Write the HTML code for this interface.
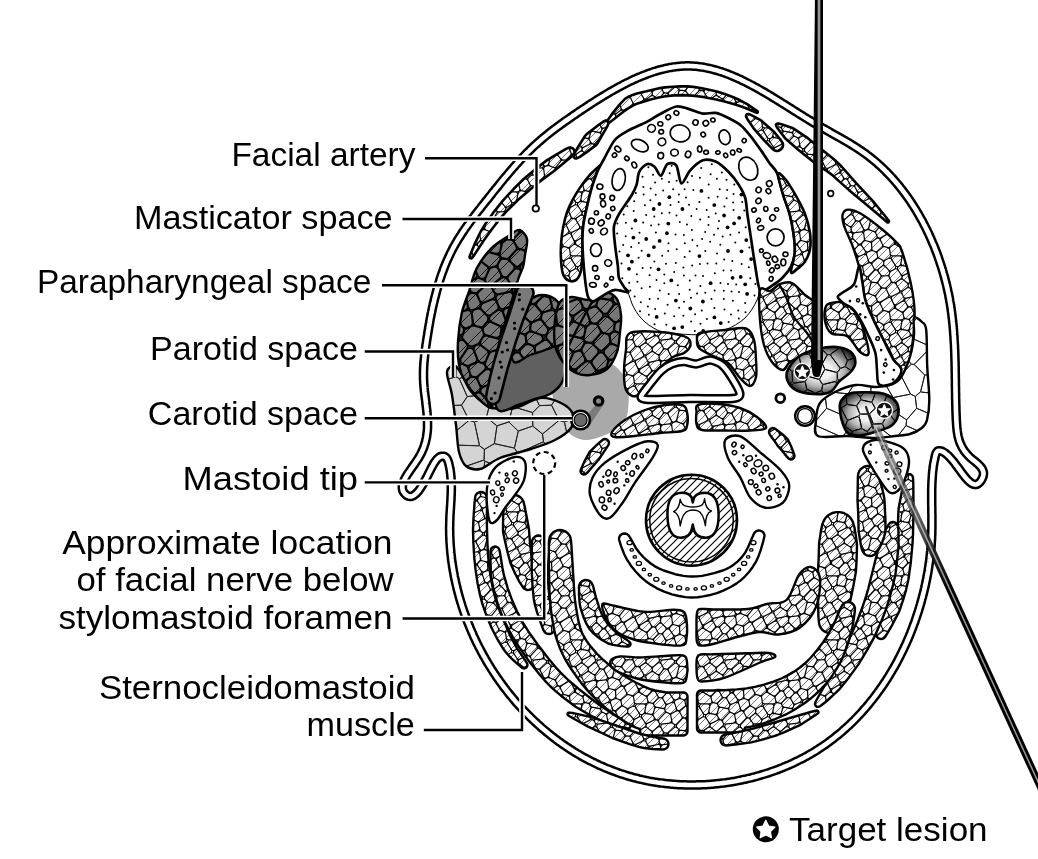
<!DOCTYPE html>
<html><head><meta charset="utf-8"><style>
html,body{margin:0;padding:0;background:#fff;}
svg{display:block;}
text{font-family:"Liberation Sans",sans-serif;font-size:34px;fill:#000;}
</style></head><body>
<svg width="1038" height="859" viewBox="0 0 1038 859">
<defs><pattern id="pc" width="64" height="64" patternUnits="userSpaceOnUse"><rect width="64" height="64" fill="#fff"/><path d="M26.1 51.6L26.3 51.8L26.5 51.9L26.7 52L26.9 52.1L27.1 52.2L27.3 52.3L27.5 52.3L27.8 52.3L28 52.3L28.2 52.3L28.4 52.2L28.7 52.2L28.9 52.1L29.1 52L29.3 51.8L29.4 51.7L29.6 51.5L31.8 49.1L31.9 48.9L32 48.7L32.1 48.5L32.2 48.3L32.3 48.1L32.3 47.9L32.4 47.7L32.4 47.4L32.4 47.2L31.8 42.1L31.7 41.9L31.7 41.6L31.6 41.4L31.5 41.2L31.3 41L31.2 40.8L31 40.7L30.9 40.5L30.7 40.4L30.5 40.3L30.3 40.2L30 40.1L29.8 40L29.6 40L29.3 40L29.1 40L22.9 40.7L22.6 40.7L22.4 40.8L22.2 40.9L21.9 41L21.7 41.1L21.5 41.3L21.4 41.4L21.2 41.6L21.1 41.8L21 42.1L20.9 42.3L20.8 42.5L20.7 42.7L20.7 43L20.7 45L20.7 45.2L20.7 45.5L20.7 45.7L20.8 46L20.9 46.2L21 46.4L21.2 46.6L21.3 46.8ZM-6.9 18.7L-6.9 19L-7 19.2L-7 19.4L-7 19.6L-7 19.9L-7 20.1L-6.9 20.3L-6.8 20.5L-4.8 25L-4.7 25.2L-4.6 25.4L-4.5 25.6L-4.3 25.7L-4.1 25.9L-3.9 26L-3.7 26.1L-3.5 26.2L-3.3 26.3L-3.1 26.4L-1.7 26.6L-1.5 26.6L-1.2 26.7L-1 26.6L-0.8 26.6L-0.5 26.5L-0.3 26.5L-0.1 26.3L0.1 26.2L4.8 22.9L5 22.7L5.2 22.6L5.3 22.4L5.5 22.2L5.6 22L5.7 21.7L5.7 21.5L5.8 21.1L5.9 20.8L5.9 20.6L5.9 20.3L5.9 20.1L5.8 19.9L5.7 19.6L5.6 19.4L5.5 19.2L1.8 13.8L1.7 13.6L1.5 13.5L1.4 13.3L1.2 13.2L1 13L0.7 12.9L0.5 12.9L0.3 12.8L0 12.8L-0.2 12.8L-0.5 12.8L-0.7 12.8L-0.9 12.9L-1.1 13L-1.4 13.1L-5.1 15.3L-5.3 15.4L-5.5 15.6L-5.6 15.8L-5.8 15.9L-5.9 16.1L-6 16.4L-6.1 16.6ZM57.1 18.7L57.1 19L57 19.2L57 19.4L57 19.6L57 19.9L57 20.1L57.1 20.3L57.2 20.5L59.2 25L59.3 25.2L59.4 25.4L59.5 25.6L59.7 25.7L59.9 25.9L60.1 26L60.3 26.1L60.5 26.2L60.7 26.3L60.9 26.4L62.3 26.6L62.5 26.6L62.8 26.7L63 26.6L63.2 26.6L63.5 26.5L63.7 26.5L63.9 26.3L64.1 26.2L68.8 22.9L69 22.7L69.2 22.6L69.3 22.4L69.5 22.2L69.6 22L69.7 21.7L69.7 21.5L69.8 21.1L69.9 20.8L69.9 20.6L69.9 20.3L69.9 20.1L69.8 19.9L69.7 19.6L69.6 19.4L69.5 19.2L65.8 13.8L65.7 13.6L65.5 13.5L65.4 13.3L65.2 13.2L65 13L64.7 12.9L64.5 12.9L64.3 12.8L64 12.8L63.8 12.8L63.5 12.8L63.3 12.8L63.1 12.9L62.9 13L62.6 13.1L58.9 15.3L58.7 15.4L58.5 15.6L58.4 15.8L58.2 15.9L58.1 16.1L58 16.4L57.9 16.6ZM5 6.8L5 7L4.9 7.3L5 7.5L5 7.7L5.1 8L5.1 8.2L5.2 8.4L5.4 8.6L5.5 8.8L5.6 9L5.8 9.1L6 9.2L6.2 9.4L6.4 9.5L6.6 9.6L6.9 9.6L10.6 10.4L10.9 10.4L11.1 10.4L11.4 10.4L11.6 10.4L11.8 10.3L12.1 10.2L12.3 10.1L12.5 10L12.7 9.9L12.9 9.7L13 9.5L13.2 9.3L13.3 9.1L13.4 8.9L13.4 8.6L14.7 3.9L14.8 3.7L14.8 3.4L14.8 3.2L14.8 2.9L14.7 2.7L14.7 2.5L14.6 2.2L14.4 2L13.5 0.4L13.3 0.2L13.2 0L13 -0.1L12.8 -0.3L12.7 -0.4L12.5 -0.5L12.2 -0.6L12 -0.7L9.4 -1.4L9.2 -1.4L9 -1.5L8.8 -1.5L8.5 -1.4L8.3 -1.4L8.1 -1.4L7.9 -1.3L7.7 -1.2L7.5 -1.1L7.3 -0.9L7.1 -0.7L6.9 -0.6L6.7 -0.4L6.6 -0.2L6.5 -0L6.4 0.2L6.3 0.4L6.2 0.7ZM5 70.8L5 71L4.9 71.3L5 71.5L5 71.7L5.1 72L5.1 72.2L5.2 72.4L5.4 72.6L5.5 72.8L5.6 73L5.8 73.1L6 73.2L6.2 73.4L6.4 73.5L6.6 73.6L6.9 73.6L10.6 74.4L10.9 74.4L11.1 74.4L11.4 74.4L11.6 74.4L11.8 74.3L12.1 74.2L12.3 74.1L12.5 74L12.7 73.9L12.9 73.7L13 73.5L13.2 73.3L13.3 73.1L13.4 72.9L13.4 72.6L14.7 67.9L14.8 67.7L14.8 67.4L14.8 67.2L14.8 66.9L14.7 66.7L14.7 66.5L14.6 66.2L14.4 66L13.5 64.4L13.3 64.2L13.2 64L13 63.9L12.8 63.7L12.7 63.6L12.5 63.5L12.2 63.4L12 63.3L9.4 62.6L9.2 62.6L9 62.5L8.8 62.5L8.5 62.6L8.3 62.6L8.1 62.6L7.9 62.7L7.7 62.8L7.5 62.9L7.3 63.1L7.1 63.3L6.9 63.4L6.7 63.6L6.6 63.8L6.5 64L6.4 64.2L6.3 64.4L6.2 64.7ZM7.3 19.5L7.1 19.6L7 19.7L6.8 19.9L6.6 20.1L6.5 20.2L6.4 20.4L6.2 20.7L6.2 20.9L6.1 21.1L6.1 21.3L6.1 21.6L6.1 21.8L6.1 22.1L6.2 22.3L6.2 22.5L6.3 22.7L6.5 22.9L6.6 23.1L6.8 23.3L6.9 23.4L10.7 26.5L10.9 26.6L11.1 26.8L11.3 26.9L11.6 26.9L11.8 27L12 27L12.3 27L12.5 27L12.7 27L13 26.9L13.2 26.8L13.4 26.7L13.6 26.6L13.8 26.4L18.7 22.1L18.9 21.9L19 21.7L19.2 21.5L19.3 21.3L19.4 21.1L19.4 20.9L19.5 20.6L19.5 20.4L19.5 20.2L19.5 19.9L19.4 19.7L19.4 19.5L19.3 19.2L18.3 17.3L18.2 17.1L18.1 17L17.9 16.8L17.8 16.6L17.6 16.5L17.4 16.3L17.2 16.2L16.3 15.8L16.1 15.7L15.9 15.7L15.6 15.6L15.4 15.6L15.1 15.6L14.9 15.6L14.7 15.7L14.4 15.8L14.2 15.9ZM19.6 38.8L19.7 39L19.8 39.2L19.9 39.4L20 39.6L20.1 39.8L20.3 40L20.5 40.2L20.7 40.3L20.9 40.4L21.1 40.5L21.3 40.6L21.5 40.6L21.8 40.7L22 40.7L22.2 40.7L29.3 39.9L29.5 39.8L29.7 39.8L30 39.7L30.2 39.6L30.4 39.5L30.6 39.3L30.7 39.2L30.9 39L31 38.8L31.1 38.6L31.2 38.4L31.3 38.2L31.4 38L31.4 37.7L31.4 37.5L31.4 37.3L31.4 37L31.3 36.8L31.3 36.6L31.2 36.4L28.1 30.5L28 30.3L27.8 30.1L27.7 29.9L27.5 29.7L27.3 29.6L27.1 29.4L26.8 29.3L26.6 29.3L26.4 29.2L25.3 29L25.1 29L24.9 29L24.6 29L24.4 29.1L24.2 29.1L23.9 29.2L23.7 29.3L23.5 29.5L23.3 29.6L23.2 29.8L23 30L19.6 34.6L19.4 34.7L19.3 34.9L19.2 35.2L19.2 35.4L19.1 35.6L19.1 35.8L19.1 36L19.1 36.3L19.1 36.5ZM7.9 60.9L8 61.1L8.1 61.3L8.2 61.5L8.3 61.7L8.5 61.9L8.6 62L8.8 62.2L9 62.3L9.2 62.4L9.4 62.5L9.6 62.6L11.6 63.1L11.8 63.2L12.1 63.2L12.3 63.2L12.5 63.2L12.8 63.1L13 63.1L13.2 63L13.4 62.9L13.6 62.8L13.8 62.6L14 62.5L17.4 59L17.5 58.8L17.7 58.6L17.8 58.4L17.9 58.2L18 58L18 57.7L18.1 57.5L18.1 57.3L18.1 57L18 56.8L18 56.6L17.9 56.3L17.8 56.1L15.7 52.2L15.6 52L15.4 51.8L15.3 51.7L15.1 51.5L14.9 51.4L14.7 51.3L14.5 51.2L14.3 51.1L14.1 51L13.9 51L13.3 50.9L13.1 50.9L12.9 50.9L12.7 50.9L12.4 51L12.2 51L12 51.1L11.8 51.2L11.6 51.4L11.4 51.5L11.3 51.7L7.7 55.7L7.5 55.9L7.4 56.1L7.3 56.3L7.2 56.5L7.1 56.8L7.1 57L7 57.2L7.1 57.5L7.1 57.7L7.1 58ZM6 38L5.8 37.8L5.7 37.6L5.5 37.4L5.4 37.2L5.2 37.1L5 37L4.8 36.9L4.6 36.8L4.3 36.7L4.1 36.7L3.9 36.7L3.6 36.7L3.4 36.7L3.2 36.8L3 36.8L2.8 36.9L-3.4 40L-3.6 40.1L-3.7 40.3L-3.9 40.4L-4.1 40.6L-4.2 40.8L-4.4 41L-4.5 41.2L-4.5 41.4L-4.6 41.6L-4.7 41.8L-4.7 42.1L-4.7 42.3L-4.6 42.5L-4.6 42.8L-4.5 43L-4.5 43.2L-2.4 47.5L-2.3 47.7L-2.2 47.9L-2 48.1L-1.9 48.3L-1.7 48.4L-1.5 48.6L-1.3 48.7L-1 48.8L-0.8 48.8L-0.6 48.9L-0.3 48.9L-0.1 48.9L0.2 48.9L0.4 48.8L0.6 48.7L0.8 48.6L1 48.5L7 44.7L7.2 44.6L7.4 44.4L7.6 44.2L7.7 44L7.8 43.8L7.9 43.6L8 43.4L8.1 43.2L8.1 42.9L8.1 42.7L8.1 42.5L8.1 42.2L8 42L8 41.8L7.9 41.5ZM70 38L69.8 37.8L69.7 37.6L69.5 37.4L69.4 37.2L69.2 37.1L69 37L68.8 36.9L68.6 36.8L68.3 36.7L68.1 36.7L67.9 36.7L67.6 36.7L67.4 36.7L67.2 36.8L67 36.8L66.8 36.9L60.6 40L60.4 40.1L60.3 40.3L60.1 40.4L59.9 40.6L59.8 40.8L59.6 41L59.5 41.2L59.5 41.4L59.4 41.6L59.3 41.8L59.3 42.1L59.3 42.3L59.4 42.5L59.4 42.8L59.5 43L59.5 43.2L61.6 47.5L61.7 47.7L61.8 47.9L62 48.1L62.1 48.3L62.3 48.4L62.5 48.6L62.7 48.7L63 48.8L63.2 48.8L63.4 48.9L63.7 48.9L63.9 48.9L64.2 48.9L64.4 48.8L64.6 48.7L64.8 48.6L65 48.5L71 44.7L71.2 44.6L71.4 44.4L71.6 44.2L71.7 44L71.8 43.8L71.9 43.6L72 43.4L72.1 43.2L72.1 42.9L72.1 42.7L72.1 42.5L72.1 42.2L72 42L72 41.8L71.9 41.5ZM57.4 1.6L57.6 1.5L57.8 1.3L57.9 1.1L58.1 0.9L58.2 0.7L58.3 0.5L58.4 0.3L58.5 0.1L58.5 -0.2L58.5 -0.4L58.5 -0.6L58.5 -0.9L57.5 -6.5L57.5 -6.7L57.4 -6.9L57.3 -7.1L57.1 -7.3L57 -7.5L56.8 -7.7L56.7 -7.9L56.5 -8L56.3 -8.2L56 -8.3L55.8 -8.3L52.7 -9.2L52.5 -9.3L52.2 -9.3L52 -9.3L51.8 -9.3L51.5 -9.2L51.3 -9.2L51.1 -9.1L50.9 -9L50.7 -8.9L50.5 -8.7L45.9 -4.8L45.7 -4.6L45.5 -4.4L45.4 -4.2L45.3 -4L45.2 -3.8L45.1 -3.6L45 -3.3L45 -3.1L45 -2.9L45 -2.6L45.1 -2.4L45.7 0.5L45.8 0.7L45.9 1L46 1.2L46.2 1.4L46.3 1.6L46.5 1.8L46.7 1.9L46.9 2L50.7 4.2L50.9 4.3L51.1 4.4L51.3 4.5L51.6 4.5L51.8 4.5L52 4.5L52.3 4.5L52.5 4.5L52.7 4.4L52.9 4.3L53.1 4.2ZM57.4 65.6L57.6 65.5L57.8 65.3L57.9 65.1L58.1 64.9L58.2 64.7L58.3 64.5L58.4 64.3L58.5 64.1L58.5 63.8L58.5 63.6L58.5 63.4L58.5 63.1L57.5 57.5L57.5 57.3L57.4 57.1L57.3 56.9L57.1 56.7L57 56.5L56.8 56.3L56.7 56.1L56.5 56L56.3 55.8L56 55.7L55.8 55.7L52.7 54.8L52.5 54.7L52.2 54.7L52 54.7L51.8 54.7L51.5 54.8L51.3 54.8L51.1 54.9L50.9 55L50.7 55.1L50.5 55.3L45.9 59.2L45.7 59.4L45.5 59.6L45.4 59.8L45.3 60L45.2 60.2L45.1 60.4L45 60.7L45 60.9L45 61.1L45 61.4L45.1 61.6L45.7 64.5L45.8 64.7L45.9 65L46 65.2L46.2 65.4L46.3 65.6L46.5 65.8L46.7 65.9L46.9 66L50.7 68.2L50.9 68.3L51.1 68.4L51.3 68.5L51.6 68.5L51.8 68.5L52 68.5L52.3 68.5L52.5 68.5L52.7 68.4L52.9 68.3L53.1 68.2ZM-7 39L-6.9 39.2L-6.8 39.4L-6.6 39.6L-6.4 39.8L-6.2 39.9L-6 40L-5.8 40.1L-5.6 40.2L-5.4 40.3L-5.1 40.3L-4.9 40.4L-4.7 40.4L-4.4 40.3L-4.2 40.3L-4 40.2L-3.7 40.1L2.3 37.1L2.5 37L2.7 36.8L2.8 36.7L3 36.5L3.1 36.3L3.3 36.1L3.4 35.9L3.5 35.7L3.5 35.5L3.6 35.3L3.6 35L3.6 34.8L3.6 34.6L3.5 34.4L3.5 34.1L3.4 33.9L3.3 33.7L-0.2 27.8L-0.3 27.7L-0.5 27.5L-0.6 27.3L-0.8 27.2L-1 27L-1.2 26.9L-1.4 26.8L-1.6 26.8L-1.8 26.7L-3.1 26.5L-3.3 26.4L-3.5 26.4L-3.8 26.4L-4 26.5L-4.2 26.5L-4.5 26.6L-4.7 26.7L-4.9 26.9L-5.1 27L-5.2 27.2L-9 31.1L-9.1 31.2L-9.3 31.4L-9.4 31.6L-9.5 31.9L-9.6 32.1L-9.6 32.3L-9.6 32.6L-9.7 32.8L-9.6 33L-9.6 33.3L-9.5 33.5L-9.4 33.7ZM57 39L57.1 39.2L57.2 39.4L57.4 39.6L57.6 39.8L57.8 39.9L58 40L58.2 40.1L58.4 40.2L58.6 40.3L58.9 40.3L59.1 40.4L59.3 40.4L59.6 40.3L59.8 40.3L60 40.2L60.3 40.1L66.3 37.1L66.5 37L66.7 36.8L66.8 36.7L67 36.5L67.1 36.3L67.3 36.1L67.4 35.9L67.5 35.7L67.5 35.5L67.6 35.3L67.6 35L67.6 34.8L67.6 34.6L67.5 34.4L67.5 34.1L67.4 33.9L67.3 33.7L63.8 27.8L63.7 27.7L63.5 27.5L63.4 27.3L63.2 27.2L63 27L62.8 26.9L62.6 26.8L62.4 26.8L62.2 26.7L60.9 26.5L60.7 26.4L60.5 26.4L60.2 26.4L60 26.5L59.8 26.5L59.5 26.6L59.3 26.7L59.1 26.9L58.9 27L58.8 27.2L55 31.1L54.9 31.2L54.7 31.4L54.6 31.6L54.5 31.9L54.4 32.1L54.4 32.3L54.4 32.6L54.3 32.8L54.4 33L54.4 33.3L54.5 33.5L54.6 33.7ZM37 20.3L36.9 20.5L36.7 20.7L36.6 20.9L36.5 21.1L36.5 21.3L36.4 21.6L36.4 21.8L36.4 22L36.4 22.3L36.5 22.5L36.6 22.7L36.6 23L36.8 23.2L36.9 23.4L37 23.5L38.7 25.3L38.8 25.5L39 25.6L39.2 25.7L39.4 25.9L39.6 25.9L39.9 26L40.1 26.1L43.7 26.6L43.9 26.6L44.1 26.6L44.4 26.6L44.6 26.5L44.8 26.5L45 26.4L45.2 26.3L45.4 26.1L45.6 26L45.8 25.8L45.9 25.7L46.1 25.5L48.6 21.4L48.8 21.1L48.8 20.9L48.9 20.7L49 20.5L49 20.2L49 20L49 19.7L48.9 19.5L48.9 19.3L48.8 19L48.6 18.8L48.5 18.6L45.7 15L45.6 14.8L45.4 14.6L45.2 14.5L45 14.3L44.8 14.2L44.6 14.1L44.3 14.1L44.1 14L44 14L43.8 14L43.6 14L43.4 14.1L43.1 14.1L42.9 14.2L42.7 14.3L42.5 14.4L42.3 14.5L42.2 14.6L42 14.8ZM39.9 56.7L39.9 57L39.9 57.2L40 57.4L40.1 57.6L40.2 57.8L40.3 58L40.5 58.2L40.6 58.4L40.8 58.5L41 58.6L41.2 58.8L41.4 58.9L43.3 59.6L43.6 59.7L43.8 59.7L44 59.8L44.3 59.8L44.5 59.7L44.7 59.7L45 59.6L45.2 59.6L45.4 59.5L45.6 59.3L45.8 59.2L50 55.6L50.2 55.4L50.3 55.2L50.5 55L50.6 54.8L50.7 54.6L50.7 54.4L50.8 54.1L50.8 53.9L50.8 53.6L50.8 53.4L50.7 53.2L50.7 52.9L50.6 52.7L48 47.5L47.9 47.2L47.7 47.1L47.6 46.9L47.4 46.7L47.2 46.6L47 46.4L46.8 46.3L46.6 46.3L46.4 46.2L46.2 46.1L46 46.1L45.7 46.1L45.5 46.1L45.3 46.2L45 46.2L44.8 46.3L44.6 46.4L44.4 46.6L40.6 49.3L40.4 49.5L40.2 49.7L40.1 49.8L39.9 50L39.8 50.3L39.7 50.5L39.7 50.7L39.6 50.9L39.6 51.2L39.6 51.4ZM3.5 33.9L3.6 34.1L3.8 34.3L3.9 34.5L4.1 34.6L4.3 34.8L4.5 34.9L4.7 35L4.9 35L5.2 35.1L5.4 35.1L5.6 35.1L5.9 35.1L6.1 35.1L6.3 35L6.5 34.9L6.7 34.8L6.9 34.7L11.2 31.8L11.3 31.6L11.5 31.5L11.7 31.3L11.8 31.1L11.9 30.9L12 30.7L12.1 30.5L12.1 30.3L12.2 30.1L12.2 29.8L12.2 29L12.2 28.8L12.2 28.6L12.1 28.3L12 28.1L11.9 27.9L11.8 27.7L11.7 27.5L11.5 27.3L11.3 27.1L7 23.6L6.8 23.5L6.6 23.3L6.4 23.2L6.1 23.2L5.9 23.1L5.7 23.1L5.4 23.1L5.2 23.1L5 23.1L4.7 23.2L4.5 23.3L4.3 23.4L4.1 23.5L1.2 25.6L1 25.7L0.8 25.9L0.6 26.1L0.5 26.3L0.4 26.5L0.3 26.7L0.2 26.9L0.2 27.2L0.1 27.4L0.1 27.6L0.2 27.9L0.2 28.1L0.3 28.3L0.4 28.6L0.5 28.8ZM14.9 14.5L15.1 14.7L15.2 14.9L15.4 15.1L15.6 15.3L15.8 15.4L16 15.6L16.4 15.7L16.6 15.8L16.8 15.9L17 15.9L17.3 16L17.5 16L17.7 15.9L18 15.9L18.2 15.8L18.4 15.7L18.6 15.6L18.8 15.5L19 15.3L19.2 15.1L24.7 9L24.8 8.8L25 8.6L25.1 8.4L25.2 8.1L25.2 7.9L25.3 7.7L25.3 7.5L25.3 7.2L25.3 7L25.2 6.7L25.1 6.5L25 6.2L24.9 5.9L24.8 5.7L24.6 5.5L24.5 5.4L24.3 5.2L24.1 5L23.9 4.9L23.7 4.8L23.5 4.7L23.2 4.7L17.3 3.4L17.1 3.4L16.8 3.4L16.6 3.4L16.3 3.4L16.1 3.5L15.9 3.6L15.6 3.7L15.4 3.8L15.3 3.9L15.1 4.1L14.9 4.3L14.8 4.5L14.7 4.7L14.6 4.9L14.5 5.1L13.2 10L13.1 10.2L13.1 10.4L13.1 10.6L13.1 10.9L13.2 11.1L13.2 11.3L13.3 11.5L13.4 11.7ZM35.2 7.5L35.4 7.4L35.5 7.3L35.7 7.1L35.9 7L36 6.8L36.1 6.6L36.2 6.4L36.3 6.2L36.4 6L36.4 5.7L36.5 5.5L36.5 5.3L36.4 5.1L36.4 4.8L36.3 4.6L34.8 -0.1L34.7 -0.3L34.6 -0.5L34.4 -0.7L34.3 -0.9L34.1 -1L34 -1.2L33.8 -1.3L33.6 -1.4L33.3 -1.5L33.1 -1.6L32.9 -1.7L32.7 -1.7L32.4 -1.7L32.2 -1.7L32 -1.6L31.7 -1.6L31.5 -1.5L27.1 0.4L26.8 0.5L26.6 0.7L26.5 0.8L26.3 1L26.1 1.2L26 1.4L25.9 1.6L25.8 1.8L24.9 4L24.9 4.3L24.8 4.5L24.8 4.8L24.8 5L24.8 5.3L24.9 5.5L24.9 5.7L25.4 6.9L25.5 7.1L25.6 7.3L25.7 7.5L25.9 7.7L26.1 7.9L26.2 8L26.4 8.2L26.6 8.3L29.3 9.5L29.5 9.6L29.8 9.6L30 9.7L30.3 9.7L30.5 9.7L30.7 9.7L31 9.6L31.2 9.5L31.4 9.4ZM35.2 71.5L35.4 71.4L35.5 71.3L35.7 71.1L35.9 71L36 70.8L36.1 70.6L36.2 70.4L36.3 70.2L36.4 70L36.4 69.7L36.5 69.5L36.5 69.3L36.4 69.1L36.4 68.8L36.3 68.6L34.8 63.9L34.7 63.7L34.6 63.5L34.4 63.3L34.3 63.1L34.1 63L34 62.8L33.8 62.7L33.6 62.6L33.3 62.5L33.1 62.4L32.9 62.3L32.7 62.3L32.4 62.3L32.2 62.3L32 62.4L31.7 62.4L31.5 62.5L27.1 64.4L26.8 64.5L26.6 64.7L26.5 64.8L26.3 65L26.1 65.2L26 65.4L25.9 65.6L25.8 65.8L24.9 68L24.9 68.3L24.8 68.5L24.8 68.8L24.8 69L24.8 69.3L24.9 69.5L24.9 69.7L25.4 70.9L25.5 71.1L25.6 71.3L25.7 71.5L25.9 71.7L26.1 71.9L26.2 72L26.4 72.2L26.6 72.3L29.3 73.5L29.5 73.6L29.8 73.6L30 73.7L30.3 73.7L30.5 73.7L30.7 73.7L31 73.6L31.2 73.5L31.4 73.4ZM33.3 38.4L33.1 38.5L32.9 38.6L32.7 38.7L32.5 38.8L32.4 39L32.2 39.2L32.1 39.4L32 39.6L31.9 39.8L31.8 40L31.7 40.2L31.7 40.5L31.7 40.7L31.7 40.9L32.4 46.6L32.4 46.9L32.5 47.1L32.6 47.3L32.7 47.5L32.8 47.7L33 47.9L33.1 48.1L33.3 48.3L33.5 48.4L33.7 48.5L34 48.6L34.2 48.7L38.4 49.8L38.6 49.8L38.8 49.8L39.1 49.8L39.3 49.8L39.5 49.8L39.7 49.7L40 49.6L40.2 49.5L40.4 49.4L44 46.7L44.2 46.6L44.4 46.4L44.5 46.2L44.7 46L44.8 45.8L44.9 45.6L44.9 45.4L45 45.2L45 44.9L45 44.7L45 44.5L45 44.3L44.9 44L44.8 43.8L43.6 41.1L43.5 40.9L43.4 40.7L43.2 40.5L43.1 40.3L42.9 40.2L42.7 40L42.5 39.9L42.3 39.8L37.1 37.7L36.9 37.6L36.7 37.6L36.4 37.6L36.2 37.6L36 37.6L35.7 37.6L35.5 37.7ZM41.4 26.3L41.2 26.3L40.9 26.3L40.7 26.3L40.5 26.4L40.2 26.5L40 26.6L39.8 26.7L39.6 26.8L39.4 26.9L39.3 27.1L39.1 27.3L39 27.5L38.9 27.7L38.8 27.9L38.7 28.1L36.9 35.3L36.9 35.5L36.8 35.7L36.8 36L36.8 36.2L36.9 36.4L36.9 36.6L37 36.9L37.1 37.1L37.3 37.3L37.4 37.4L37.6 37.6L37.7 37.8L37.9 37.9L38.1 38L38.3 38.1L41.6 39.4L41.8 39.5L42 39.5L42.3 39.6L42.5 39.6L42.7 39.6L43 39.5L43.2 39.5L43.4 39.4L43.6 39.3L43.8 39.1L44 39L44.2 38.8L44.4 38.7L48.4 33.5L48.6 33.3L48.7 33.1L48.8 32.8L48.9 32.6L48.9 32.4L48.9 32.1L48.9 31.9L48.9 31.7L48.9 31.4L48.8 31.2L48.7 31L48.6 30.8L48.5 30.6L48.3 30.4L45.8 27.5L45.6 27.4L45.5 27.2L45.3 27.1L45 27L44.8 26.9L44.6 26.8L44.3 26.8ZM62.6 13L62.8 12.9L63 12.8L63.1 12.6L63.3 12.4L63.4 12.2L63.5 12L63.6 11.8L63.7 11.6L63.7 11.3L63.7 11.1L63.7 10.8L63.7 10.6L63.7 10.4L63.6 10.1L63.5 9.9L63.4 9.7L59.4 3.3L59.3 3.1L59.1 2.9L59 2.7L58.8 2.6L58.6 2.5L58.4 2.3L58.2 2.3L57.9 2.2L57.7 2.1L57.5 2.1L57.2 2.1L57 2.2L56.8 2.2L56.6 2.3L56.3 2.4L56.1 2.5L53 4.4L52.8 4.5L52.7 4.6L52.5 4.8L52.3 5L52.2 5.2L52.1 5.4L52 5.6L51.9 5.8L51.9 6L51.9 6.2L51.8 7.7L51.8 7.9L51.8 8.2L51.8 8.4L51.9 8.7L52 8.9L52.1 9.1L52.3 9.3L52.4 9.5L56.8 14.2L57 14.4L57.2 14.5L57.4 14.7L57.6 14.8L57.8 14.9L58 14.9L58.2 15L58.5 15L58.7 15L58.9 15L59.1 14.9L59.4 14.9L59.6 14.8L59.8 14.7ZM19.1 18.7L19.2 18.9L19.4 19.1L19.5 19.3L19.7 19.5L19.8 19.6L20 19.7L20.2 19.8L20.4 19.9L20.7 20L20.9 20L21.1 20.1L21.3 20.1L21.6 20.1L29.6 19.1L29.8 19L30 19L30.3 18.9L30.5 18.8L30.7 18.7L30.8 18.5L31 18.4L31.2 18.2L31.3 18L31.4 17.8L31.5 17.6L31.6 17.4L31.6 17.1L31.7 16.9L31.7 16.7L31.7 16.4L31.6 16.2L30.6 11.2L30.5 11L30.5 10.8L30.4 10.6L30.2 10.4L30.1 10.2L30 10.1L29.8 9.9L29.6 9.8L29.4 9.6L29.2 9.5L27.3 8.7L27.1 8.6L26.9 8.5L26.6 8.5L26.4 8.5L26.2 8.5L25.9 8.5L25.7 8.5L25.5 8.6L25.3 8.7L25.1 8.8L24.9 9L24.7 9.1L24.5 9.3L19.1 15.4L19 15.5L18.8 15.7L18.7 15.9L18.7 16.2L18.6 16.4L18.5 16.6L18.5 16.9L18.5 17.1L18.6 17.3L18.6 17.6L18.7 17.8L18.8 18ZM-5.6 61.9L-5.5 62.2L-5.5 62.4L-5.4 62.6L-5.2 62.8L-5.1 63L-4.9 63.2L-4.8 63.4L-4.6 63.5L-4.4 63.6L-4.1 63.7L-3.9 63.8L-3.7 63.9L-3.4 63.9L-3.2 63.9L5.5 63.7L5.7 63.7L6 63.7L6.2 63.6L6.4 63.6L6.6 63.5L6.8 63.4L7 63.2L7 63.2L7.1 63.1L7.3 62.9L7.4 62.7L7.6 62.5L7.7 62.3L7.7 62.1L7.8 61.9L7.8 61.6L7.9 61.4L7.9 61.2L7.8 60.9L7.8 60.7L6.9 57.7L6.9 57.4L6.8 57.2L6.7 57L6.5 56.8L6.4 56.7L6.2 56.5L6.1 56.3L5.9 56.2L-0.1 52.7L-0.3 52.6L-0.5 52.5L-0.7 52.4L-0.9 52.4L-1.2 52.3L-1.4 52.3L-1.6 52.3L-1.8 52.4L-2.1 52.4L-2.3 52.5L-2.5 52.6L-2.7 52.7L-2.9 52.9L-5.6 55.2L-5.8 55.3L-5.9 55.5L-6 55.7L-6.2 55.9L-6.3 56.1L-6.3 56.3L-6.4 56.5L-6.4 56.7L-6.5 57L-6.4 57.2L-6.4 57.4ZM58.4 61.9L58.5 62.2L58.5 62.4L58.6 62.6L58.8 62.8L58.9 63L59.1 63.2L59.2 63.4L59.4 63.5L59.6 63.6L59.9 63.7L60.1 63.8L60.3 63.9L60.6 63.9L60.8 63.9L69.5 63.7L69.7 63.7L70 63.7L70.2 63.6L70.4 63.6L70.6 63.5L70.8 63.4L71 63.2L71 63.2L71.1 63.1L71.3 62.9L71.4 62.7L71.6 62.5L71.7 62.3L71.7 62.1L71.8 61.9L71.8 61.6L71.9 61.4L71.9 61.2L71.8 60.9L71.8 60.7L70.9 57.7L70.9 57.4L70.8 57.2L70.7 57L70.5 56.8L70.4 56.7L70.2 56.5L70.1 56.3L69.9 56.2L63.9 52.7L63.7 52.6L63.5 52.5L63.3 52.4L63.1 52.4L62.8 52.3L62.6 52.3L62.4 52.3L62.2 52.4L61.9 52.4L61.7 52.5L61.5 52.6L61.3 52.7L61.1 52.9L58.4 55.2L58.2 55.3L58.1 55.5L58 55.7L57.8 55.9L57.7 56.1L57.7 56.3L57.6 56.5L57.6 56.7L57.5 57L57.6 57.2L57.6 57.4ZM40.7 5.9L40.5 6L40.4 6.2L40.2 6.4L40.1 6.6L40 6.8L39.9 7.1L39.9 7.3L39.8 7.5L39.8 7.8L39.8 8L39.9 8.2L39.9 8.5L40 8.7L40.1 8.9L42.2 12.7L42.4 12.9L42.5 13.1L42.7 13.3L42.8 13.4L43 13.6L43.2 13.7L43.4 13.8L43.6 13.8L43.9 13.9L44.1 13.9L44.1 13.9L44.4 14L44.6 13.9L44.8 13.9L45.1 13.9L45.3 13.8L45.5 13.7L45.7 13.6L45.9 13.4L50.8 9.4L51 9.2L51.1 9L51.3 8.8L51.4 8.6L51.5 8.4L51.6 8.2L51.6 7.9L51.7 7.7L51.8 6.5L51.8 6.3L51.7 6L51.7 5.8L51.6 5.5L51.5 5.3L51.4 5.1L51.3 4.9L51.1 4.7L51 4.5L50.8 4.4L50.6 4.3L47.4 2.4L47.2 2.3L46.9 2.2L46.7 2.2L46.5 2.1L46.2 2.1L46 2.1L45.7 2.2L45.5 2.2L45.3 2.3L45.1 2.4L44.9 2.5L44.7 2.7ZM34 48.7L33.7 48.7L33.5 48.7L33.3 48.7L33 48.7L32.8 48.7L32.6 48.8L32.3 48.9L32.1 49L31.9 49.1L31.8 49.3L31.6 49.5L30.2 51.1L30 51.2L29.9 51.4L29.8 51.6L29.7 51.8L29.6 52.1L29.6 52.3L29.5 52.5L29.5 52.7L29.6 53L29.6 53.2L29.7 53.4L29.7 53.6L29.8 53.8L30 54L33.3 58.9L33.5 59L33.6 59.2L33.8 59.4L34 59.5L34.2 59.6L34.4 59.7L34.6 59.8L34.8 59.9L35 59.9L35.3 59.9L35.5 59.9L35.7 59.9L36 59.8L36.2 59.7L38.2 58.9L38.5 58.8L38.7 58.7L38.8 58.6L39 58.4L39.2 58.3L39.3 58.1L39.5 57.9L39.6 57.7L39.6 57.5L39.7 57.2L39.8 57L39.8 56.8L39.8 56.6L39.5 51.9L39.5 51.6L39.4 51.4L39.4 51.2L39.3 51L39.2 50.8L39 50.6L38.9 50.4L38.7 50.2L38.5 50.1L38.4 50L38.1 49.8L37.9 49.8L37.7 49.7ZM48.8 18.9L49 19.1L49.2 19.2L49.3 19.4L49.5 19.5L49.7 19.6L49.9 19.7L50.2 19.8L50.4 19.8L50.6 19.8L50.9 19.8L55.1 19.7L55.3 19.6L55.6 19.6L55.8 19.5L56 19.4L56.2 19.3L56.4 19.2L56.6 19L56.8 18.9L56.9 18.7L57 18.5L57.2 18.3L57.2 18.1L57.6 17.1L57.7 16.9L57.7 16.6L57.7 16.4L57.7 16.2L57.7 15.9L57.6 15.7L57.6 15.5L57.5 15.3L57.4 15L57.2 14.8L57.1 14.7L53.2 10.5L53 10.3L52.8 10.2L52.6 10L52.4 9.9L52.2 9.8L51.9 9.8L51.7 9.7L51.5 9.7L51.2 9.7L51 9.8L50.8 9.8L50.5 9.9L50.3 10L50.1 10.1L49.9 10.3L47 12.6L46.8 12.8L46.7 13L46.5 13.1L46.4 13.3L46.3 13.5L46.2 13.8L46.2 14L46.1 14.2L46.1 14.4L46.1 14.7L46.2 14.9L46.2 15.1L46.3 15.3L46.4 15.6L46.5 15.8L46.6 15.9ZM46.3 25.3L46.2 25.5L46.1 25.7L46 26L45.9 26.2L45.9 26.4L45.9 26.7L45.9 26.9L46 27.1L46 27.4L46.1 27.6L46.2 27.8L46.4 28L46.5 28.2L49.1 31.1L49.3 31.3L49.4 31.4L49.6 31.6L49.8 31.7L50 31.8L50.3 31.8L50.5 31.9L50.7 31.9L52.7 32.1L52.9 32.1L53.1 32.1L53.4 32L53.6 32L53.8 31.9L54 31.8L54.2 31.7L54.4 31.5L54.6 31.4L58.5 27.3L58.6 27.2L58.8 27L58.9 26.8L59 26.5L59.1 26.3L59.1 26.1L59.1 25.9L59.1 25.6L59.1 25.4L59.1 25.1L59 24.9L58.9 24.7L57.4 21.2L57.3 21L57.1 20.8L57 20.6L56.8 20.4L56.6 20.3L56.5 20.1L56.2 20L56 19.9L55.8 19.8L55.6 19.8L55.3 19.8L55.1 19.8L50.9 19.9L50.6 20L50.4 20L50.2 20.1L50 20.2L49.8 20.3L49.6 20.4L49.4 20.5L49.2 20.7L49.1 20.9L48.9 21.1ZM51 53.4L51.1 53.6L51.3 53.8L51.4 53.9L51.6 54.1L51.7 54.2L51.9 54.4L52.1 54.5L52.3 54.6L52.5 54.6L56.1 55.6L56.3 55.7L56.5 55.7L56.7 55.7L57 55.7L57.2 55.7L57.4 55.6L57.7 55.5L57.9 55.4L58.1 55.3L58.2 55.2L61.7 52.3L61.9 52.1L62.1 51.9L62.2 51.7L62.3 51.5L62.4 51.3L62.5 51.1L62.5 50.8L62.5 50.8L62.6 50.6L62.6 50.3L62.6 50.1L62.5 49.9L62.4 49.6L62.3 49.4L59.3 42.9L59.2 42.7L59.1 42.5L58.9 42.3L58.8 42.1L58.6 42L58.4 41.9L58.2 41.8L58 41.7L57.7 41.6L57.5 41.5L57.3 41.5L57.1 41.5L56.8 41.5L56.6 41.6L56.4 41.6L56.2 41.7L56 41.8L49.6 45.4L49.4 45.5L49.2 45.6L49 45.8L48.9 46L48.7 46.2L48.6 46.4L48.5 46.6L48.4 46.9L48.4 47.1L48.4 47.3L48.4 47.6L48.4 47.8L48.5 48.1L48.5 48.3L48.6 48.5ZM10.7 42.1L10.5 42.2L10.2 42.3L10 42.4L9.8 42.5L9.7 42.6L9.5 42.8L9.3 43L9.2 43.2L9.1 43.4L9 43.6L8.9 43.8L8.9 44.1L8.8 44.3L8.8 44.5L8.9 44.8L8.9 45L9 45.2L9.1 45.5L9.2 45.7L11.5 49.6L11.6 49.8L11.8 50L12 50.2L12.2 50.4L12.4 50.5L12.6 50.6L12.8 50.7L13 50.8L13.3 50.8L14 50.9L14.2 50.9L14.5 50.9L14.7 50.9L14.9 50.8L15.1 50.8L15.4 50.7L15.6 50.6L15.8 50.4L15.9 50.3L19.8 46.7L19.9 46.5L20.1 46.4L20.2 46.2L20.3 46L20.4 45.7L20.5 45.5L20.5 45.3L20.5 45L20.6 42.9L20.6 42.7L20.6 42.5L20.6 42.2L20.5 42L20.4 41.8L20.3 41.6L20.2 41.4L20 41.2L19.8 41.1L19.7 40.9L19.5 40.8L19.3 40.7L19.1 40.6L18.8 40.5L18.6 40.5L18.4 40.4L18.2 40.4L17.9 40.5L17.7 40.5ZM38 6.9L37.7 6.8L37.5 6.8L37.2 6.8L37 6.8L36.7 6.9L36.5 7L36.3 7.1L32.1 9.2L31.9 9.3L31.7 9.5L31.5 9.6L31.3 9.8L31.2 10L31.1 10.2L30.9 10.4L30.9 10.6L30.8 10.9L30.8 11.1L30.8 11.4L30.8 11.6L30.8 11.8L32.1 18L32.2 18.2L32.2 18.4L32.3 18.6L32.5 18.8L32.6 19L32.7 19.2L32.9 19.3L33.9 20.2L34.1 20.3L34.3 20.4L34.5 20.5L34.7 20.6L34.9 20.7L35.1 20.7L35.4 20.7L35.6 20.7L35.8 20.7L36.1 20.6L36.3 20.6L36.5 20.5L36.7 20.4L36.9 20.2L37.1 20.1L37.2 19.9L41.6 15.1L41.7 14.9L41.9 14.8L42 14.6L42.1 14.3L42.1 14.1L42.2 13.9L42.2 13.7L42.2 13.4L42.2 13.2L42.2 13L42.1 12.8L42 12.6L41.9 12.3L39.6 8.1L39.4 7.9L39.3 7.7L39.1 7.5L38.9 7.3L38.7 7.2L38.5 7.1L38.3 7L38.1 6.9ZM17.5 40.5L17.7 40.4L17.9 40.3L18.1 40.2L18.3 40.1L18.5 39.9L18.7 39.8L18.8 39.6L18.9 39.4L19.1 39.2L19.2 39L19.2 38.8L19.3 38.5L19.3 38.3L19.3 38.1L19.3 37.8L19.3 37.6L19 36.4L19 36.2L18.9 36L18.8 35.8L18.7 35.6L18.5 35.4L18.4 35.2L18.2 35L18 34.9L13.6 32L13.4 31.9L13.2 31.8L12.9 31.7L12.7 31.7L12.5 31.7L12.2 31.6L12 31.7L11.8 31.7L11.5 31.8L11.3 31.8L11.1 31.9L10.9 32.1L6.8 34.9L6.7 35L6.5 35.2L6.3 35.3L6.2 35.5L6.1 35.7L6 35.9L5.9 36.2L5.8 36.4L5.8 36.6L5.8 36.9L5.8 37.1L5.8 37.3L5.9 37.5L6 37.8L6.1 38L7.6 40.9L7.8 41.1L7.9 41.3L8.1 41.5L8.2 41.6L8.4 41.8L8.6 41.9L8.9 42L9.1 42.1L9.3 42.1L9.6 42.2L9.8 42.2L10 42.1L10.3 42.1ZM22.8 -5L22.7 -5.2L22.6 -5.3L22.4 -5.5L22.3 -5.7L22.1 -5.8L21.9 -5.9L21.7 -6L21.5 -6.1L21.2 -6.2L21 -6.2L20.8 -6.2L19.7 -6.2L19.5 -6.2L19.3 -6.2L19 -6.1L18.8 -6.1L18.6 -5.9L18.4 -5.8L18.2 -5.7L18 -5.5L14.4 -1.8L14.2 -1.6L14.1 -1.4L13.9 -1.2L13.8 -1L13.8 -0.8L13.7 -0.5L13.7 -0.3L13.7 -0L13.7 0.2L13.7 0.5L13.8 0.7L13.9 0.9L14 1.1L14.5 2L14.7 2.2L14.8 2.3L15 2.5L15.2 2.7L15.4 2.8L15.6 2.9L15.8 3L16.1 3.1L22.5 4.4L22.8 4.4L23 4.5L23.2 4.4L23.5 4.4L23.7 4.3L23.9 4.3L24.2 4.2L24.4 4L24.6 3.9L24.7 3.7L24.9 3.5L25 3.3L25.2 3.1L25.3 2.9L25.6 1.8L25.7 1.6L25.8 1.4L25.8 1.2L25.8 0.9L25.8 0.7L25.7 0.5L25.7 0.3L25.6 0.1L25.5 -0.2ZM22.8 59L22.7 58.8L22.6 58.7L22.4 58.5L22.3 58.3L22.1 58.2L21.9 58.1L21.7 58L21.5 57.9L21.2 57.8L21 57.8L20.8 57.8L19.7 57.8L19.5 57.8L19.3 57.8L19 57.9L18.8 57.9L18.6 58.1L18.4 58.2L18.2 58.3L18 58.5L14.4 62.2L14.2 62.4L14.1 62.6L13.9 62.8L13.8 63L13.8 63.2L13.7 63.5L13.7 63.7L13.7 64L13.7 64.2L13.7 64.5L13.8 64.7L13.9 64.9L14 65.1L14.5 66L14.7 66.2L14.8 66.3L15 66.5L15.2 66.7L15.4 66.8L15.6 66.9L15.8 67L16.1 67.1L22.5 68.4L22.8 68.4L23 68.5L23.2 68.4L23.5 68.4L23.7 68.3L23.9 68.3L24.2 68.2L24.4 68L24.6 67.9L24.7 67.7L24.9 67.5L25 67.3L25.2 67.1L25.3 66.9L25.6 65.8L25.7 65.6L25.8 65.4L25.8 65.2L25.8 64.9L25.8 64.7L25.7 64.5L25.7 64.3L25.6 64.1L25.5 63.8ZM45.3 44.6L45.4 44.9L45.5 45.1L45.7 45.2L45.8 45.4L46 45.6L46.2 45.7L46.4 45.8L46.6 45.9L46.9 46L47.1 46L47.3 46.1L47.6 46.1L47.8 46.1L48 46L48.2 46L48.5 45.9L48.7 45.8L55.8 41.8L56 41.7L56.2 41.5L56.3 41.4L56.5 41.2L56.6 41L56.7 40.8L56.8 40.6L56.9 40.3L57 40.1L57 39.9L57 39.6L57 39.4L56.9 39.2L56.9 38.9L56.8 38.7L54.4 33.5L54.3 33.3L54.1 33.1L54 33L53.8 32.8L53.7 32.7L53.5 32.5L53.3 32.4L53.1 32.3L52.8 32.2L52.6 32.2L52.4 32.2L51 32L50.8 32L50.6 32.1L50.3 32.1L50.1 32.2L49.9 32.2L49.7 32.3L49.5 32.5L49.3 32.6L49.1 32.8L48.9 33L44.2 39L44.1 39.2L44 39.4L43.9 39.6L43.8 39.9L43.7 40.1L43.7 40.3L43.7 40.6L43.7 40.8L43.8 41L43.8 41.2L43.9 41.5ZM37.4 24L37.2 23.9L37 23.7L36.8 23.6L36.6 23.5L36.4 23.4L36.2 23.3L36 23.3L35.7 23.3L35.5 23.3L35.3 23.3L35 23.3L34.8 23.4L34.6 23.5L34.4 23.6L34.2 23.7L34 23.8L29.1 28.1L28.9 28.3L28.7 28.5L28.6 28.6L28.5 28.8L28.4 29.1L28.3 29.3L28.3 29.5L28.2 29.7L28.2 29.9L28.2 30.2L28.3 30.4L28.3 30.6L28.4 30.8L28.5 31L31.5 36.8L31.6 37L31.7 37.2L31.9 37.4L32.1 37.5L32.3 37.7L32.5 37.8L32.7 37.9L32.9 38L33.2 38L33.4 38.1L33.6 38.1L33.9 38L34.1 38L34.3 37.9L35 37.7L35.3 37.6L35.5 37.5L35.7 37.4L35.9 37.2L36 37.1L36.2 36.9L36.3 36.7L36.4 36.5L36.5 36.3L36.6 36L38.8 27.3L38.9 27L38.9 26.8L38.9 26.6L38.9 26.3L38.8 26.1L38.8 25.9L38.7 25.6L38.6 25.4L38.4 25.2L38.3 25ZM-2.2 -0L-2.5 0L-2.7 0L-2.9 0.1L-3.2 0.2L-3.4 0.3L-3.6 0.4L-3.8 0.6L-3.9 0.8L-4.1 0.9L-4.2 1.1L-4.3 1.3L-4.4 1.6L-4.5 1.8L-4.6 2L-4.6 2.3L-4.6 2.5L-4.6 2.7L-4.5 3L-4.4 3.2L-4.3 3.4L-4.2 3.6L-0.6 9.5L-0.5 9.7L-0.3 9.9L-0.1 10.1L0 10.2L0.2 10.3L0.5 10.4L0.7 10.5L0.9 10.6L1.2 10.6L1.4 10.7L1.6 10.6L1.9 10.6L2.1 10.6L2.3 10.5L2.6 10.4L2.8 10.3L3.6 9.7L3.8 9.6L4 9.4L4.1 9.2L4.3 9L4.4 8.8L4.5 8.6L4.6 8.4L4.6 8.2L5.7 2.8L5.7 2.5L5.7 2.3L5.7 2L5.7 1.8L5.6 1.6L5.6 1.4L5.5 1.1L5.3 0.9L5.2 0.7L5 0.6L4.8 0.4L4.7 0.3L4.4 0.2L4.2 0.1L4 -0L3.8 -0.1L3.5 -0.1L3.3 -0.1ZM-2.2 64L-2.5 64L-2.7 64L-2.9 64.1L-3.2 64.2L-3.4 64.3L-3.6 64.4L-3.8 64.6L-3.9 64.8L-4.1 64.9L-4.2 65.1L-4.3 65.3L-4.4 65.6L-4.5 65.8L-4.6 66L-4.6 66.3L-4.6 66.5L-4.6 66.7L-4.5 67L-4.4 67.2L-4.3 67.4L-4.2 67.6L-0.6 73.5L-0.5 73.7L-0.3 73.9L-0.1 74.1L0 74.2L0.2 74.3L0.5 74.4L0.7 74.5L0.9 74.6L1.2 74.6L1.4 74.7L1.6 74.6L1.9 74.6L2.1 74.6L2.3 74.5L2.6 74.4L2.8 74.3L3.6 73.7L3.8 73.6L4 73.4L4.1 73.2L4.3 73L4.4 72.8L4.5 72.6L4.6 72.4L4.6 72.2L5.7 66.8L5.7 66.5L5.7 66.3L5.7 66L5.7 65.8L5.6 65.6L5.6 65.4L5.5 65.1L5.3 64.9L5.2 64.7L5 64.6L4.8 64.4L4.7 64.3L4.4 64.2L4.2 64.1L4 64L3.8 63.9L3.5 63.9L3.3 63.9ZM61.8 -0L61.5 0L61.3 0L61.1 0.1L60.8 0.2L60.6 0.3L60.4 0.4L60.2 0.6L60.1 0.8L59.9 0.9L59.8 1.1L59.7 1.3L59.6 1.6L59.5 1.8L59.4 2L59.4 2.3L59.4 2.5L59.4 2.7L59.5 3L59.6 3.2L59.7 3.4L59.8 3.6L63.4 9.5L63.5 9.7L63.7 9.9L63.9 10.1L64 10.2L64.2 10.3L64.5 10.4L64.7 10.5L64.9 10.6L65.2 10.6L65.4 10.7L65.6 10.6L65.9 10.6L66.1 10.6L66.3 10.5L66.6 10.4L66.8 10.3L67.6 9.7L67.8 9.6L68 9.4L68.1 9.2L68.3 9L68.4 8.8L68.5 8.6L68.6 8.4L68.6 8.2L69.7 2.8L69.7 2.5L69.7 2.3L69.7 2L69.7 1.8L69.6 1.6L69.6 1.4L69.5 1.1L69.3 0.9L69.2 0.7L69 0.6L68.8 0.4L68.7 0.3L68.4 0.2L68.2 0.1L68 -0L67.8 -0.1L67.5 -0.1L67.3 -0.1ZM61.8 64L61.5 64L61.3 64L61.1 64.1L60.8 64.2L60.6 64.3L60.4 64.4L60.2 64.6L60.1 64.8L59.9 64.9L59.8 65.1L59.7 65.3L59.6 65.6L59.5 65.8L59.4 66L59.4 66.3L59.4 66.5L59.4 66.7L59.5 67L59.6 67.2L59.7 67.4L59.8 67.6L63.4 73.5L63.5 73.7L63.7 73.9L63.9 74.1L64 74.2L64.2 74.3L64.5 74.4L64.7 74.5L64.9 74.6L65.2 74.6L65.4 74.7L65.6 74.6L65.9 74.6L66.1 74.6L66.3 74.5L66.6 74.4L66.8 74.3L67.6 73.7L67.8 73.6L68 73.4L68.1 73.2L68.3 73L68.4 72.8L68.5 72.6L68.6 72.4L68.6 72.2L69.7 66.8L69.7 66.5L69.7 66.3L69.7 66L69.7 65.8L69.6 65.6L69.6 65.4L69.5 65.1L69.3 64.9L69.2 64.7L69 64.6L68.8 64.4L68.7 64.3L68.4 64.2L68.2 64.1L68 64L67.8 63.9L67.5 63.9L67.3 63.9ZM35.9 -4.1L35.7 -4L35.5 -3.9L35.3 -3.7L35.2 -3.6L35 -3.4L34.9 -3.2L34.7 -3L34.6 -2.8L34.5 -2.6L34.5 -2.4L34.4 -2.2L34.4 -2L34.4 -1.7L34.4 -1.5L34.5 -1.3L34.5 -1.1L36.6 5L36.6 5.2L36.8 5.4L36.9 5.6L37 5.8L37.2 5.9L37.4 6.1L37.5 6.2L37.7 6.3L38 6.4L38.2 6.5L38.4 6.5L38.6 6.6L38.9 6.6L39.1 6.6L39.3 6.5L39.5 6.5L39.8 6.4L40 6.3L40.2 6.2L40.4 6L44.7 2.5L44.9 2.3L45.1 2.1L45.2 1.9L45.3 1.7L45.4 1.5L45.5 1.3L45.6 1L45.6 0.8L45.6 0.6L45.6 0.3L45.5 0.1L44.9 -2.6L44.9 -2.8L44.8 -3L44.7 -3.2L44.6 -3.4L44.4 -3.6L44.2 -3.8L44.1 -3.9L43.9 -4L43.7 -4.2L43.5 -4.2L40.8 -5.3L40.6 -5.4L40.4 -5.4L40.1 -5.4L39.9 -5.4L39.7 -5.4L39.5 -5.4L39.3 -5.4L39 -5.3ZM35.9 59.9L35.7 60L35.5 60.1L35.3 60.3L35.2 60.4L35 60.6L34.9 60.8L34.7 61L34.6 61.2L34.5 61.4L34.5 61.6L34.4 61.8L34.4 62L34.4 62.3L34.4 62.5L34.5 62.7L34.5 62.9L36.6 69L36.6 69.2L36.8 69.4L36.9 69.6L37 69.8L37.2 69.9L37.4 70.1L37.5 70.2L37.7 70.3L38 70.4L38.2 70.5L38.4 70.5L38.6 70.6L38.9 70.6L39.1 70.6L39.3 70.5L39.5 70.5L39.8 70.4L40 70.3L40.2 70.2L40.4 70L44.7 66.5L44.9 66.3L45.1 66.1L45.2 65.9L45.3 65.7L45.4 65.5L45.5 65.3L45.6 65L45.6 64.8L45.6 64.6L45.6 64.3L45.5 64.1L44.9 61.4L44.9 61.2L44.8 61L44.7 60.8L44.6 60.6L44.4 60.4L44.2 60.2L44.1 60.1L43.9 60L43.7 59.8L43.5 59.8L40.8 58.7L40.6 58.6L40.4 58.6L40.1 58.6L39.9 58.6L39.7 58.6L39.5 58.6L39.3 58.6L39 58.7ZM29.8 -10L29.7 -10.2L29.5 -10.4L29.3 -10.5L29.1 -10.7L28.9 -10.8L28.7 -10.9L28.5 -11L28.3 -11L28 -11.1L27.8 -11.1L27.5 -11L27.3 -11L27.1 -10.9L26.9 -10.9L26.6 -10.7L26.4 -10.6L26.3 -10.5L26.1 -10.3L23.5 -7.5L23.3 -7.3L23.2 -7.1L23.1 -6.9L23 -6.7L22.9 -6.5L22.8 -6.3L22.8 -6L22.8 -5.8L22.8 -5.6L22.9 -5.3L22.9 -5.1L23 -4.9L23.1 -4.7L25.1 -1.2L25.2 -1L25.3 -0.8L25.5 -0.6L25.7 -0.4L25.8 -0.3L26.1 -0.2L26.3 -0.1L26.5 -0L26.7 0L27 0.1L27.2 0.1L27.4 0.1L27.7 0L27.9 -0L28.1 -0.1L32 -1.8L32.2 -1.9L32.4 -2L32.6 -2.2L32.8 -2.3L32.9 -2.5L33.1 -2.7L33.2 -2.9L33.3 -3.1L33.4 -3.4L33.4 -3.6L33.4 -3.8L33.5 -4.1L33.4 -4.3L33.4 -4.5L33.3 -4.8L33.3 -5L33.2 -5.2L33 -5.4ZM29.8 54L29.7 53.8L29.5 53.6L29.3 53.5L29.1 53.3L28.9 53.2L28.7 53.1L28.5 53L28.3 53L28 52.9L27.8 52.9L27.5 53L27.3 53L27.1 53.1L26.9 53.1L26.6 53.3L26.4 53.4L26.3 53.5L26.1 53.7L23.5 56.5L23.3 56.7L23.2 56.9L23.1 57.1L23 57.3L22.9 57.5L22.8 57.7L22.8 58L22.8 58.2L22.8 58.4L22.9 58.7L22.9 58.9L23 59.1L23.1 59.3L25.1 62.8L25.2 63L25.3 63.2L25.5 63.4L25.7 63.6L25.8 63.7L26.1 63.8L26.3 63.9L26.5 64L26.7 64L27 64.1L27.2 64.1L27.4 64.1L27.7 64L27.9 64L28.1 63.9L32 62.2L32.2 62.1L32.4 62L32.6 61.8L32.8 61.7L32.9 61.5L33.1 61.3L33.2 61.1L33.3 60.9L33.4 60.6L33.4 60.4L33.4 60.2L33.5 59.9L33.4 59.7L33.4 59.5L33.3 59.2L33.3 59L33.2 58.8L33 58.6ZM2.6 10.5L2.4 10.6L2.2 10.8L2.1 11L1.9 11.1L1.8 11.3L1.7 11.6L1.6 11.8L1.6 12L1.5 12.2L1.5 12.5L1.6 12.7L1.6 13L1.6 13.2L1.7 13.4L1.8 13.6L2 13.8L4.9 18.2L5.1 18.4L5.2 18.6L5.4 18.7L5.6 18.9L5.8 19L6 19.1L6.2 19.2L6.5 19.2L6.7 19.2L6.9 19.3L7.1 19.2L7.4 19.2L7.6 19.2L7.8 19.1L8 19L13 16.4L13.2 16.2L13.4 16.1L13.6 16L13.8 15.8L13.9 15.6L14 15.4L14.1 15.2L14.2 14.9L14.3 14.7L14.3 14.5L14.3 14.2L14.3 14L14.3 13.8L14.2 13.5L14.1 13.3L14 13.1L13.4 11.9L13.3 11.7L13.1 11.5L13 11.4L12.8 11.2L12.6 11.1L12.4 10.9L12.2 10.8L12 10.8L11.8 10.7L5.5 9.4L5.2 9.4L5 9.4L4.8 9.4L4.5 9.4L4.3 9.5L4.1 9.6L3.9 9.7L3.6 9.8ZM22.9 20L22.6 20L22.4 20.1L22.2 20.2L22 20.3L21.8 20.4L21.6 20.6L21.4 20.7L21.3 20.9L21.2 21.1L21 21.3L20.9 21.5L20.9 21.7L20.8 21.9L20.8 22.2L20.8 22.4L20.8 22.6L20.8 22.9L20.9 23.1L21 23.3L21.1 23.5L23.3 27.7L23.5 27.9L23.6 28.1L23.8 28.2L24 28.4L24.2 28.5L24.4 28.7L24.6 28.8L24.8 28.8L25.1 28.9L26.4 29.1L26.7 29.1L26.9 29.2L27.1 29.1L27.4 29.1L27.6 29L27.8 28.9L28 28.8L28.2 28.7L28.4 28.6L33.8 23.9L34 23.7L34.2 23.5L34.3 23.3L34.4 23.1L34.5 22.9L34.6 22.7L34.6 22.5L34.7 22.3L34.7 22L34.7 21.8L34.6 21.6L34.6 21.4L34.5 21.1L34.4 20.9L34.3 20.7L34.1 20.5L34 20.4L33.8 20.2L33 19.5L32.8 19.4L32.6 19.3L32.4 19.1L32.2 19.1L31.9 19L31.7 19L31.4 19L31.2 19ZM25.4 54.3L25.5 54.1L25.7 53.9L25.8 53.7L25.9 53.5L25.9 53.3L26 53.1L26 52.9L26 52.6L26 52.4L26 52.2L25.9 52L25.8 51.7L25.7 51.5L25.6 51.3L25.5 51.1L25.3 51L22.2 47.8L22 47.6L21.8 47.5L21.6 47.4L21.4 47.3L21.2 47.2L21 47.1L20.8 47.1L20.5 47.1L20.3 47.1L20.1 47.1L19.9 47.2L19.6 47.2L19.4 47.3L19.2 47.4L19 47.6L18.9 47.7L16.6 49.8L16.4 50L16.2 50.2L16.1 50.4L16 50.6L15.9 50.9L15.8 51.1L15.8 51.3L15.8 51.6L15.8 51.8L15.8 52.1L15.9 52.3L16 52.5L16.1 52.7L18.1 56.4L18.2 56.6L18.3 56.8L18.5 57L18.6 57.1L18.8 57.3L19 57.4L19.2 57.5L19.4 57.6L19.7 57.6L19.9 57.7L20.1 57.7L21.1 57.7L21.4 57.7L21.6 57.7L21.9 57.6L22.1 57.5L22.3 57.4L22.5 57.3L22.7 57.1L22.9 56.9ZM17 34.1L17.2 34.2L17.4 34.3L17.6 34.4L17.9 34.5L18.1 34.5L18.3 34.5L18.6 34.5L18.8 34.5L19 34.4L19.3 34.3L19.5 34.2L19.7 34.1L19.9 33.9L20 33.7L20.2 33.6L22.9 30L23 29.8L23.1 29.6L23.2 29.4L23.3 29.2L23.3 28.9L23.4 28.7L23.4 28.5L23.3 28.2L23.3 28L23.2 27.8L23.2 27.6L23.1 27.4L21.2 23.9L21 23.7L20.9 23.5L20.7 23.4L20.6 23.2L20.4 23.1L20.2 23L19.9 22.9L19.7 22.8L19.5 22.7L19.2 22.7L19 22.7L18.8 22.7L18.5 22.8L18.3 22.8L18.1 22.9L17.9 23L17.7 23.2L17.5 23.3L13.1 27.2L12.9 27.3L12.8 27.5L12.7 27.7L12.5 28L12.4 28.2L12.4 28.4L12.3 28.7L12.3 28.9L12.3 29.7L12.3 30L12.3 30.2L12.4 30.5L12.5 30.7L12.6 30.9L12.7 31.1L12.8 31.3L13 31.5L13.2 31.7L13.4 31.8ZM0.6 48.9L0.4 49.1L0.2 49.2L0.1 49.4L-0.1 49.6L-0.2 49.8L-0.3 50L-0.4 50.2L-0.4 50.4L-0.5 50.6L-0.5 50.9L-0.5 51.1L-0.5 51.3L-0.4 51.6L-0.3 51.8L-0.3 52L-0.1 52.2L-0 52.4L0.1 52.6L0.3 52.7L0.5 52.9L0.7 53L5 55.6L5.2 55.7L5.4 55.8L5.7 55.9L5.9 55.9L6.1 55.9L6.4 55.9L6.6 55.9L6.8 55.9L7.1 55.8L7.3 55.7L7.5 55.6L7.7 55.5L7.9 55.3L8 55.1L10.8 52L11 51.8L11.1 51.6L11.2 51.4L11.3 51.2L11.4 51L11.4 50.8L11.5 50.5L11.5 50.3L11.4 50.1L11.4 49.8L11.3 49.6L11.2 49.4L11.1 49.2L9.4 46.3L9.3 46.1L9.1 45.9L8.9 45.7L8.8 45.5L8.6 45.4L8.3 45.3L8.1 45.2L7.9 45.1L7.6 45.1L7.4 45.1L7.2 45.1L6.9 45.1L6.7 45.2L6.5 45.2L6.2 45.3L6 45.5ZM64.6 48.9L64.4 49.1L64.2 49.2L64.1 49.4L63.9 49.6L63.8 49.8L63.7 50L63.6 50.2L63.6 50.4L63.5 50.6L63.5 50.9L63.5 51.1L63.5 51.3L63.6 51.6L63.7 51.8L63.7 52L63.9 52.2L64 52.4L64.1 52.6L64.3 52.7L64.5 52.9L64.7 53L69 55.6L69.2 55.7L69.4 55.8L69.7 55.9L69.9 55.9L70.1 55.9L70.4 55.9L70.6 55.9L70.8 55.9L71.1 55.8L71.3 55.7L71.5 55.6L71.7 55.5L71.9 55.3L72 55.1L74.8 52L75 51.8L75.1 51.6L75.2 51.4L75.3 51.2L75.4 51L75.4 50.8L75.5 50.5L75.5 50.3L75.4 50.1L75.4 49.8L75.3 49.6L75.2 49.4L75.1 49.2L73.4 46.3L73.3 46.1L73.1 45.9L72.9 45.7L72.8 45.5L72.6 45.4L72.3 45.3L72.1 45.2L71.9 45.1L71.6 45.1L71.4 45.1L71.2 45.1L70.9 45.1L70.7 45.2L70.5 45.2L70.2 45.3L70 45.5Z" fill="#fff" stroke="#000" stroke-width="1.1" stroke-linejoin="round"/><path d="M-208 128L-16 -64M-200 128L-8 -64M-192 128L0 -64M-184 128L8 -64M-176 128L16 -64M-168 128L24 -64M-160 128L32 -64M-152 128L40 -64M-144 128L48 -64M-136 128L56 -64M-128 128L64 -64M-120 128L72 -64M-112 128L80 -64M-104 128L88 -64M-96 128L96 -64M-88 128L104 -64M-80 128L112 -64M-72 128L120 -64M-64 128L128 -64M-56 128L136 -64M-48 128L144 -64M-40 128L152 -64M-32 128L160 -64M-24 128L168 -64M-16 128L176 -64M-8 128L184 -64M0 128L192 -64M8 128L200 -64M16 128L208 -64M24 128L216 -64M32 128L224 -64M40 128L232 -64M48 128L240 -64M56 128L248 -64M64 128L256 -64M72 128L264 -64M80 128L272 -64" stroke="#000" stroke-width="0.65" opacity="0.8" fill="none"/></pattern><pattern id="pcn" width="60" height="60" patternUnits="userSpaceOnUse"><rect width="60" height="60" fill="#fff"/><path d="M21.8 -5.9L21.5 -5.9L21.3 -5.8L21 -5.8L20.8 -5.7L20.6 -5.6L20.4 -5.5L20.2 -5.3L20 -5.1L19.8 -5L19.7 -4.8L19.5 -4.5L19.4 -4.3L19.4 -4.1L19.3 -3.8L19.3 -3.6L19.3 -3.3L19.3 -3.1L19.3 -2.9L21.6 7.5L21.6 7.7L21.7 7.9L21.8 8.1L21.9 8.3L22.1 8.5L22.2 8.7L22.4 8.9L22.6 9L22.8 9.1L25.4 10.6L25.6 10.7L25.9 10.8L26.1 10.9L26.3 10.9L26.6 10.9L26.8 10.9L27.1 10.9L27.3 10.8L27.6 10.7L27.8 10.6L28 10.5L28.2 10.4L28.4 10.2L28.6 10L32.4 5.2L32.6 5L32.7 4.8L32.8 4.6L32.9 4.3L32.9 4.1L33 3.9L33 3.6L33 3.4L32.9 3.1L32.9 2.9L32.8 2.7L30 -4.3L29.9 -4.5L29.8 -4.7L29.6 -4.9L29.5 -5.1L29.3 -5.3L29.1 -5.4L28.9 -5.6L28.6 -5.7L28.4 -5.8L28.2 -5.8L27.9 -5.9L27.7 -5.9ZM21.8 54.1L21.5 54.1L21.3 54.2L21 54.2L20.8 54.3L20.6 54.4L20.4 54.5L20.2 54.7L20 54.9L19.8 55L19.7 55.2L19.5 55.5L19.4 55.7L19.4 55.9L19.3 56.2L19.3 56.4L19.3 56.7L19.3 56.9L19.3 57.1L21.6 67.5L21.6 67.7L21.7 67.9L21.8 68.1L21.9 68.3L22.1 68.5L22.2 68.7L22.4 68.9L22.6 69L22.8 69.1L25.4 70.6L25.6 70.7L25.9 70.8L26.1 70.9L26.3 70.9L26.6 70.9L26.8 70.9L27.1 70.9L27.3 70.8L27.6 70.7L27.8 70.6L28 70.5L28.2 70.4L28.4 70.2L28.6 70L32.4 65.2L32.6 65L32.7 64.8L32.8 64.6L32.9 64.3L32.9 64.1L33 63.9L33 63.6L33 63.4L32.9 63.1L32.9 62.9L32.8 62.7L30 55.7L29.9 55.5L29.8 55.3L29.6 55.1L29.5 54.9L29.3 54.7L29.1 54.6L28.9 54.4L28.6 54.3L28.4 54.2L28.2 54.2L27.9 54.1L27.7 54.1ZM26.6 28L26.7 28.2L26.7 28.4L26.8 28.6L27 28.8L27.1 29L27.2 29.2L27.4 29.3L27.6 29.5L27.8 29.6L28 29.7L34.4 32.6L34.6 32.7L34.8 32.8L35.1 32.8L35.3 32.8L35.6 32.8L35.9 32.8L36.1 32.7L36.3 32.6L40.3 31L40.5 30.9L40.8 30.7L41 30.6L41.1 30.4L41.3 30.2L41.4 30L41.6 29.8L41.7 29.6L41.8 29.4L41.8 29.1L42.5 25.6L42.5 25.4L42.5 25.2L42.5 24.9L42.5 24.7L42.4 24.4L42.3 24.2L42.2 24L42.1 23.8L39.8 20.3L39.7 20.1L39.5 20L39.3 19.8L39.1 19.6L38.9 19.5L38.7 19.4L38.4 19.3L30.3 17L30.1 17L29.9 16.9L29.6 16.9L29.4 16.9L29.1 17L28.9 17L28.7 17.1L28.5 17.2L28.3 17.4L28.1 17.5L27.9 17.7L27.7 17.8L27.6 18L25.8 20.6L25.7 20.9L25.6 21.1L25.5 21.3L25.4 21.6L25.4 21.8L25.4 22.1L25.4 22.3L25.5 22.6ZM7.2 32.9L7 33.1L6.9 33.2L6.7 33.5L6.6 33.7L6.5 33.9L6.4 34.1L6.4 34.4L6.4 34.6L6.4 34.9L6.7 42.3L6.8 42.6L6.8 42.8L6.9 43.1L7 43.3L7.1 43.5L7.3 43.7L7.4 43.9L7.6 44.1L7.8 44.2L8 44.4L8.2 44.5L8.4 44.6L8.7 44.6L8.9 44.7L15.1 45.5L15.3 45.5L15.6 45.5L15.8 45.5L16.1 45.4L16.3 45.3L16.5 45.2L16.8 45.1L17 44.9L17.1 44.8L17.3 44.6L17.5 44.4L20.1 40.5L20.2 40.3L20.3 40.1L20.4 39.9L20.5 39.6L20.5 39.4L20.5 39.1L20.5 38.9L20.5 38L20.4 37.8L20.4 37.6L20.3 37.4L20.2 37.1L20.1 36.9L20 36.7L19.8 36.6L19.7 36.4L13.3 30.5L13.1 30.4L12.9 30.2L12.7 30.1L12.5 30L12.3 30L12 29.9L11.8 29.9L11.5 29.9L11.3 29.9L11.1 29.9L10.8 30L10.6 30.1L10.4 30.2L10.2 30.3L10 30.5ZM27.5 12.7L27.4 12.5L27.3 12.3L27.2 12.1L27 11.9L26.9 11.7L26.7 11.5L26.5 11.4L26.3 11.2L22.6 9.2L22.4 9.1L22.2 9L22 8.9L21.7 8.9L21.5 8.8L21.3 8.8L21 8.9L20.8 8.9L14.1 10.7L13.9 10.7L13.7 10.8L13.4 11L13.2 11.1L13.1 11.2L12.9 11.4L12.7 11.6L12.6 11.8L12.5 12L12.4 12.2L12.3 12.5L12.3 12.7L12.2 12.9L12.2 13.2L12.5 20.6L12.5 20.8L12.6 21L12.7 21.3L12.8 21.5L12.9 21.7L13 21.9L13.2 22.1L13.3 22.3L13.5 22.5L13.7 22.6L13.9 22.7L14.2 22.8L14.4 22.9L14.7 22.9L14.9 23L15.1 23L15.4 22.9L24.1 21.6L24.3 21.6L24.6 21.5L24.8 21.4L25 21.3L25.2 21.1L25.4 21L25.6 20.8L25.8 20.6L27.9 17.4L28 17.2L28.1 17L28.2 16.8L28.3 16.5L28.3 16.3L28.3 16.1L28.3 15.8L28.3 15.6L28.2 15.3ZM45.8 35.7L46 35.9L46.1 36L46.3 36.2L46.6 36.3L46.8 36.4L47 36.5L47.3 36.6L47.5 36.6L51.7 37L51.9 37L52.1 37L52.4 36.9L52.6 36.9L52.8 36.8L53 36.7L53.2 36.6L53.4 36.4L53.6 36.3L53.8 36.1L57.2 32.2L57.3 32L57.4 31.8L57.6 31.6L57.6 31.3L57.7 31.1L57.7 30.8L57.8 30.6L57.8 30.3L57.7 30.1L56.5 23.9L56.4 23.7L56.4 23.5L56.3 23.2L56.1 23L56 22.8L55.8 22.7L55.7 22.5L55.5 22.4L55.3 22.2L55.1 22.1L54.8 22L54.6 22L54.4 21.9L54.1 21.9L53.9 21.9L53.7 21.9L53.4 22L44.3 24.3L44.1 24.3L43.9 24.4L43.7 24.5L43.5 24.7L43.3 24.8L43.1 25L43 25.2L42.8 25.3L42.7 25.6L42.6 25.8L42.5 26L42.5 26.2L41.9 29.3L41.8 29.6L41.8 29.8L41.8 30.1L41.9 30.3L41.9 30.5L42 30.8L42.1 31L42.2 31.2L42.4 31.4ZM50.8 -4.3L50.7 -4.5L50.5 -4.7L50.3 -4.8L50.1 -5L49.9 -5.1L49.7 -5.2L49.4 -5.3L49.2 -5.3L48.9 -5.3L48.7 -5.3L48.4 -5.3L48.2 -5.2L47.9 -5.1L47.7 -5L47.5 -4.9L47.3 -4.8L47.1 -4.6L46.9 -4.4L46.8 -4.2L46.6 -4L43 2.6L42.9 2.9L42.8 3.1L42.8 3.4L42.7 3.6L42.7 3.9L42.7 4.1L42.8 4.4L42.8 4.6L42.9 4.8L44.4 8.1L44.5 8.4L44.6 8.6L44.8 8.8L44.9 9L45.1 9.1L45.3 9.3L45.5 9.4L45.8 9.5L46 9.6L55.6 12.1L55.9 12.1L56.1 12.1L56.4 12.1L56.6 12.1L56.9 12.1L57.1 12L57.3 11.9L57.5 11.8L57.8 11.6L57.9 11.5L58.1 11.3L58.3 11.1L59.2 9.9L59.3 9.7L59.4 9.5L59.5 9.3L59.6 9L59.6 8.8L59.7 8.5L59.7 8.3L59.6 8.1L59.6 7.8L59.5 7.6L59.4 7.4L59.3 7.1L59.2 6.9ZM50.8 55.7L50.7 55.5L50.5 55.3L50.3 55.2L50.1 55L49.9 54.9L49.7 54.8L49.4 54.7L49.2 54.7L48.9 54.7L48.7 54.7L48.4 54.7L48.2 54.8L47.9 54.9L47.7 55L47.5 55.1L47.3 55.2L47.1 55.4L46.9 55.6L46.8 55.8L46.6 56L43 62.6L42.9 62.9L42.8 63.1L42.8 63.4L42.7 63.6L42.7 63.9L42.7 64.1L42.8 64.4L42.8 64.6L42.9 64.8L44.4 68.1L44.5 68.4L44.6 68.6L44.8 68.8L44.9 69L45.1 69.1L45.3 69.3L45.5 69.4L45.8 69.5L46 69.6L55.6 72.1L55.9 72.1L56.1 72.1L56.4 72.1L56.6 72.1L56.9 72.1L57.1 72L57.3 71.9L57.5 71.8L57.8 71.6L57.9 71.5L58.1 71.3L58.3 71.1L59.2 69.9L59.3 69.7L59.4 69.5L59.5 69.3L59.6 69L59.6 68.8L59.7 68.5L59.7 68.3L59.6 68.1L59.6 67.8L59.5 67.6L59.4 67.4L59.3 67.1L59.2 66.9ZM33.8 49.5L34 49.3L34.2 49.1L34.3 48.9L34.4 48.7L34.5 48.5L34.5 48.2L34.6 48L34.6 47.7L34.6 47.5L34.5 47.2L34.5 47L34.4 46.8L34.3 46.6L32.4 43.3L32.3 43.1L32.2 42.9L32 42.7L31.8 42.6L31.6 42.4L31.4 42.3L31.2 42.2L31 42.1L30.8 42.1L22.3 40.2L22.1 40.2L21.8 40.1L21.6 40.2L21.3 40.2L21.1 40.2L20.9 40.3L20.6 40.4L20.4 40.6L20.2 40.7L20 40.9L19.9 41L19.7 41.2L17.4 44.6L17.3 44.8L17.2 45.1L17.1 45.3L17.1 45.5L17 45.8L17 46L17 46.3L17 46.5L17.1 46.7L17.2 47L19.3 52.4L19.4 52.7L19.6 52.9L19.7 53.1L19.9 53.3L20 53.4L20.2 53.6L20.5 53.7L20.7 53.8L20.9 53.9L21.2 54L21.4 54L21.6 54L28.3 54L28.6 54L28.8 54L29.1 53.9L29.3 53.8L29.5 53.7L29.7 53.6L29.9 53.5L30.1 53.3ZM19.4 9.2L19.6 9.1L19.8 9L20 8.9L20.2 8.8L20.4 8.6L20.6 8.5L20.8 8.3L20.9 8.1L21 7.9L21.1 7.6L21.2 7.4L21.2 7.2L21.2 6.9L21.3 6.7L21.2 6.5L21.2 6.2L19.6 -1.2L19.5 -1.4L19.4 -1.7L19.3 -1.9L19.2 -2.1L19 -2.3L18.9 -2.5L18.7 -2.6L18.5 -2.8L18.3 -2.9L18.1 -3L17.8 -3.1L17.6 -3.1L17.4 -3.2L17.1 -3.2L16.9 -3.2L16.6 -3.1L16.4 -3.1L16.2 -3L8.5 0.2L8.3 0.3L8 0.4L7.8 0.6L7.6 0.8L7.5 1L7.3 1.2L7.2 1.4L7.1 1.6L5.9 4.7L5.9 4.9L5.8 5.1L5.8 5.4L5.8 5.6L5.8 5.9L5.8 6.1L5.9 6.3L6 6.5L6.1 6.8L6.2 7L6.4 7.2L6.5 7.3L6.7 7.5L6.9 7.6L11.2 10.5L11.4 10.6L11.6 10.7L11.8 10.8L12 10.8L12.3 10.9L12.5 10.9L12.7 10.9L13 10.9L13.2 10.8ZM19.4 69.2L19.6 69.1L19.8 69L20 68.9L20.2 68.8L20.4 68.6L20.6 68.5L20.8 68.3L20.9 68.1L21 67.9L21.1 67.6L21.2 67.4L21.2 67.2L21.2 66.9L21.3 66.7L21.2 66.5L21.2 66.2L19.6 58.8L19.5 58.6L19.4 58.3L19.3 58.1L19.2 57.9L19 57.7L18.9 57.5L18.7 57.4L18.5 57.2L18.3 57.1L18.1 57L17.8 56.9L17.6 56.9L17.4 56.8L17.1 56.8L16.9 56.8L16.6 56.9L16.4 56.9L16.2 57L8.5 60.2L8.3 60.3L8 60.4L7.8 60.6L7.6 60.8L7.5 61L7.3 61.2L7.2 61.4L7.1 61.6L5.9 64.7L5.9 64.9L5.8 65.1L5.8 65.4L5.8 65.6L5.8 65.9L5.8 66.1L5.9 66.3L6 66.5L6.1 66.8L6.2 67L6.4 67.2L6.5 67.3L6.7 67.5L6.9 67.6L11.2 70.5L11.4 70.6L11.6 70.7L11.8 70.8L12 70.8L12.3 70.9L12.5 70.9L12.7 70.9L13 70.9L13.2 70.8ZM2 -10.2L1.8 -10.4L1.7 -10.7L1.5 -10.8L1.3 -11L1.1 -11.2L0.9 -11.3L0.7 -11.4L0.5 -11.5L0.2 -11.6L-0 -11.6L-0.3 -11.6L-0.5 -11.6L-0.8 -11.6L-1 -11.5L-1.3 -11.4L-1.5 -11.3L-1.7 -11.2L-7.8 -7L-8 -6.8L-8.2 -6.6L-8.3 -6.4L-8.5 -6.2L-8.6 -6L-8.7 -5.8L-8.8 -5.5L-8.8 -5.3L-8.9 -5.1L-8.9 -4.8L-8.8 -4.6L-8.8 -4.3L-8.7 -4.1L-8.6 -3.8L-8.5 -3.6L-8.4 -3.4L-0.8 6.8L-0.6 7L-0.4 7.2L-0.3 7.4L-0 7.5L0.2 7.6L0.4 7.7L0.6 7.8L0.9 7.8L1.1 7.8L1.4 7.8L1.6 7.8L1.9 7.8L2.1 7.7L4.1 6.9L4.3 6.8L4.5 6.7L4.7 6.6L4.9 6.4L5 6.3L5.2 6.1L5.3 5.9L5.4 5.7L5.5 5.5L7 1.6L7.1 1.4L7.1 1.1L7.2 0.8L7.2 0.6L7.1 0.3L7.1 0.1L7 -0.2L6.9 -0.4ZM2 49.8L1.8 49.6L1.7 49.3L1.5 49.2L1.3 49L1.1 48.8L0.9 48.7L0.7 48.6L0.5 48.5L0.2 48.4L-0 48.4L-0.3 48.4L-0.5 48.4L-0.8 48.4L-1 48.5L-1.3 48.6L-1.5 48.7L-1.7 48.8L-7.8 53L-8 53.2L-8.2 53.4L-8.3 53.6L-8.5 53.8L-8.6 54L-8.7 54.2L-8.8 54.5L-8.8 54.7L-8.9 54.9L-8.9 55.2L-8.8 55.4L-8.8 55.7L-8.7 55.9L-8.6 56.2L-8.5 56.4L-8.4 56.6L-0.8 66.8L-0.6 67L-0.4 67.2L-0.3 67.4L-0 67.5L0.2 67.6L0.4 67.7L0.6 67.8L0.9 67.8L1.1 67.8L1.4 67.8L1.6 67.8L1.9 67.8L2.1 67.7L4.1 66.9L4.3 66.8L4.5 66.7L4.7 66.6L4.9 66.4L5 66.3L5.2 66.1L5.3 65.9L5.4 65.7L5.5 65.5L7 61.6L7.1 61.4L7.1 61.1L7.2 60.8L7.2 60.6L7.1 60.3L7.1 60.1L7 59.8L6.9 59.6ZM62 -10.2L61.8 -10.4L61.7 -10.7L61.5 -10.8L61.3 -11L61.1 -11.2L60.9 -11.3L60.7 -11.4L60.5 -11.5L60.2 -11.6L60 -11.6L59.7 -11.6L59.5 -11.6L59.2 -11.6L59 -11.5L58.7 -11.4L58.5 -11.3L58.3 -11.2L52.2 -7L52 -6.8L51.8 -6.6L51.7 -6.4L51.5 -6.2L51.4 -6L51.3 -5.8L51.2 -5.5L51.2 -5.3L51.1 -5.1L51.1 -4.8L51.2 -4.6L51.2 -4.3L51.3 -4.1L51.4 -3.8L51.5 -3.6L51.6 -3.4L59.2 6.8L59.4 7L59.6 7.2L59.7 7.4L60 7.5L60.2 7.6L60.4 7.7L60.6 7.8L60.9 7.8L61.1 7.8L61.4 7.8L61.6 7.8L61.9 7.8L62.1 7.7L64.1 6.9L64.3 6.8L64.5 6.7L64.7 6.6L64.9 6.4L65 6.3L65.2 6.1L65.3 5.9L65.4 5.7L65.5 5.5L67 1.6L67.1 1.4L67.1 1.1L67.2 0.8L67.2 0.6L67.1 0.3L67.1 0.1L67 -0.2L66.9 -0.4ZM62 49.8L61.8 49.6L61.7 49.3L61.5 49.2L61.3 49L61.1 48.8L60.9 48.7L60.7 48.6L60.5 48.5L60.2 48.4L60 48.4L59.7 48.4L59.5 48.4L59.2 48.4L59 48.5L58.7 48.6L58.5 48.7L58.3 48.8L52.2 53L52 53.2L51.8 53.4L51.7 53.6L51.5 53.8L51.4 54L51.3 54.2L51.2 54.5L51.2 54.7L51.1 54.9L51.1 55.2L51.2 55.4L51.2 55.7L51.3 55.9L51.4 56.2L51.5 56.4L51.6 56.6L59.2 66.8L59.4 67L59.6 67.2L59.7 67.4L60 67.5L60.2 67.6L60.4 67.7L60.6 67.8L60.9 67.8L61.1 67.8L61.4 67.8L61.6 67.8L61.9 67.8L62.1 67.7L64.1 66.9L64.3 66.8L64.5 66.7L64.7 66.6L64.9 66.4L65 66.3L65.2 66.1L65.3 65.9L65.4 65.7L65.5 65.5L67 61.6L67.1 61.4L67.1 61.1L67.2 60.8L67.2 60.6L67.1 60.3L67.1 60.1L67 59.8L66.9 59.6ZM42.2 47.3L42.1 47.5L42.1 47.7L42 48L42 48.2L42 48.5L42.1 48.7L42.1 48.9L42.2 49.2L42.3 49.4L42.4 49.6L42.6 49.8L42.8 50L46.6 53.8L46.8 54L47 54.1L47.2 54.2L47.4 54.4L47.7 54.4L47.9 54.5L48.2 54.5L48.4 54.5L49.3 54.5L49.5 54.5L49.8 54.4L50 54.4L50.2 54.3L50.4 54.2L50.6 54L57.5 49.3L57.7 49.1L57.9 49L58 48.8L58.2 48.6L58.3 48.3L58.4 48.1L58.5 47.9L58.5 47.6L58.6 47.4L58.6 47.1L58.5 46.9L58.5 46.6L58.4 46.4L58.3 46.2L58.2 45.9L53.6 38.3L53.4 38.1L53.3 37.9L53.1 37.7L53 37.6L52.8 37.4L52.6 37.3L52.3 37.2L52.1 37.2L51.9 37.1L51.7 37.1L48.3 36.8L48.1 36.8L47.8 36.8L47.6 36.8L47.3 36.9L47.1 37L46.9 37.1L46.7 37.2L46.5 37.3L46.3 37.5L46.1 37.7L46 37.9L45.9 38.1L45.8 38.3ZM46.7 9.9L46.5 9.8L46.3 9.8L46 9.8L45.8 9.8L45.6 9.8L45.3 9.9L45.1 10L44.9 10.1L44.7 10.2L44.5 10.4L44.3 10.5L44.2 10.7L44 10.9L43.9 11.1L40.1 18.2L40 18.4L39.9 18.7L39.9 18.9L39.8 19.2L39.8 19.4L39.8 19.6L39.9 19.9L39.9 20.1L40 20.4L40.1 20.6L40.2 20.8L41.8 23.1L41.9 23.3L42.1 23.5L42.3 23.7L42.5 23.8L42.7 23.9L43 24L43.2 24.1L43.5 24.2L43.7 24.2L44 24.2L44.2 24.2L44.5 24.1L55.1 21.5L55.3 21.4L55.6 21.3L55.8 21.2L56 21L56.2 20.9L56.4 20.7L56.5 20.5L56.7 20.2L56.8 20L56.9 19.8L57 19.6L57.1 19.3L57.1 19.1L57.2 18.8L57.2 14.5L57.2 14.3L57.2 14.1L57.1 13.8L57.1 13.6L57 13.4L56.8 13.2L56.7 13L56.6 12.8L56.4 12.6L56.2 12.5L56 12.4L55.8 12.2L55.6 12.2L55.3 12.1ZM34.6 47L34.8 47.2L34.9 47.4L35.1 47.6L35.2 47.7L35.4 47.9L35.6 48L35.9 48.1L36.1 48.2L36.3 48.3L36.6 48.3L39.6 48.6L39.9 48.6L40.1 48.6L40.4 48.5L40.6 48.5L40.8 48.4L41.1 48.3L41.3 48.2L41.5 48L41.7 47.8L41.8 47.7L42 47.5L42.1 47.3L42.2 47L45.8 37.9L45.9 37.7L46 37.5L46 37.2L46 37L46 36.7L46 36.5L45.9 36.3L45.8 36L45.7 35.8L45.6 35.6L45.5 35.4L42.8 32L42.6 31.8L42.4 31.7L42.2 31.5L42 31.4L41.8 31.3L41.6 31.2L41.3 31.1L41.1 31.1L40.8 31.1L40.6 31.1L40.3 31.1L40.1 31.2L39.8 31.3L36.4 32.7L36.2 32.8L35.9 33L35.7 33.1L35.5 33.3L35.4 33.5L35.2 33.7L35.1 33.9L35 34.2L32.4 41.2L32.3 41.4L32.3 41.6L32.2 41.9L32.2 42.1L32.2 42.3L32.3 42.6L32.3 42.8L32.4 43L32.5 43.3ZM7.7 44.6L7.5 44.6L7.2 44.6L7 44.6L6.7 44.7L6.5 44.8L6.3 44.9L6.1 45L3.1 46.9L2.9 47L2.7 47.2L2.6 47.3L2.4 47.5L2.3 47.7L2.2 48L2.1 48.2L2 48.4L2 48.7L2 48.9L2 49.1L2 49.4L2.1 49.6L2.1 49.9L2.2 50.1L6.4 58.4L6.5 58.6L6.7 58.8L6.9 59L7 59.2L7.2 59.4L7.4 59.5L7.7 59.6L7.9 59.7L8.1 59.8L8.4 59.8L8.6 59.8L8.9 59.8L9.1 59.8L9.4 59.7L9.6 59.6L18 56.1L18.3 56L18.5 55.9L18.7 55.8L18.8 55.6L19 55.4L19.2 55.2L19.3 55L19.4 54.8L19.5 54.6L19.5 54.3L19.6 54.1L19.6 53.9L19.6 53.6L19.5 53.4L19.5 53.1L19.4 52.9L17.1 47.1L17 46.9L16.9 46.7L16.8 46.5L16.6 46.3L16.4 46.2L16.3 46L16 45.9L15.8 45.8L15.6 45.7L15.4 45.6L15.1 45.6ZM28.1 10.7L28 10.9L27.9 11.1L27.8 11.3L27.7 11.6L27.6 11.8L27.6 12L27.6 12.3L27.6 12.5L27.6 12.7L27.7 13L28.2 15.1L28.3 15.3L28.4 15.6L28.6 15.8L28.7 16L28.9 16.2L29.1 16.3L29.3 16.5L29.5 16.6L29.7 16.7L30 16.8L37.4 18.9L37.6 19L37.9 19L38.1 19L38.3 19L38.6 19L38.8 18.9L39 18.8L39.3 18.7L39.5 18.6L39.7 18.5L39.8 18.3L40 18.1L40.1 17.9L40.3 17.7L44.2 10.4L44.3 10.1L44.4 9.9L44.4 9.7L44.5 9.4L44.5 9.2L44.5 8.9L44.4 8.7L44.4 8.4L44.3 8.2L43 5.3L42.9 5.1L42.8 4.9L42.6 4.7L42.5 4.5L42.3 4.4L42.1 4.2L41.8 4.1L41.6 4L41.4 3.9L41.1 3.9L40.9 3.8L40.6 3.8L34.6 4.1L34.3 4.1L34.1 4.1L33.9 4.2L33.7 4.3L33.4 4.4L33.2 4.5L33.1 4.6L32.9 4.8L32.7 5ZM9.2 22.9L9.5 23L9.7 23L10 23L10.2 23L10.5 22.9L10.7 22.9L10.9 22.8L11.2 22.7L11.4 22.5L11.6 22.4L11.7 22.2L11.9 22L12 21.8L12.2 21.6L12.3 21.4L12.3 21.1L12.4 20.9L12.4 20.7L12.4 20.4L12.1 12.5L12.1 12.2L12.1 12L12 11.8L11.9 11.5L11.8 11.3L11.7 11.1L11.5 10.9L11.4 10.8L11.2 10.6L11 10.5L6.2 7.3L6 7.2L5.8 7.1L5.6 7L5.4 7L5.1 6.9L4.9 6.9L4.6 6.9L4.4 6.9L4.2 7L4 7.1L1 8.2L0.8 8.3L0.6 8.4L0.4 8.5L0.2 8.7L0.1 8.9L-0.1 9L-2.2 11.9L-2.3 12.1L-2.4 12.4L-2.5 12.6L-2.6 12.8L-2.6 13.1L-2.7 13.4L-2.7 17.6L-2.7 17.9L-2.7 18.1L-2.6 18.4L-2.5 18.6L-2.4 18.9L-2.3 19.1L-2.2 19.3L-2 19.5L-1.8 19.6L-1.6 19.8L-1.4 19.9L-1.1 20L-0.9 20.1ZM69.2 22.9L69.5 23L69.7 23L70 23L70.2 23L70.5 22.9L70.7 22.9L70.9 22.8L71.2 22.7L71.4 22.5L71.6 22.4L71.7 22.2L71.9 22L72 21.8L72.2 21.6L72.3 21.4L72.3 21.1L72.4 20.9L72.4 20.7L72.4 20.4L72.1 12.5L72.1 12.2L72.1 12L72 11.8L71.9 11.5L71.8 11.3L71.7 11.1L71.5 10.9L71.4 10.8L71.2 10.6L71 10.5L66.2 7.3L66 7.2L65.8 7.1L65.6 7L65.4 7L65.1 6.9L64.9 6.9L64.6 6.9L64.4 6.9L64.2 7L64 7.1L61 8.2L60.8 8.3L60.6 8.4L60.4 8.5L60.2 8.7L60.1 8.9L59.9 9L57.8 11.9L57.7 12.1L57.6 12.4L57.5 12.6L57.4 12.8L57.4 13.1L57.3 13.4L57.3 17.6L57.3 17.9L57.3 18.1L57.4 18.4L57.5 18.6L57.6 18.9L57.7 19.1L57.8 19.3L58 19.5L58.2 19.6L58.4 19.8L58.6 19.9L58.9 20L59.1 20.1ZM-5.8 35.8L-5.9 36L-6.1 36.2L-6.2 36.4L-6.3 36.6L-6.3 36.8L-6.4 37.1L-6.4 37.3L-6.4 37.6L-6.4 37.8L-6.3 38L-6.3 38.3L-6.2 38.5L-6 38.7L-1.3 46.5L-1.2 46.7L-1 46.9L-0.9 47.1L-0.7 47.3L-0.5 47.4L-0.2 47.5L-0 47.6L0.2 47.7L0.5 47.7L0.7 47.7L1 47.7L1.2 47.7L1.5 47.7L1.7 47.6L1.9 47.5L2.1 47.3L5.5 45.2L5.7 45.1L5.9 44.9L6.1 44.7L6.2 44.5L6.3 44.3L6.5 44.1L6.5 43.9L6.6 43.7L6.7 43.4L6.7 43.2L6.7 43L6.3 35.5L6.3 35.2L6.2 35L6.2 34.8L6.1 34.6L6 34.3L5.8 34.1L5.7 34L5.5 33.8L5.3 33.6L5.1 33.5L4.9 33.4L4.7 33.3L4.5 33.2L-0.4 31.8L-0.7 31.7L-0.9 31.7L-1.1 31.7L-1.4 31.7L-1.6 31.8L-1.8 31.8L-2.1 31.9L-2.3 32L-2.5 32.1L-2.7 32.2L-2.9 32.4L-3 32.6ZM54.2 35.8L54.1 36L53.9 36.2L53.8 36.4L53.7 36.6L53.7 36.8L53.6 37.1L53.6 37.3L53.6 37.6L53.6 37.8L53.7 38L53.7 38.3L53.8 38.5L54 38.7L58.7 46.5L58.8 46.7L59 46.9L59.1 47.1L59.3 47.3L59.5 47.4L59.8 47.5L60 47.6L60.2 47.7L60.5 47.7L60.7 47.7L61 47.7L61.2 47.7L61.5 47.7L61.7 47.6L61.9 47.5L62.1 47.3L65.5 45.2L65.7 45.1L65.9 44.9L66.1 44.7L66.2 44.5L66.3 44.3L66.5 44.1L66.5 43.9L66.6 43.7L66.7 43.4L66.7 43.2L66.7 43L66.3 35.5L66.3 35.2L66.2 35L66.2 34.8L66.1 34.6L66 34.3L65.8 34.1L65.7 34L65.5 33.8L65.3 33.6L65.1 33.5L64.9 33.4L64.7 33.3L64.5 33.2L59.6 31.8L59.3 31.7L59.1 31.7L58.9 31.7L58.6 31.7L58.4 31.8L58.2 31.8L57.9 31.9L57.7 32L57.5 32.1L57.3 32.2L57.1 32.4L57 32.6ZM36.4 -11.6L36.2 -11.6L35.9 -11.6L35.7 -11.6L35.5 -11.5L35.2 -11.4L35 -11.3L34.8 -11.2L34.6 -11.1L34.4 -10.9L30.6 -7.1L30.5 -6.9L30.3 -6.7L30.2 -6.5L30.1 -6.3L30 -6L29.9 -5.8L29.9 -5.6L29.9 -5.3L29.9 -5.1L29.9 -4.8L30 -4.6L30.1 -4.4L32.8 2.4L32.9 2.6L33 2.8L33.2 3L33.4 3.2L33.5 3.4L33.8 3.5L34 3.7L34.2 3.8L34.4 3.8L34.7 3.9L35 3.9L35.2 3.9L40.9 3.7L41.2 3.7L41.4 3.7L41.6 3.6L41.8 3.5L42 3.4L42.2 3.3L42.4 3.1L42.6 3L42.8 2.8L42.9 2.6L43 2.4L46.4 -3.7L46.5 -4L46.6 -4.2L46.6 -4.4L46.7 -4.7L46.7 -4.9L46.7 -5.2L46.6 -5.4L46.6 -5.6L46.5 -5.9L46.4 -6.1L46.3 -6.3L46.1 -6.5L45.9 -6.7L42.1 -10.5L42 -10.7L41.8 -10.8L41.5 -10.9L41.3 -11L41.1 -11.1L40.9 -11.2L40.6 -11.2ZM36.4 48.4L36.2 48.4L35.9 48.4L35.7 48.4L35.5 48.5L35.2 48.6L35 48.7L34.8 48.8L34.6 48.9L34.4 49.1L30.6 52.9L30.5 53.1L30.3 53.3L30.2 53.5L30.1 53.7L30 54L29.9 54.2L29.9 54.4L29.9 54.7L29.9 54.9L29.9 55.2L30 55.4L30.1 55.6L32.8 62.4L32.9 62.6L33 62.8L33.2 63L33.4 63.2L33.5 63.4L33.8 63.5L34 63.7L34.2 63.8L34.4 63.8L34.7 63.9L35 63.9L35.2 63.9L40.9 63.7L41.2 63.7L41.4 63.7L41.6 63.6L41.8 63.5L42 63.4L42.2 63.3L42.4 63.1L42.6 63L42.8 62.8L42.9 62.6L43 62.4L46.4 56.3L46.5 56L46.6 55.8L46.6 55.6L46.7 55.3L46.7 55.1L46.7 54.8L46.6 54.6L46.6 54.4L46.5 54.1L46.4 53.9L46.3 53.7L46.1 53.5L45.9 53.3L42.1 49.5L42 49.3L41.8 49.2L41.5 49.1L41.3 49L41.1 48.9L40.9 48.8L40.6 48.8ZM14.2 23.2L14 23.3L13.7 23.3L13.5 23.4L13.3 23.6L13.1 23.7L12.9 23.9L12.7 24L12.5 24.2L12.4 24.5L12.3 24.7L12.2 24.9L12.1 25.2L12.1 25.4L11.9 27.7L11.8 27.9L11.9 28.2L11.9 28.4L12 28.7L12.1 28.9L12.2 29.2L12.3 29.4L12.5 29.6L12.7 29.8L18.5 35.2L18.7 35.3L18.9 35.5L19.1 35.6L19.3 35.7L19.5 35.7L19.8 35.8L20 35.8L20.2 35.8L20.5 35.8L20.7 35.8L20.9 35.7L21.2 35.6L21.4 35.5L21.6 35.4L21.8 35.2L22 35.1L22.1 34.9L26 30.1L26.1 29.9L26.3 29.7L26.4 29.5L26.5 29.3L26.5 29L26.6 28.8L26.6 28.5L26.5 28.3L26.5 28L25.6 23.9L25.6 23.6L25.5 23.4L25.4 23.2L25.2 23L25.1 22.8L24.9 22.6L24.7 22.4L24.5 22.3L24.3 22.1L24 22L23.8 22L23.6 21.9L23.3 21.9L23.1 21.9L22.8 21.9ZM-0.4 20.3L-0.7 20.3L-0.9 20.2L-1.1 20.2L-1.4 20.2L-1.6 20.3L-1.9 20.3L-2.1 20.4L-2.3 20.5L-2.5 20.7L-2.7 20.8L-2.9 21L-3 21.2L-3.2 21.4L-3.3 21.6L-3.4 21.8L-3.5 22L-3.5 22.3L-3.6 22.5L-3.6 22.7L-3.6 23L-3.5 23.2L-2.2 29.8L-2.2 30L-2.1 30.2L-2 30.5L-1.9 30.7L-1.7 30.9L-1.5 31.1L-1.4 31.2L-1.2 31.4L-0.9 31.5L-0.7 31.6L-0.5 31.7L4.9 33.2L5.2 33.3L5.4 33.3L5.7 33.3L5.9 33.3L6.2 33.3L6.4 33.2L6.6 33.1L6.9 33L7.1 32.9L7.3 32.7L10.9 29.6L11.1 29.4L11.2 29.2L11.3 29L11.5 28.8L11.6 28.6L11.6 28.4L11.7 28.2L11.7 27.9L11.9 25.9L12 25.7L11.9 25.4L11.9 25.2L11.8 24.9L11.8 24.7L11.7 24.5L11.5 24.3L11.4 24.1L11.2 23.9L11 23.7L10.8 23.6L10.6 23.4L10.4 23.3L10.1 23.3ZM59.6 20.3L59.3 20.3L59.1 20.2L58.9 20.2L58.6 20.2L58.4 20.3L58.1 20.3L57.9 20.4L57.7 20.5L57.5 20.7L57.3 20.8L57.1 21L57 21.2L56.8 21.4L56.7 21.6L56.6 21.8L56.5 22L56.5 22.3L56.4 22.5L56.4 22.7L56.4 23L56.5 23.2L57.8 29.8L57.8 30L57.9 30.2L58 30.5L58.1 30.7L58.3 30.9L58.5 31.1L58.6 31.2L58.8 31.4L59.1 31.5L59.3 31.6L59.5 31.7L64.9 33.2L65.2 33.3L65.4 33.3L65.7 33.3L65.9 33.3L66.2 33.3L66.4 33.2L66.6 33.1L66.9 33L67.1 32.9L67.3 32.7L70.9 29.6L71.1 29.4L71.2 29.2L71.3 29L71.5 28.8L71.6 28.6L71.6 28.4L71.7 28.2L71.7 27.9L71.9 25.9L72 25.7L71.9 25.4L71.9 25.2L71.8 24.9L71.8 24.7L71.7 24.5L71.5 24.3L71.4 24.1L71.2 23.9L71 23.7L70.8 23.6L70.6 23.4L70.4 23.3L70.1 23.3ZM21.2 36.1L21.1 36.3L21 36.6L20.9 36.8L20.8 37L20.7 37.2L20.7 37.5L20.7 37.7L20.7 38L20.7 38.2L20.8 38.4L20.9 38.7L21 38.9L21.1 39.1L21.2 39.3L21.4 39.5L21.6 39.6L21.8 39.8L22 39.9L22.2 40L22.4 40.1L22.6 40.2L29.8 41.7L30 41.8L30.2 41.8L30.5 41.8L30.7 41.8L31 41.7L31.2 41.6L31.4 41.5L31.6 41.4L31.8 41.3L32 41.1L32.2 41L32.3 40.8L32.4 40.6L32.6 40.4L32.7 40.2L34.5 35.3L34.5 35.1L34.6 34.8L34.6 34.6L34.6 34.3L34.6 34.1L34.5 33.8L34.5 33.6L34.4 33.4L34.3 33.1L34.1 32.9L34 32.7L33.8 32.6L33.6 32.4L33.4 32.3L33.2 32.2L28.6 30.1L28.3 30L28.1 29.9L27.9 29.9L27.6 29.9L27.3 29.9L27.1 29.9L26.9 30L26.6 30L26.4 30.2L26.2 30.3L26 30.4L25.8 30.6L25.6 30.8Z" fill="#fff" stroke="#000" stroke-width="1.0" stroke-linejoin="round"/></pattern><pattern id="pd" width="84" height="84" patternUnits="userSpaceOnUse"><rect width="84" height="84" fill="#222"/><path d="M20.4 65.4L20.1 65.1L19.8 64.9L19.5 64.8L19.1 64.6L18.8 64.5L18.4 64.4L18 64.4L17.7 64.4L17.3 64.4L16.9 64.5L16.6 64.6L16.3 64.7L15.9 64.9L15.6 65.1L15.3 65.3L15.1 65.6L11.1 69.8L10.9 70.1L10.7 70.4L10.5 70.7L10.3 71.1L10.2 71.4L10.1 71.8L10.1 72.1L10.1 72.5L10.1 72.9L10.2 73.3L10.3 73.6L10.4 74L10.6 74.3L13.2 78.7L13.4 79L13.6 79.3L13.9 79.6L14.1 79.8L14.4 80L14.7 80.2L15.1 80.4L15.4 80.5L19.4 81.7L19.8 81.8L20.1 81.8L20.5 81.8L20.9 81.8L21.2 81.7L21.6 81.6L22 81.5L22.3 81.4L22.6 81.2L22.9 80.9L24.3 79.7L24.6 79.5L24.9 79.2L25.1 78.9L25.3 78.5L25.4 78.2L25.6 77.8L25.6 77.4L26.3 73L26.3 72.7L26.3 72.3L26.3 71.9L26.2 71.5L26.1 71.2L26 70.8L25.8 70.5L25.6 70.2L25.3 69.9L25.1 69.6ZM36.6 58.5L36.9 58.8L37.2 59L37.5 59.2L37.8 59.4L38.1 59.6L38.5 59.7L38.8 59.8L39.2 59.8L39.5 59.8L39.9 59.8L40.3 59.7L40.6 59.7L44.9 58.3L45.2 58.2L45.6 58L45.9 57.8L46.2 57.6L46.5 57.3L46.7 57.1L46.9 56.8L47.1 56.4L47.3 56.1L47.4 55.7L47.5 55.4L47.5 55L47.5 54.6L47.5 54.2L47.4 53.9L46.1 47.8L46 47.5L45.8 47.1L45.7 46.8L45.5 46.5L45.2 46.2L45 45.9L44.7 45.7L44.4 45.5L44 45.3L43.7 45.1L43.3 45L43 44.9L41.2 44.7L40.8 44.6L40.4 44.6L40 44.6L39.6 44.7L39.3 44.8L38.9 45L38.6 45.2L38.2 45.4L37.9 45.6L33.7 49.7L33.5 49.9L33.2 50.2L33 50.5L32.9 50.8L32.7 51.2L32.6 51.5L32.6 51.9L32.5 52.2L32.5 52.6L32.6 53L32.6 53.3L32.7 53.7L32.9 54L33 54.3L33.2 54.6L33.5 54.9ZM72.7 46.6L73 46.5L73.3 46.3L73.6 46L73.9 45.8L74.2 45.5L74.4 45.2L74.6 44.9L74.7 44.5L74.8 44.2L74.9 43.8L75 43.4L75 43.1L75 42.7L74.9 42.3L74.8 42L74.7 41.6L74.5 41.3L71.3 35.5L71.1 35.2L70.8 34.8L70.6 34.6L70.3 34.3L69.9 34.1L69.6 33.9L69.2 33.7L68.9 33.6L68.5 33.5L68.1 33.4L67.8 33.4L67.4 33.4L67 33.4L66.7 33.5L66.3 33.6L66 33.7L65.7 33.9L65.3 34.1L65.1 34.3L59 39.7L58.7 40L58.5 40.3L58.3 40.6L58.1 40.9L58 41.3L57.9 41.6L57.8 42L57.7 42.3L57.7 42.7L57.8 43.1L57.8 43.4L57.9 43.8L58.1 44.1L59.8 48L60 48.4L60.2 48.7L60.4 49L60.7 49.2L60.9 49.5L61.2 49.7L61.6 49.9L61.9 50L62.2 50.1L62.6 50.2L63 50.3L63.3 50.3L63.7 50.3L64.1 50.2L64.4 50.1L64.8 50ZM30.3 12.7L30.2 12.3L30 12L29.9 11.6L29.7 11.3L29.5 11L29.2 10.7L29 10.5L28.7 10.3L28.3 10.1L28 9.9L25 8.6L24.6 8.5L24.3 8.4L23.9 8.4L23.5 8.3L23.1 8.4L22.8 8.4L22.4 8.5L22 8.6L21.7 8.8L21.4 9L21.1 9.2L20.8 9.5L17.2 13.2L16.9 13.5L16.7 13.8L16.5 14.2L16.4 14.5L16.2 14.9L16.2 15.2L16.1 15.6L16.1 16L16.1 16.3L16.2 16.7L16.3 17.1L16.4 17.4L16.6 17.8L16.8 18.1L19.4 21.8L19.6 22L19.9 22.3L20.1 22.6L20.4 22.8L20.7 23L21.1 23.1L21.4 23.2L21.8 23.3L22.1 23.4L22.5 23.4L22.9 23.4L23.2 23.3L28.3 22.3L28.7 22.2L29.1 22L29.4 21.9L29.7 21.7L30 21.5L30.3 21.2L30.5 20.9L30.7 20.6L30.9 20.3L31.1 20L31.2 19.6L31.3 19.3L31.4 18.9L31.4 18.5L31.4 18.1L31.3 17.8ZM9.5 56.2L9.3 55.9L9 55.7L8.7 55.5L8.4 55.4L8 55.2L7.7 55.1L7.3 55L6.9 55L6.6 55L6.2 55.1L5.8 55.1L5.5 55.2L2 56.5L1.7 56.6L1.3 56.8L1 57L0.7 57.3L0.5 57.5L0.2 57.8L0 58.1L-0.1 58.4L-0.3 58.8L-0.4 59.1L-0.5 59.5L-0.5 59.9L-0.5 60.2L-0.5 60.6L-0.4 61L-0.3 61.3L2.3 68.6L2.4 69L2.6 69.3L2.8 69.6L3 69.9L3.2 70.1L3.5 70.4L3.8 70.6L4.1 70.8L4.5 70.9L4.8 71L5.1 71.1L5.5 71.2L6.8 71.3L7.2 71.3L7.5 71.3L7.9 71.2L8.3 71.1L8.6 71L9 70.8L9.3 70.6L9.6 70.4L9.9 70.1L13.8 65.9L14.1 65.6L14.3 65.3L14.5 65L14.6 64.6L14.7 64.2L14.8 63.9L14.8 63.5L14.8 63.1L14.8 62.7L14.7 62.3L14.6 62L14.4 61.6L14.3 61.3L14 61L13.8 60.7ZM93.5 56.2L93.3 55.9L93 55.7L92.7 55.5L92.4 55.4L92 55.2L91.7 55.1L91.3 55L90.9 55L90.6 55L90.2 55.1L89.8 55.1L89.5 55.2L86 56.5L85.7 56.6L85.3 56.8L85 57L84.7 57.3L84.5 57.5L84.2 57.8L84 58.1L83.9 58.4L83.7 58.8L83.6 59.1L83.5 59.5L83.5 59.9L83.5 60.2L83.5 60.6L83.6 61L83.7 61.3L86.3 68.6L86.4 69L86.6 69.3L86.8 69.6L87 69.9L87.2 70.1L87.5 70.4L87.8 70.6L88.1 70.8L88.5 70.9L88.8 71L89.1 71.1L89.5 71.2L90.8 71.3L91.2 71.3L91.5 71.3L91.9 71.2L92.3 71.1L92.6 71L93 70.8L93.3 70.6L93.6 70.4L93.9 70.1L97.8 65.9L98.1 65.6L98.3 65.3L98.5 65L98.6 64.6L98.7 64.2L98.8 63.9L98.8 63.5L98.8 63.1L98.8 62.7L98.7 62.3L98.6 62L98.4 61.6L98.3 61.3L98 61L97.8 60.7ZM32.7 9.2L32.4 9.4L32.1 9.7L31.9 10L31.6 10.3L31.5 10.6L31.3 10.9L31.2 11.3L31.1 11.6L31 12L31 12.4L31 12.8L31.1 13.1L32.4 19.8L32.5 20.2L32.6 20.5L32.8 20.8L33 21.1L33.2 21.4L33.5 21.7L33.7 22L34 22.2L34.3 22.4L35.6 23.1L35.9 23.2L36.3 23.4L36.7 23.4L37 23.5L37.4 23.5L37.8 23.5L38.1 23.5L38.5 23.4L38.9 23.2L39.2 23.1L39.5 22.9L39.8 22.7L40.1 22.4L40.3 22.2L40.6 21.9L46.9 12.6L47.1 12.2L47.2 11.9L47.4 11.5L47.5 11.2L47.5 10.8L47.5 10.4L47.5 10L47.4 9.6L47.3 9.3L47.2 8.9L47 8.6L46.8 8.2L46.6 7.9L44.4 5.5L44.2 5.2L43.9 5L43.6 4.8L43.3 4.6L43 4.4L42.6 4.3L42.3 4.2L41.9 4.2L41.5 4.2L41.2 4.2L40.8 4.2L40.5 4.3L40.1 4.4L39.8 4.6L39.5 4.8ZM78.2 17.2L78 16.9L77.8 16.5L77.5 16.2L77.3 16L77 15.7L76.6 15.5L76.3 15.4L75.9 15.2L75.6 15.1L75.2 15.1L74.8 15L74.4 15.1L74 15.1L73.6 15.2L71.7 15.8L71.4 15.9L71 16.1L70.7 16.3L70.4 16.5L70.1 16.7L69.9 17L69.7 17.3L69.5 17.6L69.3 17.9L65.7 26.3L65.5 26.7L65.4 27.1L65.4 27.5L65.4 27.8L65.4 28.2L65.4 28.6L65.5 29L65.7 29.4L65.8 29.7L66.5 30.9L66.7 31.2L67 31.5L67.2 31.8L67.5 32.1L67.9 32.3L68.2 32.5L68.7 32.7L69.1 32.9L69.5 33L69.9 33L70.2 33.1L70.6 33.1L71 33L71.4 32.9L71.8 32.8L72.1 32.7L72.4 32.5L72.8 32.2L79.5 26.7L79.8 26.5L80 26.2L80.3 25.9L80.5 25.6L80.6 25.3L80.7 24.9L80.8 24.6L80.9 24.2L80.9 23.9L80.9 23.5L80.9 23.2L80.8 22.8L80.7 22.5L80.6 22.1ZM48.4 54.9L48.5 55.2L48.6 55.6L48.8 55.9L49 56.2L49.2 56.5L49.5 56.8L49.8 57L50.1 57.2L50.4 57.4L50.8 57.6L51.1 57.7L51.5 57.8L51.9 57.8L52.2 57.8L52.6 57.8L53 57.7L53.4 57.6L57.7 56L58.1 55.9L58.4 55.7L58.7 55.5L58.9 55.3L59.2 55.1L59.4 54.8L59.6 54.5L59.8 54.2L60 53.9L60.2 53.4L60.3 53L60.4 52.7L60.4 52.3L60.4 51.9L60.4 51.5L60.4 51.1L60.3 50.8L60.1 50.4L57.1 43.7L56.9 43.3L56.7 43L56.5 42.7L56.2 42.5L56 42.2L55.6 42L55.3 41.8L55 41.7L54.6 41.6L54.3 41.5L52.8 41.2L52.5 41.2L52.1 41.2L51.7 41.2L51.4 41.3L51 41.4L50.7 41.5L50.3 41.7L50 41.9L49.7 42.1L47.9 43.7L47.6 43.9L47.4 44.2L47.2 44.5L47 44.8L46.8 45.2L46.7 45.5L46.6 45.9L46.6 46.3L46.6 46.7L46.6 47L46.7 47.4ZM41.3 22.1L41.1 22.4L40.9 22.7L40.8 23.1L40.7 23.4L40.6 23.8L40.6 24.1L40.6 24.5L40.7 24.9L40.7 25.2L40.9 25.6L41 25.9L41.2 26.2L41.4 26.5L41.6 26.8L41.9 27L42.2 27.3L42.5 27.5L42.8 27.6L46 29.1L46.3 29.3L46.7 29.4L47 29.5L47.4 29.5L47.7 29.5L48.1 29.5L48.5 29.4L48.8 29.3L49.1 29.2L54.5 26.8L54.8 26.6L55.1 26.5L55.4 26.2L55.7 26L55.9 25.7L56.1 25.4L56.3 25.1L56.5 24.8L56.6 24.4L56.7 24.1L56.7 23.7L56.8 23.4L56.7 23L56.7 22.6L56.6 22.3L56.5 21.9L53.5 14.5L53.4 14.2L53.2 13.9L53 13.6L52.7 13.3L52.5 13L52.2 12.8L51.8 12.6L51.5 12.5L51.1 12.3L50.8 12.2L50.4 12.2L50 12.2L49.7 12.2L49.3 12.2L48.9 12.3L48.6 12.4L48.2 12.6L47.9 12.8L47.6 13L47.3 13.2L47.1 13.5L46.9 13.8ZM-2.3 22.9L-2.1 23.2L-1.9 23.5L-1.7 23.8L-1.4 24.1L-1.1 24.3L-0.8 24.5L-0.5 24.7L-0.1 24.8L0.3 24.9L0.6 25L1 25.1L1.4 25L1.7 25L2.1 24.9L2.5 24.8L2.8 24.7L3.1 24.5L3.4 24.3L3.7 24L4 23.8L9.2 17.9L9.4 17.6L9.7 17.2L9.8 16.9L10 16.5L10.1 16.2L10.1 15.8L10.2 15.4L10.1 15L10.1 14.6L10 14.3L9.9 13.9L9.7 13.6L9.5 13.2L9.3 12.9L9 12.6L4.7 8.4L4.4 8.1L4.1 7.9L3.7 7.7L3.3 7.5L3 7.4L2.6 7.3L-0 6.9L-0.4 6.9L-0.8 6.9L-1.2 7L-1.5 7L-1.9 7.1L-2.3 7.3L-2.6 7.5L-2.9 7.7L-3.2 8L-3.5 8.2L-3.7 8.5L-3.9 8.9L-5.7 12.1L-5.9 12.4L-6 12.8L-6.1 13.1L-6.1 13.5L-6.2 13.9L-6.2 14.2L-6.1 14.6L-6 14.9L-5.9 15.3L-5.8 15.6ZM81.7 22.9L81.9 23.2L82.1 23.5L82.3 23.8L82.6 24.1L82.9 24.3L83.2 24.5L83.5 24.7L83.9 24.8L84.3 24.9L84.6 25L85 25.1L85.4 25L85.7 25L86.1 24.9L86.5 24.8L86.8 24.7L87.1 24.5L87.4 24.3L87.7 24L88 23.8L93.2 17.9L93.4 17.6L93.7 17.2L93.8 16.9L94 16.5L94.1 16.2L94.1 15.8L94.2 15.4L94.1 15L94.1 14.6L94 14.3L93.9 13.9L93.7 13.6L93.5 13.2L93.3 12.9L93 12.6L88.7 8.4L88.4 8.1L88.1 7.9L87.7 7.7L87.3 7.5L87 7.4L86.6 7.3L84 6.9L83.6 6.9L83.2 6.9L82.8 7L82.5 7L82.1 7.1L81.7 7.3L81.4 7.5L81.1 7.7L80.8 8L80.5 8.2L80.3 8.5L80.1 8.9L78.3 12.1L78.1 12.4L78 12.8L77.9 13.1L77.9 13.5L77.8 13.9L77.8 14.2L77.9 14.6L78 14.9L78.1 15.3L78.2 15.6ZM59.8 74.8L60.1 74.9L60.5 74.9L60.9 74.9L61.2 74.9L61.6 74.9L61.9 74.8L62.3 74.7L62.6 74.5L62.9 74.3L63.2 74.1L63.5 73.9L63.7 73.6L67.1 69.6L67.3 69.4L67.5 69.1L67.6 68.7L67.7 68.4L67.8 68.1L67.9 67.7L67.9 67.4L68 66.8L68 66.4L67.9 66L67.9 65.6L67.8 65.2L67.6 64.9L67.4 64.6L67.2 64.2L66.9 63.9L61.2 57.9L60.9 57.7L60.7 57.5L60.3 57.3L60 57.1L59.7 57L59.3 56.9L59 56.8L58.6 56.8L58.2 56.8L57.9 56.8L57.5 56.9L57.2 57L54.7 57.8L54.4 58L54.1 58.2L53.8 58.4L53.5 58.6L53.2 58.8L53 59.1L52.8 59.4L52.6 59.7L52.5 60.1L52.3 60.4L52.3 60.8L52.2 61.1L52.2 61.5L52.2 61.8L53.2 70.4L53.2 70.8L53.3 71.1L53.4 71.5L53.6 71.8L53.8 72.2L54 72.4L54.3 72.7L54.6 73L54.9 73.2L55.2 73.4L55.5 73.5L55.9 73.7ZM-5.1 42.6L-5.4 42.7L-5.8 42.8L-6.1 43L-6.4 43.2L-6.7 43.4L-7 43.7L-7.2 43.9L-7.4 44.2L-7.6 44.6L-7.7 44.9L-7.9 45.2L-7.9 45.6L-8 46L-8 46.3L-8 46.7L-7.9 47.1L-7.8 47.4L-7.7 47.8L-5 54.4L-4.8 54.7L-4.6 55L-4.4 55.3L-4.2 55.6L-3.9 55.9L-3.6 56.1L-3.3 56.3L-3 56.4L-2.7 56.6L-2.3 56.7L-1.9 56.7L-1.6 56.8L-1.2 56.7L-0.9 56.7L-0.5 56.6L-0.2 56.5L5.9 54.3L6.3 54.2L6.6 54L6.9 53.8L7.2 53.6L7.5 53.3L7.7 53L7.9 52.7L8.1 52.3L8.2 52L9.8 47.4L9.9 47L9.9 46.7L10 46.3L10 46L9.9 45.6L9.9 45.3L9.8 44.9L9.6 44.6L8.7 42.5L8.5 42.2L8.3 41.9L8 41.6L7.8 41.3L7.5 41.1L7.2 40.9L6.9 40.7L6.5 40.5L6.2 40.4L5.8 40.4L5.5 40.3L5.1 40.3L4.7 40.3L4.4 40.4ZM78.9 42.6L78.6 42.7L78.2 42.8L77.9 43L77.6 43.2L77.3 43.4L77 43.7L76.8 43.9L76.6 44.2L76.4 44.6L76.3 44.9L76.1 45.2L76.1 45.6L76 46L76 46.3L76 46.7L76.1 47.1L76.2 47.4L76.3 47.8L79 54.4L79.2 54.7L79.4 55L79.6 55.3L79.8 55.6L80.1 55.9L80.4 56.1L80.7 56.3L81 56.4L81.3 56.6L81.7 56.7L82.1 56.7L82.4 56.8L82.8 56.7L83.1 56.7L83.5 56.6L83.8 56.5L89.9 54.3L90.3 54.2L90.6 54L90.9 53.8L91.2 53.6L91.5 53.3L91.7 53L91.9 52.7L92.1 52.3L92.2 52L93.8 47.4L93.9 47L93.9 46.7L94 46.3L94 46L93.9 45.6L93.9 45.3L93.8 44.9L93.6 44.6L92.7 42.5L92.5 42.2L92.3 41.9L92 41.6L91.8 41.3L91.5 41.1L91.2 40.9L90.9 40.7L90.5 40.5L90.2 40.4L89.8 40.4L89.5 40.3L89.1 40.3L88.7 40.3L88.4 40.4ZM42.8 -0.6L42.6 -0.2L42.6 0.1L42.5 0.5L42.5 0.9L42.5 1.3L42.6 1.6L42.7 2L42.8 2.3L43 2.7L43.2 3L43.4 3.3L48.2 8.7L48.5 9L48.8 9.2L49.1 9.5L49.4 9.7L49.8 9.8L50.1 9.9L50.5 10L51.2 10.1L51.6 10.1L51.9 10.1L52.3 10.1L52.6 10L52.9 9.9L53.3 9.8L57.5 8L57.9 7.8L58.2 7.6L58.5 7.4L58.8 7.1L59.1 6.8L59.3 6.4L63 0.2L63.2 -0.2L63.3 -0.5L63.4 -0.9L63.5 -1.3L63.5 -1.6L63.5 -2L63.4 -2.4L63.4 -2.8L62.5 -5.8L62.4 -6.1L62.3 -6.5L62.1 -6.8L61.8 -7.2L61.6 -7.4L61.3 -7.7L61 -7.9L60.7 -8.1L60.3 -8.3L59.9 -8.4L54.6 -10L54.2 -10.1L53.9 -10.1L53.5 -10.1L53.2 -10.1L52.8 -10.1L52.5 -10L52.1 -9.9L51.8 -9.8L46.3 -7L46 -6.9L45.7 -6.7L45.4 -6.4L45.1 -6.2L44.9 -5.9L44.7 -5.6L44.5 -5.3L44.4 -5ZM42.8 83.4L42.6 83.8L42.6 84.1L42.5 84.5L42.5 84.9L42.5 85.3L42.6 85.6L42.7 86L42.8 86.3L43 86.7L43.2 87L43.4 87.3L48.2 92.7L48.5 93L48.8 93.2L49.1 93.5L49.4 93.7L49.8 93.8L50.1 93.9L50.5 94L51.2 94.1L51.6 94.1L51.9 94.1L52.3 94.1L52.6 94L52.9 93.9L53.3 93.8L57.5 92L57.9 91.8L58.2 91.6L58.5 91.4L58.8 91.1L59.1 90.8L59.3 90.4L63 84.2L63.2 83.8L63.3 83.5L63.4 83.1L63.5 82.7L63.5 82.4L63.5 82L63.4 81.6L63.4 81.2L62.5 78.2L62.4 77.9L62.3 77.5L62.1 77.2L61.8 76.8L61.6 76.6L61.3 76.3L61 76.1L60.7 75.9L60.3 75.7L59.9 75.6L54.6 74L54.2 73.9L53.9 73.9L53.5 73.9L53.2 73.9L52.8 73.9L52.5 74L52.1 74.1L51.8 74.2L46.3 77L46 77.1L45.7 77.3L45.4 77.6L45.1 77.8L44.9 78.1L44.7 78.4L44.5 78.7L44.4 79ZM63.9 -9.6L63.7 -9.3L63.5 -9L63.4 -8.6L63.2 -8.3L63.1 -7.9L63.1 -7.6L63 -7.2L63.1 -6.8L63.1 -6.5L63.2 -6.1L63.9 -3.6L64 -3.2L64.1 -2.9L64.3 -2.6L64.5 -2.3L64.7 -2L65 -1.7L65.3 -1.5L65.6 -1.3L65.9 -1.1L66.2 -1L66.6 -0.9L75.3 1.4L75.7 1.5L76 1.6L76.4 1.6L76.8 1.5L77.2 1.5L77.5 1.3L77.9 1.2L78.2 1L78.6 0.8L78.8 0.6L79.1 0.3L79.4 -0L79.6 -0.3L79.7 -0.7L79.9 -1L80 -1.4L81 -5.9L81 -6.2L81.1 -6.6L81 -7L81 -7.3L80.9 -7.7L80.8 -8.1L80.7 -8.4L80.5 -8.7L80.3 -9L80 -9.3L79.7 -9.6L79.4 -9.8L79.1 -10L78.8 -10.2L70.9 -13.6L70.6 -13.8L70.2 -13.9L69.8 -13.9L69.5 -13.9L69.1 -13.9L68.7 -13.9L68.4 -13.8L68 -13.7L67.7 -13.5L67.3 -13.3L67 -13.1L66.7 -12.9L66.5 -12.6ZM63.9 74.4L63.7 74.7L63.5 75L63.4 75.4L63.2 75.7L63.1 76.1L63.1 76.4L63 76.8L63.1 77.2L63.1 77.5L63.2 77.9L63.9 80.4L64 80.8L64.1 81.1L64.3 81.4L64.5 81.7L64.7 82L65 82.3L65.3 82.5L65.6 82.7L65.9 82.9L66.2 83L66.6 83.1L75.3 85.4L75.7 85.5L76 85.6L76.4 85.6L76.8 85.5L77.2 85.5L77.5 85.3L77.9 85.2L78.2 85L78.6 84.8L78.8 84.6L79.1 84.3L79.4 84L79.6 83.7L79.7 83.3L79.9 83L80 82.6L81 78.1L81 77.8L81.1 77.4L81 77L81 76.7L80.9 76.3L80.8 75.9L80.7 75.6L80.5 75.3L80.3 75L80 74.7L79.7 74.4L79.4 74.2L79.1 74L78.8 73.8L70.9 70.4L70.6 70.2L70.2 70.1L69.8 70.1L69.5 70.1L69.1 70.1L68.7 70.1L68.4 70.2L68 70.3L67.7 70.5L67.3 70.7L67 70.9L66.7 71.1L66.5 71.4ZM-9.4 40L-9.2 40.4L-8.9 40.7L-8.7 40.9L-8.4 41.2L-8.1 41.4L-7.8 41.6L-7.4 41.7L-7.1 41.9L-6.7 41.9L-6.3 42L-5.9 42L-5.6 42L-5.2 41.9L4.9 39.6L5.3 39.5L5.6 39.3L5.9 39.1L6.3 38.9L6.6 38.7L6.8 38.4L7.1 38.1L7.3 37.8L7.5 37.5L7.6 37.1L7.7 36.8L7.8 36.4L7.8 36L7.8 35.6L7.8 35.2L7.7 34.9L7.6 34.5L7.4 34.2L7.2 33.8L3.2 27.5L3 27.2L2.8 26.9L2.5 26.7L2.2 26.4L1.9 26.2L1.5 26.1L1.2 25.9L0.8 25.8L0.2 25.7L-0.2 25.6L-0.6 25.6L-1 25.6L-1.3 25.7L-1.7 25.8L-2.1 25.9L-2.4 26L-2.7 26.2L-3 26.5L-10.1 32.2L-10.4 32.5L-10.7 32.8L-10.9 33.1L-11.1 33.4L-11.2 33.7L-11.4 34.1L-11.5 34.4L-11.5 34.8L-11.5 35.2L-11.5 35.6L-11.4 35.9L-11.4 36.3L-11.2 36.7L-11.1 37ZM74.6 40L74.8 40.4L75.1 40.7L75.3 40.9L75.6 41.2L75.9 41.4L76.2 41.6L76.6 41.7L76.9 41.9L77.3 41.9L77.7 42L78.1 42L78.4 42L78.8 41.9L88.9 39.6L89.3 39.5L89.6 39.3L89.9 39.1L90.3 38.9L90.6 38.7L90.8 38.4L91.1 38.1L91.3 37.8L91.5 37.5L91.6 37.1L91.7 36.8L91.8 36.4L91.8 36L91.8 35.6L91.8 35.2L91.7 34.9L91.6 34.5L91.4 34.2L91.2 33.8L87.2 27.5L87 27.2L86.8 26.9L86.5 26.7L86.2 26.4L85.9 26.2L85.5 26.1L85.2 25.9L84.8 25.8L84.2 25.7L83.8 25.6L83.4 25.6L83 25.6L82.7 25.7L82.3 25.8L81.9 25.9L81.6 26L81.3 26.2L81 26.5L73.9 32.2L73.6 32.5L73.3 32.8L73.1 33.1L72.9 33.4L72.8 33.7L72.6 34.1L72.5 34.4L72.5 34.8L72.5 35.2L72.5 35.6L72.6 35.9L72.6 36.3L72.8 36.7L72.9 37ZM79.7 8.2L79.8 7.9L80 7.5L80.1 7.1L80.1 6.8L80.1 6.4L80.1 6L80.1 5.6L80 5.2L79.8 4.9L79.7 4.5L79.5 4.2L79.2 3.9L79 3.6L78.7 3.4L78.4 3.2L78 3L77.7 2.8L77.3 2.7L67.1 -0L66.8 -0.1L66.4 -0.1L66 -0.1L65.6 -0.1L65.2 -0L64.9 0.1L64.5 0.2L64.2 0.4L63.9 0.6L63.6 0.9L63.3 1.1L63.1 1.4L62.9 1.7L61.1 4.8L60.9 5.1L60.8 5.5L60.7 5.8L60.6 6.2L60.6 6.5L60.6 6.9L60.6 7.3L60.7 7.6L60.8 8L60.9 8.3L61.1 8.7L61.3 9L61.5 9.3L61.8 9.5L62.1 9.8L68.3 14.5L68.6 14.7L68.9 14.8L69.2 15L69.6 15.1L69.9 15.2L70.3 15.2L70.6 15.2L71 15.2L71.3 15.2L71.7 15.1L75.2 14L75.6 13.9L75.9 13.7L76.2 13.5L76.5 13.3L76.8 13.1L77 12.8L77.3 12.5L77.5 12.2ZM79.7 92.2L79.8 91.9L80 91.5L80.1 91.1L80.1 90.8L80.1 90.4L80.1 90L80.1 89.6L80 89.2L79.8 88.9L79.7 88.5L79.5 88.2L79.2 87.9L79 87.6L78.7 87.4L78.4 87.2L78 87L77.7 86.8L77.3 86.7L67.1 84L66.8 83.9L66.4 83.9L66 83.9L65.6 83.9L65.2 84L64.9 84.1L64.5 84.2L64.2 84.4L63.9 84.6L63.6 84.9L63.3 85.1L63.1 85.4L62.9 85.7L61.1 88.8L60.9 89.1L60.8 89.5L60.7 89.8L60.6 90.2L60.6 90.5L60.6 90.9L60.6 91.3L60.7 91.6L60.8 92L60.9 92.3L61.1 92.7L61.3 93L61.5 93.3L61.8 93.5L62.1 93.8L68.3 98.5L68.6 98.7L68.9 98.8L69.2 99L69.6 99.1L69.9 99.2L70.3 99.2L70.6 99.2L71 99.2L71.3 99.2L71.7 99.1L75.2 98L75.6 97.9L75.9 97.7L76.2 97.5L76.5 97.3L76.8 97.1L77 96.8L77.3 96.5L77.5 96.2ZM28.3 9.3L28.6 9.4L29 9.5L29.3 9.5L29.7 9.6L30.1 9.5L30.5 9.5L30.8 9.4L31.2 9.3L31.5 9.1L31.8 8.9L36.9 5.6L37.2 5.4L37.4 5.2L37.7 4.9L37.9 4.6L38.1 4.3L38.3 4L38.4 3.6L38.5 3.3L38.6 2.9L38.6 2.5L38.6 2.2L38.5 1.8L38.5 1.5L38.3 1.1L38.2 0.8L38 0.4L37.8 0.1L37.6 -0.1L37.3 -0.4L37 -0.6L36.7 -0.8L36.4 -1L36 -1.1L27.9 -3.9L27.5 -4L27.1 -4.1L26.7 -4.1L26.3 -4.1L25.9 -4L25.5 -4L25.2 -3.8L24.8 -3.7L24.5 -3.5L24.2 -3.2L23.4 -2.6L23.1 -2.3L22.9 -2L22.6 -1.7L22.5 -1.4L22.3 -1L22.2 -0.7L22.1 -0.3L22 0.1L22 0.5L22.1 0.8L22.6 4.8L22.6 5.2L22.7 5.5L22.9 5.8L23 6.2L23.2 6.5L23.4 6.8L23.7 7L23.9 7.3L24.2 7.5L24.5 7.7L24.9 7.8ZM28.3 93.3L28.6 93.4L29 93.5L29.3 93.5L29.7 93.6L30.1 93.5L30.5 93.5L30.8 93.4L31.2 93.3L31.5 93.1L31.8 92.9L36.9 89.6L37.2 89.4L37.4 89.2L37.7 88.9L37.9 88.6L38.1 88.3L38.3 88L38.4 87.6L38.5 87.3L38.6 86.9L38.6 86.5L38.6 86.2L38.5 85.8L38.5 85.5L38.3 85.1L38.2 84.8L38 84.4L37.8 84.1L37.6 83.9L37.3 83.6L37 83.4L36.7 83.2L36.4 83L36 82.9L27.9 80.1L27.5 80L27.1 79.9L26.7 79.9L26.3 79.9L25.9 80L25.5 80L25.2 80.2L24.8 80.3L24.5 80.5L24.2 80.8L23.4 81.4L23.1 81.7L22.9 82L22.6 82.3L22.5 82.6L22.3 83L22.2 83.3L22.1 83.7L22 84.1L22 84.5L22.1 84.8L22.6 88.8L22.6 89.2L22.7 89.5L22.9 89.8L23 90.2L23.2 90.5L23.4 90.8L23.7 91L23.9 91.3L24.2 91.5L24.5 91.7L24.9 91.8ZM37.5 64.7L37.4 65.1L37.4 65.5L37.4 65.9L37.4 66.2L37.5 66.6L37.6 67L37.7 67.3L37.9 67.6L38.1 67.9L42.9 74.4L43.1 74.7L43.4 74.9L43.7 75.2L44 75.4L44.3 75.6L44.7 75.7L45 75.8L45.4 75.9L45.8 75.9L46.2 75.9L46.5 75.9L46.9 75.8L47.3 75.7L47.6 75.5L50.3 74.2L50.7 74L51 73.8L51.3 73.5L51.6 73.2L51.8 72.9L52 72.6L52.2 72.3L52.3 71.9L52.4 71.5L52.4 71.1L52.5 70.8L52.4 70.4L51.5 61.7L51.4 61.4L51.4 61L51.2 60.7L51.1 60.3L50.9 60L50.6 59.7L50.4 59.4L50.1 59.2L49.8 59L49.5 58.8L49.1 58.6L48.8 58.5L48.4 58.4L48.1 58.4L47.7 58.3L47.3 58.4L47 58.4L46.6 58.5L40.4 60.4L40.1 60.6L39.7 60.7L39.4 61L39.1 61.2L38.8 61.5L38.6 61.7L38.4 62.1L38.2 62.4L38 62.8L37.9 63.1ZM42.7 28.4L42.4 28.3L42 28.1L41.7 28.1L41.3 28L40.9 28L40.6 28.1L40.2 28.1L39.8 28.3L39.5 28.4L39.2 28.6L38.9 28.8L38.6 29L38.3 29.3L38.1 29.6L37.9 29.9L37.7 30.2L36.6 32.6L36.4 33L36.3 33.3L36.2 33.7L36.2 34.1L36.2 34.5L36.2 34.8L36.3 35.2L36.4 35.6L38.7 41.6L38.8 41.9L39 42.2L39.2 42.6L39.4 42.8L39.7 43.1L40 43.3L40.3 43.5L40.6 43.7L40.9 43.8L41.3 43.9L41.6 44L43.9 44.4L44.3 44.4L44.7 44.4L45 44.4L45.4 44.3L45.7 44.2L46.1 44.1L46.4 43.9L46.7 43.7L47 43.5L48.6 42.1L48.9 41.9L49.1 41.6L49.4 41.3L49.6 41L49.7 40.6L49.8 40.3L49.9 39.9L49.9 39.5L50 39.2L49.9 38.8L49.9 38.4L49.8 38L47.8 32.1L47.6 31.7L47.5 31.4L47.3 31L47 30.7L46.7 30.5L46.5 30.2L46.1 30L45.8 29.8ZM23.2 24L22.8 24.1L22.5 24.2L22.1 24.4L21.8 24.6L21.5 24.8L21.2 25.1L21 25.4L20.8 25.7L20.6 26L20.4 26.3L20.3 26.7L19.6 29L19.5 29.4L19.4 29.8L19.4 30.2L19.5 30.6L19.5 31L19.6 31.3L19.8 31.7L20 32L20.2 32.4L20.4 32.7L20.7 32.9L23.7 35.7L24 35.9L24.3 36.1L24.6 36.3L25 36.4L25.3 36.5L25.7 36.6L26.1 36.7L26.4 36.7L26.8 36.6L27.2 36.6L27.5 36.5L33.7 34.3L34.1 34.1L34.4 34L34.7 33.8L35 33.5L35.3 33.3L35.5 33L35.7 32.7L35.9 32.3L37.5 29L37.6 28.6L37.8 28.3L37.8 27.9L37.9 27.5L37.9 27.1L37.8 26.7L37.7 26.4L37.6 26L37.5 25.6L37.3 25.3L37 25L36.8 24.7L36.5 24.4L36.2 24.2L35.9 24L33.6 22.8L33.3 22.6L32.9 22.5L32.6 22.4L32.2 22.4L31.8 22.3L31.4 22.4L31.1 22.4ZM38.3 82.9L38.6 83L39 83.1L39.3 83.1L39.7 83.1L40.1 83.1L40.4 83L40.8 82.9L41.1 82.7L41.4 82.6L41.8 82.4L42 82.1L42.3 81.9L42.5 81.6L42.7 81.3L42.9 81L43.1 80.6L43.5 79.4L43.6 79L43.7 78.6L43.8 78.3L43.8 77.9L43.7 77.5L43.7 77.1L43.6 76.8L43.4 76.4L43.2 76.1L43 75.8L38.4 69.5L38.1 69.2L37.9 68.9L37.6 68.7L37.3 68.5L37 68.3L36.6 68.1L36.3 68L35.9 68L35.5 67.9L35.2 67.9L34.8 67.9L34.5 68L34.1 68.1L33.8 68.2L29.2 70.3L28.8 70.4L28.5 70.7L28.2 70.9L27.9 71.2L27.7 71.4L27.5 71.8L27.3 72.1L27.2 72.4L27 72.8L27 73.2L26.6 75.6L26.6 76L26.6 76.4L26.6 76.8L26.7 77.1L26.8 77.5L26.9 77.8L27.1 78.2L27.3 78.5L27.6 78.8L27.8 79L28.1 79.3L28.4 79.5L28.8 79.6L29.1 79.8ZM-3.5 4.2L-3.3 4.5L-3.1 4.8L-2.8 5.1L-2.5 5.4L-2.2 5.6L-1.8 5.8L-1.5 5.9L-1.1 6.1L-0.7 6.1L1.8 6.5L2.2 6.5L2.6 6.5L2.9 6.5L3.3 6.4L3.6 6.3L4 6.2L4.3 6L4.6 5.8L4.9 5.6L5.2 5.3L11.4 -1.6L11.7 -1.9L11.9 -2.2L12 -2.6L12.2 -2.9L12.3 -3.2L12.4 -3.6L12.4 -4L12.4 -4.3L12.4 -4.7L12.3 -5.1L12.2 -5.4L12.1 -5.8L11.9 -6.1L9.5 -10.2L9.3 -10.5L9.1 -10.8L8.9 -11L8.6 -11.3L8.3 -11.5L8 -11.6L7.6 -11.8L7.3 -11.9L7 -12L6.6 -12L4.4 -12.2L4.1 -12.3L3.7 -12.2L3.3 -12.2L3 -12.1L2.7 -12L2.3 -11.9L2 -11.7L1.8 -11.5L-0.5 -9.7L-0.8 -9.5L-1.1 -9.2L-1.3 -8.9L-1.5 -8.6L-1.7 -8.3L-1.8 -7.9L-1.9 -7.5L-3.9 1.4L-4 1.8L-4 2.2L-4 2.6L-4 3L-3.9 3.4L-3.7 3.7L-3.6 4.1ZM-3.5 88.2L-3.3 88.5L-3.1 88.8L-2.8 89.1L-2.5 89.4L-2.2 89.6L-1.8 89.8L-1.5 89.9L-1.1 90.1L-0.7 90.1L1.8 90.5L2.2 90.5L2.6 90.5L2.9 90.5L3.3 90.4L3.6 90.3L4 90.2L4.3 90L4.6 89.8L4.9 89.6L5.2 89.3L11.4 82.4L11.7 82.1L11.9 81.8L12 81.4L12.2 81.1L12.3 80.8L12.4 80.4L12.4 80L12.4 79.7L12.4 79.3L12.3 78.9L12.2 78.6L12.1 78.2L11.9 77.9L9.5 73.8L9.3 73.5L9.1 73.2L8.9 73L8.6 72.7L8.3 72.5L8 72.4L7.6 72.2L7.3 72.1L7 72L6.6 72L4.4 71.8L4.1 71.7L3.7 71.8L3.3 71.8L3 71.9L2.7 72L2.3 72.1L2 72.3L1.8 72.5L-0.5 74.3L-0.8 74.5L-1.1 74.8L-1.3 75.1L-1.5 75.4L-1.7 75.7L-1.8 76.1L-1.9 76.5L-3.9 85.4L-4 85.8L-4 86.2L-4 86.6L-4 87L-3.9 87.4L-3.7 87.7L-3.6 88.1ZM80.5 4.2L80.7 4.5L80.9 4.8L81.2 5.1L81.5 5.4L81.8 5.6L82.2 5.8L82.5 5.9L82.9 6.1L83.3 6.1L85.8 6.5L86.2 6.5L86.6 6.5L86.9 6.5L87.3 6.4L87.6 6.3L88 6.2L88.3 6L88.6 5.8L88.9 5.6L89.2 5.3L95.4 -1.6L95.7 -1.9L95.9 -2.2L96 -2.6L96.2 -2.9L96.3 -3.2L96.4 -3.6L96.4 -4L96.4 -4.3L96.4 -4.7L96.3 -5.1L96.2 -5.4L96.1 -5.8L95.9 -6.1L93.5 -10.2L93.3 -10.5L93.1 -10.8L92.9 -11L92.6 -11.3L92.3 -11.5L92 -11.6L91.6 -11.8L91.3 -11.9L91 -12L90.6 -12L88.4 -12.2L88.1 -12.3L87.7 -12.2L87.3 -12.2L87 -12.1L86.7 -12L86.3 -11.9L86 -11.7L85.8 -11.5L83.5 -9.7L83.2 -9.5L82.9 -9.2L82.7 -8.9L82.5 -8.6L82.3 -8.3L82.2 -7.9L82.1 -7.5L80.1 1.4L80 1.8L80 2.2L80 2.6L80 3L80.1 3.4L80.3 3.7L80.4 4.1ZM80.5 88.2L80.7 88.5L80.9 88.8L81.2 89.1L81.5 89.4L81.8 89.6L82.2 89.8L82.5 89.9L82.9 90.1L83.3 90.1L85.8 90.5L86.2 90.5L86.6 90.5L86.9 90.5L87.3 90.4L87.6 90.3L88 90.2L88.3 90L88.6 89.8L88.9 89.6L89.2 89.3L95.4 82.4L95.7 82.1L95.9 81.8L96 81.4L96.2 81.1L96.3 80.8L96.4 80.4L96.4 80L96.4 79.7L96.4 79.3L96.3 78.9L96.2 78.6L96.1 78.2L95.9 77.9L93.5 73.8L93.3 73.5L93.1 73.2L92.9 73L92.6 72.7L92.3 72.5L92 72.4L91.6 72.2L91.3 72.1L91 72L90.6 72L88.4 71.8L88.1 71.7L87.7 71.8L87.3 71.8L87 71.9L86.7 72L86.3 72.1L86 72.3L85.8 72.5L83.5 74.3L83.2 74.5L82.9 74.8L82.7 75.1L82.5 75.4L82.3 75.7L82.2 76.1L82.1 76.5L80.1 85.4L80 85.8L80 86.2L80 86.6L80 87L80.1 87.4L80.3 87.7L80.4 88.1ZM63.1 51.4L62.8 51.6L62.4 51.8L62.1 52L61.9 52.3L61.6 52.5L61.4 52.8L61.2 53.1L61.1 53.5L60.9 53.8L60.8 54.2L60.8 54.5L60.8 54.9L60.8 55.3L60.8 55.6L60.9 56L61 56.3L61.2 56.7L61.4 57L61.6 57.3L61.8 57.6L66.1 62.1L66.4 62.3L66.7 62.5L67 62.7L67.3 62.9L67.7 63L68 63.1L68.4 63.2L68.7 63.2L69.1 63.2L69.5 63.2L69.9 63.1L70.2 63L70.5 62.8L70.9 62.7L71.2 62.4L76.8 58.1L77.1 57.9L77.3 57.6L77.6 57.3L77.8 57L77.9 56.6L78.1 56.3L78.2 55.9L78.2 55.5L78.3 55.1L78.2 54.8L78.2 54.4L78.1 54L78 53.7L76.4 49.9L76.3 49.6L76.1 49.3L75.9 49L75.6 48.7L75.3 48.5L75 48.2L74.7 48L74.4 47.9L74 47.8L73.6 47.7L73.3 47.6L72.9 47.6L72.5 47.6L72.2 47.7L71.8 47.8L71.4 47.9ZM4.9 23.8L4.7 24.1L4.5 24.4L4.3 24.7L4.2 25.1L4.1 25.4L4 25.8L4 26.2L4 26.5L4 26.9L4.1 27.3L4.2 27.6L4.4 28L4.6 28.3L7.2 32.5L7.5 32.8L7.7 33.1L8 33.4L8.2 33.6L8.5 33.8L8.9 33.9L9.2 34.1L9.5 34.2L9.9 34.3L10.2 34.3L10.6 34.3L11 34.3L11.3 34.2L11.7 34.1L12 34L16.6 31.9L17 31.7L17.3 31.5L17.5 31.3L17.8 31.1L18.1 30.8L18.3 30.5L18.5 30.2L18.6 29.9L18.7 29.5L19.8 26L19.8 25.6L19.9 25.3L19.9 24.9L19.9 24.5L19.8 24.1L19.7 23.8L19.6 23.4L19.4 23.1L19.2 22.7L16.1 18.2L15.8 17.9L15.6 17.7L15.3 17.4L15 17.2L14.6 17L14.3 16.9L13.9 16.8L13.5 16.7L13.2 16.6L12.8 16.6L12.4 16.7L12 16.7L11.7 16.9L11.3 17L11 17.2L10.7 17.4L10.4 17.6L10.1 17.9ZM10.8 13.4L11 13.6L11.3 13.8L11.7 14L12 14.2L12.4 14.3L12.7 14.4L13.1 14.4L13.5 14.4L13.8 14.4L14.2 14.4L14.6 14.3L14.9 14.1L15.3 14L15.6 13.8L15.9 13.5L16.1 13.3L20.9 8.4L21.1 8.1L21.4 7.8L21.5 7.5L21.7 7.1L21.8 6.8L21.9 6.4L21.9 6L22 5.7L21.9 5.3L21.4 1.4L21.4 1L21.3 0.7L21.1 0.3L21 -0L20.8 -0.3L20.6 -0.6L20.3 -0.9L20 -1.1L19.7 -1.3L19.4 -1.5L19.1 -1.7L18.7 -1.8L16.1 -2.6L15.8 -2.7L15.4 -2.7L15 -2.7L14.6 -2.7L14.2 -2.6L13.8 -2.5L13.5 -2.4L13.1 -2.2L12.8 -2L12.5 -1.7L12.2 -1.5L6.9 4.5L6.6 4.7L6.4 5L6.3 5.4L6.1 5.7L6 6L6 6.4L5.9 6.8L5.9 7.1L5.9 7.5L6 7.8L6.1 8.2L6.2 8.5L6.4 8.9L6.6 9.2L6.8 9.5L7 9.7ZM10.8 97.4L11 97.6L11.3 97.8L11.7 98L12 98.2L12.4 98.3L12.7 98.4L13.1 98.4L13.5 98.4L13.8 98.4L14.2 98.4L14.6 98.3L14.9 98.1L15.3 98L15.6 97.8L15.9 97.5L16.1 97.3L20.9 92.4L21.1 92.1L21.4 91.8L21.5 91.5L21.7 91.1L21.8 90.8L21.9 90.4L21.9 90L22 89.7L21.9 89.3L21.4 85.4L21.4 85L21.3 84.7L21.1 84.3L21 84L20.8 83.7L20.6 83.4L20.3 83.1L20 82.9L19.7 82.7L19.4 82.5L19.1 82.3L18.7 82.2L16.1 81.4L15.8 81.3L15.4 81.3L15 81.3L14.6 81.3L14.2 81.4L13.8 81.5L13.5 81.6L13.1 81.8L12.8 82L12.5 82.3L12.2 82.5L6.9 88.5L6.6 88.7L6.4 89L6.3 89.4L6.1 89.7L6 90L6 90.4L5.9 90.8L5.9 91.1L5.9 91.5L6 91.8L6.1 92.2L6.2 92.5L6.4 92.9L6.6 93.2L6.8 93.5L7 93.7ZM25.1 47L25.1 47.3L25.1 47.7L25.2 48.1L25.3 48.4L25.4 48.8L25.6 49.1L25.8 49.4L26.1 49.9L26.4 50.2L26.6 50.5L26.9 50.7L27.2 50.9L27.5 51.1L27.9 51.3L28.2 51.4L28.6 51.5L28.6 51.5L29 51.5L29.4 51.5L29.8 51.5L30.1 51.4L30.5 51.3L30.9 51.1L31.2 50.9L31.5 50.7L31.8 50.5L37 45.6L37.2 45.4L37.4 45.1L37.6 44.7L37.8 44.4L37.9 44.1L38 43.7L38.1 43.4L38.1 43L38.1 42.6L38.1 42.2L38 41.9L37.9 41.5L36.6 38L36.4 37.6L36.3 37.3L36 37L35.8 36.7L35.5 36.5L35.3 36.2L35 36L34.6 35.9L34.3 35.7L33.9 35.6L33.6 35.5L33.2 35.5L32.8 35.5L32.5 35.5L32.1 35.6L31.8 35.7L28 37L27.7 37.2L27.3 37.3L27 37.5L26.7 37.8L26.5 38L26.2 38.3L26 38.6L25.8 38.9L25.7 39.3L25.6 39.6L25.5 40L25.5 40.4ZM31.5 53.7L31.2 53.4L30.9 53.2L30.6 52.9L30.3 52.8L29.9 52.6L29.6 52.5L29.2 52.4L28.8 52.4L28.4 52.4L28.1 52.4L27.7 52.5L27.3 52.6L27 52.7L26.6 52.9L26.3 53.1L26 53.4L25.8 53.6L25.5 53.9L20.9 60.3L20.7 60.6L20.5 60.9L20.3 61.2L20.2 61.6L20.2 62L20.1 62.3L20.1 62.7L20.2 63.1L20.2 63.4L20.3 63.8L20.5 64.1L20.7 64.5L20.9 64.8L21.1 65.1L21.4 65.3L25.2 68.8L25.5 69L25.8 69.2L26.1 69.4L26.4 69.6L26.8 69.7L27.1 69.7L27.5 69.8L27.9 69.8L28.2 69.8L28.6 69.7L29 69.6L29.3 69.5L34.7 67.1L35 66.9L35.3 66.7L35.6 66.4L35.9 66.2L36.2 65.9L36.4 65.6L36.6 65.2L36.7 64.9L36.8 64.5L37.3 62.8L37.3 62.5L37.4 62.1L37.4 61.7L37.3 61.4L37.3 61L37.2 60.7L37 60.3L36.9 60L36.7 59.7L36.4 59.4ZM14.1 46.9L13.7 46.9L13.3 46.8L13 46.9L12.6 46.9L12.2 47L11.8 47.2L11.5 47.4L11.2 47.6L10.9 47.8L10.6 48.1L10.4 48.4L10.2 48.7L10 49.1L9.8 49.4L9.1 51.7L9 52.1L8.9 52.5L8.9 52.8L8.9 53.2L8.9 53.6L9 53.9L9.1 54.3L9.3 54.6L9.4 55L9.7 55.3L9.9 55.6L14.4 60.3L14.7 60.6L15 60.8L15.3 61L15.6 61.2L15.9 61.3L16.3 61.4L16.7 61.5L17 61.5L17.4 61.5L17.8 61.5L18.1 61.4L18.5 61.3L18.8 61.1L19.1 60.9L19.5 60.7L19.7 60.5L20 60.2L20.2 60L24.4 54.3L24.6 54L24.8 53.7L24.9 53.3L25 53L25.1 52.6L25.1 52.3L25.1 51.9L25.1 51.5L25 51.2L24.9 50.8L24.8 50.5L24.6 50.1L24.4 49.8L24.2 49.5L23.9 49.3L23.6 49L23.3 48.8L23 48.7L22.7 48.5L22.3 48.4L22 48.3ZM64.1 34.2L64.4 33.9L64.6 33.7L64.8 33.4L65 33L65.2 32.7L65.3 32.4L65.4 32L65.4 31.6L65.4 31.3L65.4 30.9L65.3 30.5L65.2 30.2L65.1 29.9L64.9 29.5L64.7 29.2L64.5 28.9L64.3 28.7L64 28.4L63.7 28.2L63.4 28L63.1 27.9L59.8 26.5L59.4 26.4L59.1 26.3L58.7 26.2L58.3 26.2L57.9 26.2L57.5 26.3L57.2 26.4L56.8 26.5L51.1 29.1L50.8 29.2L50.5 29.4L50.2 29.7L49.9 29.9L49.7 30.2L49.5 30.5L49.3 30.8L49.1 31.2L49 31.5L48.9 31.9L48.9 32.3L48.9 32.6L48.9 33L49 33.4L49.1 33.7L50.5 38.1L50.7 38.4L50.8 38.8L51 39.1L51.3 39.4L51.5 39.7L51.8 39.9L52.1 40.1L52.4 40.3L52.8 40.5L53.1 40.6L53.5 40.7L54.6 40.8L55 40.9L55.4 40.9L55.7 40.8L56.1 40.8L56.5 40.7L56.8 40.5L57.1 40.4L57.5 40.2L57.8 39.9ZM8.5 37.8L8.4 38.2L8.3 38.5L8.3 38.9L8.2 39.3L8.3 39.7L8.4 40L8.5 40.4L8.6 40.7L10.1 43.8L10.2 44.2L10.4 44.5L10.6 44.7L10.9 45L11.2 45.2L11.5 45.4L11.8 45.6L12.1 45.8L12.5 45.9L12.8 46L20.1 47.3L20.5 47.3L20.8 47.3L21.2 47.3L21.6 47.2L22 47.1L22.3 47L22.6 46.8L23 46.6L23.3 46.4L23.5 46.1L23.8 45.8L24 45.5L24.2 45.2L24.3 44.9L24.4 44.5L24.5 44.1L24.6 43.8L24.8 39.6L24.8 39.2L24.8 38.8L24.7 38.4L24.6 38.1L24.5 37.7L24.3 37.4L24.1 37.1L23.8 36.8L23.6 36.5L20.3 33.5L20 33.3L19.7 33.1L19.4 32.9L19 32.8L18.7 32.7L18.3 32.6L18 32.5L17.6 32.5L17.2 32.6L16.9 32.6L16.5 32.7L16.2 32.9L10.6 35.4L10.3 35.5L10 35.7L9.7 36L9.4 36.2L9.1 36.5L8.9 36.8L8.7 37.2L8.6 37.5ZM60.6 9.5L60.3 9.3L60 9.2L59.7 9L59.3 8.9L59 8.8L58.6 8.8L58.2 8.8L57.9 8.8L57.5 8.9L57.2 8.9L56.8 9.1L56.2 9.3L55.9 9.5L55.6 9.7L55.3 9.9L55 10.2L54.8 10.4L54.5 10.7L54.3 11L54.2 11.4L54.1 11.7L54 12.1L53.9 12.4L53.9 12.8L53.9 13.2L54 13.5L54 13.9L54.2 14.2L58 23.8L58.1 24.1L58.3 24.4L58.5 24.7L58.8 25L59.1 25.3L59.4 25.5L59.7 25.7L60 25.9L60.9 26.2L61.2 26.3L61.6 26.4L62 26.5L62.3 26.5L62.7 26.5L63.1 26.4L63.4 26.3L63.8 26.2L64.1 26.1L64.4 25.9L64.7 25.7L65 25.4L65.3 25.1L65.5 24.9L65.7 24.5L65.8 24.2L68.1 18.9L68.3 18.5L68.4 18.2L68.4 17.8L68.5 17.5L68.5 17.1L68.4 16.8L68.3 16.4L68.2 16.1L68.1 15.7L67.9 15.4L67.7 15.1L67.5 14.8L67.2 14.6L67 14.3ZM-13 63.5L-13.3 63.7L-13.6 64L-13.8 64.3L-14 64.6L-14.2 64.9L-14.3 65.3L-14.4 65.7L-14.5 66L-14.5 66.4L-14.5 66.8L-14.5 67.1L-14.4 67.5L-14.3 67.9L-14.1 68.2L-13.9 68.5L-13.7 68.8L-13.5 69.1L-13.2 69.4L-12.9 69.6L-12.6 69.8L-12.2 70L-4 73.6L-3.7 73.7L-3.4 73.8L-3 73.9L-2.6 73.9L-2.3 73.9L-1.9 73.9L-1.5 73.8L-1.2 73.7L-0.8 73.5L-0.5 73.3L-0.2 73.1L0.2 72.8L0.5 72.6L0.7 72.3L1 72L1.2 71.7L1.4 71.4L1.5 71.1L1.6 70.7L1.7 70.3L1.7 70L1.7 69.6L1.7 69.2L1.6 68.9L1.5 68.5L-1.3 60.7L-1.4 60.4L-1.6 60L-1.8 59.7L-2 59.4L-2.3 59.1L-2.6 58.9L-2.9 58.7L-3.2 58.5L-3.6 58.4L-3.9 58.3L-4.3 58.2L-4.7 58.2L-5.1 58.2L-5.4 58.2L-5.8 58.3L-6.2 58.4L-6.5 58.6L-6.9 58.7L-7.2 59ZM71 63.5L70.7 63.7L70.4 64L70.2 64.3L70 64.6L69.8 64.9L69.7 65.3L69.6 65.7L69.5 66L69.5 66.4L69.5 66.8L69.5 67.1L69.6 67.5L69.7 67.9L69.9 68.2L70.1 68.5L70.3 68.8L70.5 69.1L70.8 69.4L71.1 69.6L71.4 69.8L71.8 70L80 73.6L80.3 73.7L80.6 73.8L81 73.9L81.4 73.9L81.7 73.9L82.1 73.9L82.5 73.8L82.8 73.7L83.2 73.5L83.5 73.3L83.8 73.1L84.2 72.8L84.5 72.6L84.7 72.3L85 72L85.2 71.7L85.4 71.4L85.5 71.1L85.6 70.7L85.7 70.3L85.7 70L85.7 69.6L85.7 69.2L85.6 68.9L85.5 68.5L82.7 60.7L82.6 60.4L82.4 60L82.2 59.7L82 59.4L81.7 59.1L81.4 58.9L81.1 58.7L80.8 58.5L80.4 58.4L80.1 58.3L79.7 58.2L79.3 58.2L78.9 58.2L78.6 58.2L78.2 58.3L77.8 58.4L77.5 58.6L77.1 58.7L76.8 59Z" fill="#777" stroke="#000" stroke-width="1.5" stroke-linejoin="round"/><path d="M-280 168L-28 -84M-266 168L-14 -84M-252 168L0 -84M-238 168L14 -84M-224 168L28 -84M-210 168L42 -84M-196 168L56 -84M-182 168L70 -84M-168 168L84 -84M-154 168L98 -84M-140 168L112 -84M-126 168L126 -84M-112 168L140 -84M-98 168L154 -84M-84 168L168 -84M-70 168L182 -84M-56 168L196 -84M-42 168L210 -84M-28 168L224 -84M-14 168L238 -84M0 168L252 -84M14 168L266 -84M28 168L280 -84M42 168L294 -84M56 168L308 -84M70 168L322 -84M84 168L336 -84M98 168L350 -84M112 168L364 -84" stroke="#000" stroke-width="0.9" opacity="0.9" fill="none"/></pattern><pattern id="pcw" width="90" height="90" patternUnits="userSpaceOnUse"><rect width="90" height="90" fill="#fff"/><path d="M-6.3 37.5L-6.4 37.5L-6.5 37.5L-6.6 37.6L-6.7 37.6L-6.7 37.7L-6.8 37.7L-6.9 37.8L-6.9 37.9L-7 37.9L-7 38L-11.1 46.8L-11.1 46.9L-11.2 47L-11.2 47.1L-11.2 47.2L-11.2 47.3L-11.2 47.4L-11.2 47.5L-11.1 47.6L-11.1 47.7L-11 47.8L-11 47.9L-10.9 47.9L-10.8 48L-10.8 48.1L5.9 59.4L6 59.5L6 59.5L6.1 59.5L6.2 59.6L6.3 59.6L6.4 59.6L6.5 59.6L6.6 59.6L6.7 59.5L6.8 59.5L6.9 59.5L7 59.4L7.1 59.4L7.1 59.3L7.2 59.2L16.3 48.6L16.4 48.5L16.5 48.4L16.5 48.3L16.5 48.3L16.6 48.2L16.6 48L16.6 47.9L16.6 47.8L15.3 36.9L15.3 36.8L15.3 36.7L15.2 36.6L15.2 36.5L15.1 36.4L15.1 36.3L15 36.3L14.9 36.2L14.8 36.1L14.8 36.1L10.9 34.3L10.8 34.3L10.7 34.3L10.6 34.2L10.5 34.2L10.4 34.2L10.3 34.2ZM83.7 37.5L83.6 37.5L83.5 37.5L83.4 37.6L83.3 37.6L83.3 37.7L83.2 37.7L83.1 37.8L83.1 37.9L83 37.9L83 38L78.9 46.8L78.9 46.9L78.8 47L78.8 47.1L78.8 47.2L78.8 47.3L78.8 47.4L78.8 47.5L78.9 47.6L78.9 47.7L79 47.8L79 47.9L79.1 47.9L79.2 48L79.2 48.1L95.9 59.4L96 59.5L96 59.5L96.1 59.5L96.2 59.6L96.3 59.6L96.4 59.6L96.5 59.6L96.6 59.6L96.7 59.5L96.8 59.5L96.9 59.5L97 59.4L97.1 59.4L97.1 59.3L97.2 59.2L106.3 48.6L106.4 48.5L106.5 48.4L106.5 48.3L106.5 48.3L106.6 48.2L106.6 48L106.6 47.9L106.6 47.8L105.3 36.9L105.3 36.8L105.3 36.7L105.2 36.6L105.2 36.5L105.1 36.4L105.1 36.3L105 36.3L104.9 36.2L104.8 36.1L104.8 36.1L100.9 34.3L100.8 34.3L100.7 34.3L100.6 34.2L100.5 34.2L100.4 34.2L100.3 34.2ZM40.5 2.9L40.4 2.9L40.3 2.9L40.2 2.9L40.1 2.9L40 2.9L39.9 3L39.9 3L39.8 3.1L39.7 3.1L39.6 3.2L39.6 3.3L39.5 3.3L33.9 12.9L33.9 13L33.8 13L33.8 13.1L33.8 13.2L33.8 13.3L33.8 13.4L33.8 13.5L33.8 13.6L33.8 13.7L33.9 13.8L33.9 13.9L34 14L34 14.1L34.1 14.1L44.1 23.2L44.2 23.2L44.3 23.3L44.4 23.3L44.5 23.4L44.6 23.4L44.7 23.4L44.8 23.4L44.9 23.4L45 23.4L56.5 21.5L56.6 21.5L56.7 21.5L56.8 21.4L56.9 21.4L57 21.3L57.1 21.3L57.1 21.2L57.2 21.1L57.2 21L57.3 20.9L57.3 20.8L57.3 20.7L57.4 20.6L58.7 6.3L58.7 6.2L58.7 6.1L58.7 6L58.7 5.9L58.7 5.8L58.6 5.7L58.6 5.6L58.5 5.6L58.5 5.5L58.4 5.4L58.3 5.4L58.2 5.3L58.2 5.3L58.1 5.2L58 5.2L57.9 5.2ZM24.6 15.6L24.7 15.5L24.7 15.4L24.7 15.3L24.7 15.2L24.6 15.1L24.6 15L24.6 14.9L24.5 14.8L24.4 14.7L24.4 14.7L14.4 4.7L14.3 4.6L14.3 4.5L14.2 4.5L14.1 4.4L14 4.4L13.9 4.4L13.8 4.4L11.6 4.2L11.5 4.2L11.4 4.2L11.3 4.2L11.2 4.3L11.2 4.3L11.1 4.3L11 4.4L10.9 4.4L10.8 4.5L1.3 14.7L1.2 14.8L1.1 14.8L1.1 14.9L1.1 15L1 15.1L1 15.2L1 15.3L1 15.4L1 15.5L1 15.6L1 15.7L1.1 15.8L1.1 15.8L10.5 33.9L10.5 34L10.6 34L10.7 34.1L10.7 34.2L10.8 34.2L10.9 34.3L11 34.3L14.7 36.1L14.8 36.1L14.9 36.1L15 36.1L15.1 36.2L15.1 36.2L15.2 36.1L15.3 36.1L15.4 36.1L15.5 36.1L15.6 36L15.7 36L15.8 35.9L20.3 32.1L20.4 32.1L20.4 32L20.5 31.9L20.5 31.8L20.6 31.7L20.6 31.6ZM30.2 -12.1L30.3 -12.2L30.3 -12.3L30.4 -12.3L30.4 -12.4L30.4 -12.5L30.5 -12.6L30.5 -12.7L30.5 -12.8L30.5 -12.9L30.5 -13L30.4 -13.1L30.4 -13.2L30.4 -13.3L30.3 -13.4L30.3 -13.4L30.2 -13.5L30.1 -13.6L30.1 -13.6L30 -13.7L29.9 -13.7L6.7 -24.1L6.6 -24.1L6.5 -24.1L6.4 -24.1L6.3 -24.1L6.2 -24.1L6.1 -24.1L6 -24.1L5.9 -24.1L5.8 -24L5.7 -24L5.7 -23.9L5.6 -23.8L5.5 -23.8L-1.8 -14.5L-1.8 -14.4L-1.9 -14.3L-1.9 -14.2L-2 -14.1L-2 -14L-2 -13.9L-2 -13.8L-2 -13.7L-2 -13.6L-1.9 -13.5L-1.9 -13.5L-1.9 -13.4L-1.8 -13.3L10.9 3.8L10.9 3.9L11 3.9L11.1 4L11.2 4.1L11.2 4.1L11.3 4.1L11.4 4.2L11.5 4.2L11.6 4.2L13.7 4.4L13.8 4.4L13.9 4.3L14 4.3L14.1 4.3L14.2 4.3L14.2 4.2L14.3 4.2L14.4 4.1L14.5 4.1ZM30.2 77.9L30.3 77.8L30.3 77.7L30.4 77.7L30.4 77.6L30.4 77.5L30.5 77.4L30.5 77.3L30.5 77.2L30.5 77.1L30.5 77L30.4 76.9L30.4 76.8L30.4 76.7L30.3 76.6L30.3 76.6L30.2 76.5L30.1 76.4L30.1 76.4L30 76.3L29.9 76.3L6.7 65.9L6.6 65.9L6.5 65.9L6.4 65.9L6.3 65.9L6.2 65.9L6.1 65.9L6 65.9L5.9 65.9L5.8 66L5.7 66L5.7 66.1L5.6 66.2L5.5 66.2L-1.8 75.5L-1.8 75.6L-1.9 75.7L-1.9 75.8L-2 75.9L-2 76L-2 76.1L-2 76.2L-2 76.3L-2 76.4L-1.9 76.5L-1.9 76.5L-1.9 76.6L-1.8 76.7L10.9 93.8L10.9 93.9L11 93.9L11.1 94L11.2 94.1L11.2 94.1L11.3 94.1L11.4 94.2L11.5 94.2L11.6 94.2L13.7 94.4L13.8 94.4L13.9 94.3L14 94.3L14.1 94.3L14.2 94.3L14.2 94.2L14.3 94.2L14.4 94.1L14.5 94.1ZM120.2 -12.1L120.3 -12.2L120.3 -12.3L120.4 -12.3L120.4 -12.4L120.4 -12.5L120.5 -12.6L120.5 -12.7L120.5 -12.8L120.5 -12.9L120.5 -13L120.4 -13.1L120.4 -13.2L120.4 -13.3L120.3 -13.4L120.3 -13.4L120.2 -13.5L120.1 -13.6L120.1 -13.6L120 -13.7L119.9 -13.7L96.7 -24.1L96.6 -24.1L96.5 -24.1L96.4 -24.1L96.3 -24.1L96.2 -24.1L96.1 -24.1L96 -24.1L95.9 -24.1L95.8 -24L95.7 -24L95.7 -23.9L95.6 -23.8L95.5 -23.8L88.2 -14.5L88.2 -14.4L88.1 -14.3L88.1 -14.2L88 -14.1L88 -14L88 -13.9L88 -13.8L88 -13.7L88 -13.6L88.1 -13.5L88.1 -13.5L88.1 -13.4L88.2 -13.3L100.9 3.8L100.9 3.9L101 3.9L101.1 4L101.2 4.1L101.2 4.1L101.3 4.1L101.4 4.2L101.5 4.2L101.6 4.2L103.7 4.4L103.8 4.4L103.9 4.3L104 4.3L104.1 4.3L104.2 4.3L104.2 4.2L104.3 4.2L104.4 4.1L104.5 4.1ZM120.2 77.9L120.3 77.8L120.3 77.7L120.4 77.7L120.4 77.6L120.4 77.5L120.5 77.4L120.5 77.3L120.5 77.2L120.5 77.1L120.5 77L120.4 76.9L120.4 76.8L120.4 76.7L120.3 76.6L120.3 76.6L120.2 76.5L120.1 76.4L120.1 76.4L120 76.3L119.9 76.3L96.7 65.9L96.6 65.9L96.5 65.9L96.4 65.9L96.3 65.9L96.2 65.9L96.1 65.9L96 65.9L95.9 65.9L95.8 66L95.7 66L95.7 66.1L95.6 66.2L95.5 66.2L88.2 75.5L88.2 75.6L88.1 75.7L88.1 75.8L88 75.9L88 76L88 76.1L88 76.2L88 76.3L88 76.4L88.1 76.5L88.1 76.5L88.1 76.6L88.2 76.7L100.9 93.8L100.9 93.9L101 93.9L101.1 94L101.2 94.1L101.2 94.1L101.3 94.1L101.4 94.2L101.5 94.2L101.6 94.2L103.7 94.4L103.8 94.4L103.9 94.3L104 94.3L104.1 94.3L104.2 94.3L104.2 94.2L104.3 94.2L104.4 94.1L104.5 94.1ZM0.4 15.2L0.5 15.2L0.6 15.2L0.7 15.2L0.8 15.1L0.9 15.1L1 15L1 14.9L10.6 4.8L10.6 4.7L10.7 4.6L10.8 4.5L10.8 4.4L10.8 4.3L10.8 4.3L10.9 4.2L10.9 4.1L10.8 4L10.8 3.9L10.8 3.8L10.8 3.7L10.7 3.6L10.7 3.5L-1.9 -13.4L-2 -13.5L-2 -13.6L-2.1 -13.6L-2.2 -13.7L-2.3 -13.7L-2.4 -13.8L-2.5 -13.8L-2.5 -13.8L-2.6 -13.8L-2.7 -13.8L-2.8 -13.8L-7.7 -13.1L-7.8 -13.1L-7.9 -13.1L-8 -13L-8 -13L-8.1 -12.9L-8.2 -12.9L-8.3 -12.8L-8.3 -12.7L-8.4 -12.7L-17.1 0.9L-17.1 1L-17.2 1L-17.2 1.1L-17.2 1.2L-17.2 1.3L-17.2 1.4L-17.2 1.5L-17.2 1.6L-17.2 1.7L-17.2 1.8L-17.1 1.9L-17.1 2L-17 2L-6.5 15.4L-6.4 15.4L-6.3 15.5L-6.3 15.6L-6.2 15.6L-6.1 15.6L-6 15.7L-5.9 15.7L-5.8 15.7L-5.7 15.7L-5.6 15.7ZM0.4 105.2L0.5 105.2L0.6 105.2L0.7 105.2L0.8 105.1L0.9 105.1L1 105L1 104.9L10.6 94.8L10.6 94.7L10.7 94.6L10.8 94.5L10.8 94.4L10.8 94.3L10.8 94.3L10.9 94.2L10.9 94.1L10.8 94L10.8 93.9L10.8 93.8L10.8 93.7L10.7 93.6L10.7 93.5L-1.9 76.6L-2 76.5L-2 76.4L-2.1 76.4L-2.2 76.3L-2.3 76.3L-2.4 76.2L-2.5 76.2L-2.5 76.2L-2.6 76.2L-2.7 76.2L-2.8 76.2L-7.7 76.9L-7.8 76.9L-7.9 76.9L-8 77L-8 77L-8.1 77.1L-8.2 77.1L-8.3 77.2L-8.3 77.3L-8.4 77.3L-17.1 90.9L-17.1 91L-17.2 91L-17.2 91.1L-17.2 91.2L-17.2 91.3L-17.2 91.4L-17.2 91.5L-17.2 91.6L-17.2 91.7L-17.2 91.8L-17.1 91.9L-17.1 92L-17 92L-6.5 105.4L-6.4 105.4L-6.3 105.5L-6.3 105.6L-6.2 105.6L-6.1 105.6L-6 105.7L-5.9 105.7L-5.8 105.7L-5.7 105.7L-5.6 105.7ZM90.4 15.2L90.5 15.2L90.6 15.2L90.7 15.2L90.8 15.1L90.9 15.1L91 15L91 14.9L100.6 4.8L100.6 4.7L100.7 4.6L100.8 4.5L100.8 4.4L100.8 4.3L100.8 4.3L100.9 4.2L100.9 4.1L100.8 4L100.8 3.9L100.8 3.8L100.8 3.7L100.7 3.6L100.7 3.5L88.1 -13.4L88 -13.5L88 -13.6L87.9 -13.6L87.8 -13.7L87.7 -13.7L87.6 -13.8L87.5 -13.8L87.5 -13.8L87.4 -13.8L87.3 -13.8L87.2 -13.8L82.3 -13.1L82.2 -13.1L82.1 -13.1L82 -13L82 -13L81.9 -12.9L81.8 -12.9L81.7 -12.8L81.7 -12.7L81.6 -12.7L72.9 0.9L72.9 1L72.8 1L72.8 1.1L72.8 1.2L72.8 1.3L72.8 1.4L72.8 1.5L72.8 1.6L72.8 1.7L72.8 1.8L72.9 1.9L72.9 2L73 2L83.5 15.4L83.6 15.4L83.7 15.5L83.7 15.6L83.8 15.6L83.9 15.6L84 15.7L84.1 15.7L84.2 15.7L84.3 15.7L84.4 15.7ZM90.4 105.2L90.5 105.2L90.6 105.2L90.7 105.2L90.8 105.1L90.9 105.1L91 105L91 104.9L100.6 94.8L100.6 94.7L100.7 94.6L100.8 94.5L100.8 94.4L100.8 94.3L100.8 94.3L100.9 94.2L100.9 94.1L100.8 94L100.8 93.9L100.8 93.8L100.8 93.7L100.7 93.6L100.7 93.5L88.1 76.6L88 76.5L88 76.4L87.9 76.4L87.8 76.3L87.7 76.3L87.6 76.2L87.5 76.2L87.5 76.2L87.4 76.2L87.3 76.2L87.2 76.2L82.3 76.9L82.2 76.9L82.1 76.9L82 77L82 77L81.9 77.1L81.8 77.1L81.7 77.2L81.7 77.3L81.6 77.3L72.9 90.9L72.9 91L72.8 91L72.8 91.1L72.8 91.2L72.8 91.3L72.8 91.4L72.8 91.5L72.8 91.6L72.8 91.7L72.8 91.8L72.9 91.9L72.9 92L73 92L83.5 105.4L83.6 105.4L83.7 105.5L83.7 105.6L83.8 105.6L83.9 105.6L84 105.7L84.1 105.7L84.2 105.7L84.3 105.7L84.4 105.7ZM74.8 49.6L74.8 49.5L74.9 49.4L74.9 49.3L74.9 49.2L74.9 49.1L74.9 49L74.9 48.9L74.8 48.9L74.8 48.8L74.8 48.7L74.7 48.6L74.6 48.5L74.6 48.5L74.5 48.4L74.4 48.3L60.6 39.6L60.5 39.5L60.4 39.5L60.3 39.5L60.2 39.4L60.1 39.4L60 39.4L59.9 39.4L59.8 39.5L59.7 39.5L59.6 39.5L59.5 39.6L59.5 39.6L59.4 39.7L49.5 48.1L49.4 48.2L49.3 48.2L49.3 48.3L49.2 48.4L49.2 48.5L49.2 48.6L49.1 48.7L49.1 48.8L49.1 48.9L49.1 49L49.1 49.1L49.2 49.2L49.2 49.3L49.3 49.3L49.3 49.4L49.4 49.5L63.2 65.7L63.3 65.7L63.3 65.8L63.4 65.8L63.5 65.9L63.6 65.9L63.7 66L63.8 66L63.9 66L64 66L64 66L66.6 65.8L66.7 65.8L66.8 65.8L66.9 65.7L66.9 65.7L67 65.7L67.1 65.6L67.2 65.5L67.2 65.5L67.3 65.4L67.4 65.3L67.4 65.2ZM5.8 65.9L5.9 65.8L5.9 65.7L6 65.6L6 65.5L6 65.4L6 65.3L6.5 60.5L6.6 60.4L6.5 60.3L6.5 60.2L6.5 60.1L6.5 60L6.4 59.9L6.4 59.8L6.3 59.8L6.3 59.7L6.2 59.6L6.1 59.6L-11 47.9L-11.1 47.8L-11.2 47.8L-11.3 47.8L-11.4 47.7L-11.5 47.7L-11.6 47.7L-11.7 47.7L-11.8 47.7L-11.9 47.7L-11.9 47.8L-14.4 48.7L-14.5 48.7L-14.6 48.8L-14.7 48.8L-14.8 48.9L-14.8 48.9L-14.9 49L-15 49.1L-15 49.2L-22.5 65L-22.5 65.1L-22.6 65.2L-22.6 65.3L-22.6 65.4L-22.6 65.5L-22.6 65.6L-22.6 65.7L-22.5 65.8L-22.5 65.9L-22.5 66L-22.4 66L-22.3 66.1L-22.3 66.2L-22.2 66.2L-8.5 76.7L-8.4 76.7L-8.3 76.8L-8.2 76.8L-8.1 76.9L-8 76.9L-7.9 76.9L-7.8 76.9L-7.7 76.9L-2.6 76.2L-2.6 76.1L-2.5 76.1L-2.4 76.1L-2.3 76L-2.2 76L-2.1 75.9L-2.1 75.9L-2 75.8ZM95.8 65.9L95.9 65.8L95.9 65.7L96 65.6L96 65.5L96 65.4L96 65.3L96.5 60.5L96.6 60.4L96.5 60.3L96.5 60.2L96.5 60.1L96.5 60L96.4 59.9L96.4 59.8L96.3 59.8L96.3 59.7L96.2 59.6L96.1 59.6L79 47.9L78.9 47.8L78.8 47.8L78.7 47.8L78.6 47.7L78.5 47.7L78.4 47.7L78.3 47.7L78.2 47.7L78.1 47.7L78.1 47.8L75.6 48.7L75.5 48.7L75.4 48.8L75.3 48.8L75.2 48.9L75.2 48.9L75.1 49L75 49.1L75 49.2L67.5 65L67.5 65.1L67.4 65.2L67.4 65.3L67.4 65.4L67.4 65.5L67.4 65.6L67.4 65.7L67.5 65.8L67.5 65.9L67.5 66L67.6 66L67.7 66.1L67.7 66.2L67.8 66.2L81.5 76.7L81.6 76.7L81.7 76.8L81.8 76.8L81.9 76.9L82 76.9L82.1 76.9L82.2 76.9L82.3 76.9L87.4 76.2L87.4 76.1L87.5 76.1L87.6 76.1L87.7 76L87.8 76L87.9 75.9L87.9 75.9L88 75.8ZM35.7 71.9L35.7 72L35.7 72.1L35.7 72.2L35.8 72.3L35.8 72.4L35.9 72.5L35.9 72.5L36 72.6L36.1 72.7L36.1 72.7L36.2 72.8L36.3 72.8L36.4 72.9L36.5 72.9L36.6 72.9L53.6 74.8L53.7 74.8L53.8 74.8L53.9 74.8L54 74.7L54.1 74.7L54.2 74.7L54.3 74.6L54.3 74.6L54.4 74.5L62.8 66.7L62.9 66.6L63 66.6L63 66.5L63.1 66.4L63.1 66.3L63.1 66.2L63.1 66.1L63.2 66L63.2 65.9L63.1 65.8L63.1 65.7L63.1 65.6L63.1 65.6L63 65.5L63 65.4L62.9 65.3L49 49.1L49 49L48.9 49L48.8 48.9L48.7 48.9L48.6 48.8L48.5 48.8L48.4 48.8L48.3 48.8L48.2 48.8L44.8 48.9L44.7 48.9L44.7 48.9L44.6 48.9L44.5 49L44.4 49L44.3 49.1L44.2 49.1L36 56.1L35.9 56.1L35.9 56.2L35.8 56.3L35.8 56.4L35.7 56.5L35.7 56.5L35.7 56.6L35.6 56.7L35.6 56.8ZM32.8 -13.9L32.8 -13.9L32.7 -13.8L32.7 -13.7L32.6 -13.6L32.6 -13.5L32.6 -13.4L32.6 -13.3L32.6 -13.2L32.6 -13.1L32.6 -13L32.6 -12.9L32.7 -12.9L39.6 2.3L39.7 2.4L39.7 2.4L39.8 2.5L39.9 2.6L39.9 2.7L40 2.7L40.1 2.8L40.2 2.8L40.3 2.8L40.4 2.9L57.8 5.2L57.9 5.2L58 5.2L58.1 5.2L58.2 5.2L58.3 5.1L58.4 5.1L58.5 5.1L58.5 5L58.6 4.9L58.7 4.9L58.7 4.8L58.8 4.7L58.8 4.6L58.9 4.5L58.9 4.4L58.9 4.3L58.9 4.2L58.9 4.1L58.9 4.1L58.9 4L54.2 -14.5L54.2 -14.6L54.2 -14.7L54.1 -14.8L54.1 -14.9L54 -15L53.9 -15L53.9 -15.1L53.8 -15.1L53.7 -15.2L53.6 -15.2L53.5 -15.2L53.4 -15.3L36.2 -17.1L36.1 -17.2L36 -17.2L35.9 -17.1L35.8 -17.1L35.8 -17.1L35.7 -17L35.6 -17L35.5 -16.9L35.4 -16.9L35.4 -16.8ZM32.8 76.1L32.8 76.1L32.7 76.2L32.7 76.3L32.6 76.4L32.6 76.5L32.6 76.6L32.6 76.7L32.6 76.8L32.6 76.9L32.6 77L32.6 77.1L32.7 77.1L39.6 92.3L39.7 92.4L39.7 92.4L39.8 92.5L39.9 92.6L39.9 92.7L40 92.7L40.1 92.8L40.2 92.8L40.3 92.8L40.4 92.9L57.8 95.2L57.9 95.2L58 95.2L58.1 95.2L58.2 95.2L58.3 95.1L58.4 95.1L58.5 95.1L58.5 95L58.6 94.9L58.7 94.9L58.7 94.8L58.8 94.7L58.8 94.6L58.9 94.5L58.9 94.4L58.9 94.3L58.9 94.2L58.9 94.1L58.9 94.1L58.9 94L54.2 75.5L54.2 75.4L54.2 75.3L54.1 75.2L54.1 75.1L54 75L53.9 75L53.9 74.9L53.8 74.9L53.7 74.8L53.6 74.8L53.5 74.8L53.4 74.7L36.2 72.9L36.1 72.8L36 72.8L35.9 72.9L35.8 72.9L35.8 72.9L35.7 73L35.6 73L35.5 73.1L35.4 73.1L35.4 73.2ZM35.1 56.1L35.2 56.2L35.3 56.2L35.4 56.2L35.5 56.2L35.6 56.2L35.7 56.2L35.8 56.2L35.8 56.1L35.9 56.1L36 56L36.1 56L43.9 49.4L44 49.3L44.1 49.2L44.1 49.2L44.2 49.1L44.2 49L44.2 48.9L44.3 48.8L44.3 48.7L44.3 48.6L44.3 48.5L44.3 48.4L44.2 48.3L44.2 48.2L38.2 34.4L38.1 34.4L38.1 34.3L38 34.2L38 34.1L37.9 34.1L37.8 34L37.7 34L37.6 33.9L37.6 33.9L37.5 33.9L37.4 33.8L21 32L20.9 32L20.8 32L20.7 32L20.6 32L20.5 32L20.4 32.1L20.3 32.1L20.2 32.2L15.7 36L15.6 36L15.5 36.1L15.5 36.2L15.4 36.3L15.4 36.4L15.4 36.5L15.3 36.6L15.3 36.7L15.3 36.8L15.3 36.9L16.6 47.7L16.6 47.8L16.6 47.9L16.6 48L16.7 48.1L16.7 48.1L16.8 48.2L16.8 48.3L16.9 48.4L17 48.4L17.1 48.5L17.2 48.5ZM59.5 4.8L59.4 4.9L59.4 4.9L59.3 4.9L59.2 5L59.1 5.1L59 5.1L59 5.2L58.9 5.3L58.9 5.4L58.8 5.5L58.8 5.6L58.8 5.7L57.3 21L57.3 21.1L57.3 21.2L57.3 21.3L57.4 21.4L57.4 21.5L57.4 21.6L57.5 21.6L57.6 21.7L60.9 25.7L61 25.7L61 25.8L61.1 25.9L61.2 25.9L61.3 25.9L61.4 26L61.5 26L61.6 26L61.7 26L75.6 25.5L75.7 25.4L75.8 25.4L75.9 25.4L75.9 25.4L76 25.3L76.1 25.3L76.2 25.2L76.2 25.2L76.3 25.1L83.4 16.4L83.4 16.3L83.5 16.2L83.5 16.1L83.5 16.1L83.6 16L83.6 15.9L83.6 15.8L83.6 15.7L83.6 15.6L83.5 15.5L83.5 15.4L83.5 15.3L83.4 15.2L83.4 15.1L72.9 2L72.9 1.9L72.8 1.8L72.7 1.8L72.7 1.7L72.6 1.7L72.5 1.7L72.4 1.6L72.3 1.6L72.2 1.6L72.1 1.6L72 1.6L71.9 1.6ZM76.3 26L76.3 25.9L76.2 25.8L76.1 25.7L76.1 25.7L76 25.6L75.9 25.6L75.8 25.5L75.7 25.5L75.6 25.5L75.5 25.5L75.4 25.5L62.1 26L62 26L61.9 26L61.8 26L61.7 26.1L61.6 26.1L61.5 26.2L61.5 26.2L61.4 26.3L61.3 26.4L61.3 26.5L61.2 26.5L61.2 26.6L61.2 26.7L61.1 26.8L61.1 26.9L60 38.6L60 38.7L60 38.8L60 38.9L60 39L60.1 39.1L60.1 39.2L60.2 39.2L60.2 39.3L60.3 39.4L60.4 39.5L60.5 39.5L74.8 48.5L74.8 48.6L74.9 48.6L75 48.7L75.1 48.7L75.2 48.7L75.3 48.7L75.4 48.7L75.5 48.7L75.6 48.6L78.1 47.7L78.2 47.7L78.3 47.7L78.4 47.6L78.5 47.5L78.6 47.5L78.6 47.4L78.7 47.3L78.7 47.2L83 38L83 38L83 37.9L83 37.8L83.1 37.7L83.1 37.6L83 37.5L83 37.4L83 37.3L83 37.2L82.9 37.1ZM81.4 -12.3L81.4 -12.4L81.5 -12.5L81.5 -12.5L81.5 -12.6L81.5 -12.7L81.5 -12.8L81.5 -12.9L81.5 -13L81.5 -13.1L81.4 -13.2L81.4 -13.3L81.3 -13.4L81.3 -13.5L81.2 -13.6L81.1 -13.6L67.5 -24L67.4 -24.1L67.3 -24.1L67.2 -24.2L67.1 -24.2L67 -24.2L66.9 -24.2L66.8 -24.2L63.9 -24L63.8 -24L63.7 -23.9L63.6 -23.9L63.5 -23.9L63.4 -23.8L63.4 -23.8L63.3 -23.7L54.5 -15.6L54.4 -15.5L54.4 -15.4L54.3 -15.4L54.3 -15.3L54.3 -15.2L54.2 -15.1L54.2 -15L54.2 -14.9L54.2 -14.8L54.2 -14.7L54.2 -14.6L58.9 4L58.9 4L59 4.1L59 4.2L59.1 4.3L59.1 4.4L59.2 4.4L59.3 4.5L59.4 4.6L59.5 4.6L59.5 4.6L59.6 4.7L59.7 4.7L59.8 4.7L59.9 4.7L60 4.7L60.1 4.7L72.2 1.6L72.3 1.5L72.3 1.5L72.4 1.5L72.5 1.4L72.6 1.4L72.6 1.3L72.7 1.2L72.8 1.1ZM81.4 77.7L81.4 77.6L81.5 77.5L81.5 77.5L81.5 77.4L81.5 77.3L81.5 77.2L81.5 77.1L81.5 77L81.5 76.9L81.4 76.8L81.4 76.7L81.3 76.6L81.3 76.5L81.2 76.4L81.1 76.4L67.5 66L67.4 65.9L67.3 65.9L67.2 65.8L67.1 65.8L67 65.8L66.9 65.8L66.8 65.8L63.9 66L63.8 66L63.7 66.1L63.6 66.1L63.5 66.1L63.4 66.2L63.4 66.2L63.3 66.3L54.5 74.4L54.4 74.5L54.4 74.6L54.3 74.6L54.3 74.7L54.3 74.8L54.2 74.9L54.2 75L54.2 75.1L54.2 75.2L54.2 75.3L54.2 75.4L58.9 94L58.9 94L59 94.1L59 94.2L59.1 94.3L59.1 94.4L59.2 94.4L59.3 94.5L59.4 94.6L59.5 94.6L59.5 94.6L59.6 94.7L59.7 94.7L59.8 94.7L59.9 94.7L60 94.7L60.1 94.7L72.2 91.6L72.3 91.5L72.3 91.5L72.4 91.5L72.5 91.4L72.6 91.4L72.6 91.3L72.7 91.2L72.8 91.1ZM30.9 76.7L31 76.8L31.1 76.8L31.2 76.8L31.3 76.8L31.3 76.8L31.4 76.8L31.5 76.8L32.1 76.6L32.2 76.6L32.3 76.6L32.4 76.5L32.5 76.5L32.6 76.4L32.6 76.3L35.5 73.1L35.5 73L35.6 72.9L35.6 72.8L35.7 72.7L35.7 72.6L35.7 72.5L35.7 72.4L35.6 57L35.6 56.9L35.6 56.8L35.6 56.7L35.6 56.6L35.5 56.6L35.5 56.5L35.4 56.4L35.3 56.3L35.3 56.3L35.2 56.2L35.1 56.1L35 56.1L17.3 48.6L17.2 48.5L17.1 48.5L17 48.5L16.9 48.5L16.8 48.5L16.7 48.5L16.6 48.5L16.5 48.6L16.5 48.6L16.4 48.6L16.3 48.7L16.2 48.8L16.2 48.8L6.8 59.7L6.8 59.7L6.7 59.8L6.7 59.9L6.6 60L6.6 60.1L6.6 60.2L6.1 64.9L6.1 65L6.1 65.1L6.1 65.2L6.1 65.3L6.1 65.4L6.2 65.5L6.2 65.5L6.3 65.6L6.4 65.7L6.4 65.8L6.5 65.8L6.6 65.9L6.7 65.9ZM61.2 26.4L61.2 26.3L61.2 26.2L61.1 26.2L61.1 26.1L61.1 26L61 25.9L61 25.8L60.9 25.7L57.7 21.8L57.6 21.8L57.5 21.7L57.4 21.6L57.4 21.6L57.3 21.6L57.2 21.5L57.1 21.5L57 21.5L56.9 21.5L56.8 21.5L56.7 21.5L44.9 23.4L44.9 23.4L44.8 23.4L44.7 23.5L44.6 23.5L44.5 23.6L44.4 23.6L44.4 23.7L44.3 23.8L44.3 23.9L38.2 33.5L38.2 33.6L38.1 33.6L38.1 33.7L38.1 33.8L38.1 33.9L38.1 34L38.1 34.1L38.1 34.2L38.1 34.3L38.2 34.4L44.2 48.3L44.3 48.4L44.3 48.5L44.4 48.5L44.5 48.6L44.5 48.7L44.6 48.7L44.7 48.8L44.8 48.8L44.9 48.8L45 48.9L45.1 48.9L45.2 48.9L48.4 48.8L48.5 48.8L48.6 48.7L48.6 48.7L48.7 48.7L48.8 48.6L48.9 48.6L49 48.5L59.6 39.5L59.7 39.4L59.8 39.3L59.8 39.2L59.9 39.2L59.9 39.1L59.9 39L60 38.9L60 38.8ZM31.5 -13.2L31.4 -13.2L31.3 -13.1L31.2 -13.1L31.1 -13.1L31.1 -13L31 -12.9L14.8 3.7L14.8 3.8L14.7 3.8L14.7 3.9L14.6 4L14.6 4.1L14.6 4.2L14.6 4.3L14.5 4.4L14.6 4.5L14.6 4.6L14.6 4.7L14.6 4.8L14.7 4.9L14.7 4.9L14.8 5L14.8 5.1L24.4 14.7L24.5 14.8L24.6 14.8L24.6 14.9L24.7 14.9L24.8 14.9L24.9 15L25 15L25.1 15L25.2 15L25.3 15L33 13.7L33.1 13.6L33.2 13.6L33.3 13.6L33.4 13.5L33.5 13.5L33.5 13.4L33.6 13.3L33.7 13.3L33.7 13.2L39.6 3.2L39.6 3.1L39.7 3.1L39.7 3L39.7 2.9L39.7 2.8L39.7 2.7L39.7 2.6L39.7 2.5L39.7 2.4L39.6 2.3L32.8 -12.7L32.7 -12.8L32.7 -12.9L32.6 -12.9L32.5 -13L32.5 -13.1L32.4 -13.1L32.3 -13.2L32.2 -13.2L32.1 -13.2L32 -13.3L31.9 -13.3L31.8 -13.3L31.7 -13.3L31.6 -13.2ZM31.5 76.8L31.4 76.8L31.3 76.9L31.2 76.9L31.1 76.9L31.1 77L31 77.1L14.8 93.7L14.8 93.8L14.7 93.8L14.7 93.9L14.6 94L14.6 94.1L14.6 94.2L14.6 94.3L14.5 94.4L14.6 94.5L14.6 94.6L14.6 94.7L14.6 94.8L14.7 94.9L14.7 94.9L14.8 95L14.8 95.1L24.4 104.7L24.5 104.8L24.6 104.8L24.6 104.9L24.7 104.9L24.8 104.9L24.9 105L25 105L25.1 105L25.2 105L25.3 105L33 103.7L33.1 103.6L33.2 103.6L33.3 103.6L33.4 103.5L33.5 103.5L33.5 103.4L33.6 103.3L33.7 103.3L33.7 103.2L39.6 93.2L39.6 93.1L39.7 93.1L39.7 93L39.7 92.9L39.7 92.8L39.7 92.7L39.7 92.6L39.7 92.5L39.7 92.4L39.6 92.3L32.8 77.3L32.7 77.2L32.7 77.1L32.6 77.1L32.5 77L32.5 76.9L32.4 76.9L32.3 76.8L32.2 76.8L32.1 76.8L32 76.7L31.9 76.7L31.8 76.7L31.7 76.7L31.6 76.8ZM25.4 15L25.3 15L25.2 15L25.1 15L25.1 15.1L25 15.1L24.9 15.2L24.8 15.3L24.8 15.4L24.7 15.4L24.7 15.5L24.6 15.6L24.6 15.7L20.8 30.8L20.8 30.9L20.8 31L20.8 31.1L20.8 31.2L20.8 31.3L20.8 31.4L20.9 31.5L20.9 31.6L21 31.7L21 31.8L21.1 31.8L21.2 31.9L21.3 31.9L21.4 32L21.5 32L21.6 32L21.7 32.1L37.3 33.8L37.4 33.8L37.5 33.8L37.6 33.8L37.7 33.8L37.8 33.8L37.9 33.7L38 33.7L38.1 33.6L38.1 33.5L38.2 33.5L38.3 33.4L44.1 24.2L44.1 24.1L44.1 24L44.2 23.9L44.2 23.8L44.2 23.7L44.2 23.6L44.2 23.5L44.2 23.4L44.1 23.3L44.1 23.2L44.1 23.1L44 23.1L43.9 23L43.9 22.9L33.9 13.9L33.8 13.8L33.7 13.8L33.6 13.7L33.5 13.7L33.4 13.7L33.3 13.6L33.2 13.6L33.1 13.6L33 13.7ZM1.1 15.8L1 15.7L1 15.6L0.9 15.6L0.8 15.5L0.8 15.4L0.7 15.4L0.6 15.3L0.5 15.3L0.4 15.3L0.3 15.3L0.2 15.3L0.1 15.3L-5.7 15.7L-5.8 15.8L-5.9 15.8L-6 15.8L-6.1 15.8L-6.2 15.9L-6.3 16L-6.3 16L-6.4 16.1L-13.5 24.9L-13.6 25L-13.6 25.1L-13.7 25.2L-13.7 25.3L-13.7 25.4L-13.8 25.5L-13.8 25.6L-13.8 25.7L-13.7 25.8L-13.7 25.9L-13.7 25.9L-13.6 26L-7.2 37L-7.1 37L-7.1 37.1L-7 37.2L-6.9 37.2L-6.8 37.3L-6.8 37.3L-6.7 37.4L-6.6 37.4L-6.5 37.4L-6.4 37.4L-6.3 37.5L-6.2 37.4L-6.1 37.4L9.3 34.4L9.4 34.4L9.5 34.4L9.6 34.3L9.7 34.3L9.8 34.2L9.8 34.2L9.9 34.1L10 34L10 33.9L10.1 33.8L10.1 33.8L10.1 33.7L10.1 33.6L10.1 33.5L10.1 33.4L10.1 33.3L10.1 33.2L10.1 33.1L10 33ZM91.1 15.8L91 15.7L91 15.6L90.9 15.6L90.8 15.5L90.8 15.4L90.7 15.4L90.6 15.3L90.5 15.3L90.4 15.3L90.3 15.3L90.2 15.3L90.1 15.3L84.3 15.7L84.2 15.8L84.1 15.8L84 15.8L83.9 15.8L83.8 15.9L83.7 16L83.7 16L83.6 16.1L76.5 24.9L76.4 25L76.4 25.1L76.3 25.2L76.3 25.3L76.3 25.4L76.2 25.5L76.2 25.6L76.2 25.7L76.3 25.8L76.3 25.9L76.3 25.9L76.4 26L82.8 37L82.9 37L82.9 37.1L83 37.2L83.1 37.2L83.2 37.3L83.2 37.3L83.3 37.4L83.4 37.4L83.5 37.4L83.6 37.4L83.7 37.5L83.8 37.4L83.9 37.4L99.3 34.4L99.4 34.4L99.5 34.4L99.6 34.3L99.7 34.3L99.8 34.2L99.8 34.2L99.9 34.1L100 34L100 33.9L100.1 33.8L100.1 33.8L100.1 33.7L100.1 33.6L100.1 33.5L100.1 33.4L100.1 33.3L100.1 33.2L100.1 33.1L100 33Z" fill="#fff" stroke="#111" stroke-width="0.9" stroke-linejoin="round"/></pattern><radialGradient id="lg" cx="0.5" cy="0.5" r="0.55"><stop offset="0.3" stop-color="#f2f2f2"/><stop offset="0.62" stop-color="#b4b4b4"/><stop offset="0.88" stop-color="#555"/><stop offset="1" stop-color="#222"/></radialGradient><pattern id="plg" width="90" height="90" patternUnits="userSpaceOnUse"><rect width="90" height="90" fill="#d4d4d4"/><path d="M11.8 44.8L11.7 44.8L11.7 44.9L11.7 45L11.7 45L11.6 45.1L11.6 45.2L11.6 45.3L11.7 45.4L11.7 45.4L11.7 45.5L11.7 45.6L18.9 60L19 60.1L19 60.1L19.1 60.2L19.1 60.2L19.2 60.3L19.3 60.3L19.3 60.4L19.4 60.4L24.1 61.9L24.2 61.9L24.3 61.9L24.4 61.9L24.4 61.9L24.5 61.9L24.6 61.9L24.7 61.9L36 57.4L36.1 57.4L36.1 57.4L36.2 57.3L36.3 57.3L36.3 57.2L36.4 57.2L36.4 57.1L36.4 57L36.5 57L36.5 56.9L40.5 41.4L40.5 41.3L40.5 41.3L40.5 41.2L40.5 41.1L40.5 41L40.5 41L40.5 40.9L40.4 40.8L40.4 40.8L40.3 40.7L40.3 40.6L40.2 40.6L32.7 34.8L32.6 34.8L32.5 34.7L32.4 34.7L32.4 34.7L32.3 34.7L32.2 34.6L32.1 34.6L32.1 34.6L17.6 36.6L17.6 36.6L17.5 36.6L17.4 36.7L17.3 36.7L17.3 36.7L17.2 36.8L17.2 36.8L17.1 36.9L17.1 36.9ZM7.3 -4.8L7.2 -4.8L7.2 -4.8L7.1 -4.8L7 -4.8L6.9 -4.8L6.9 -4.7L6.8 -4.7L6.7 -4.6L6.7 -4.6L6.6 -4.5L6.6 -4.4L6.6 -4.4L6.5 -4.3L6.5 -4.2L6.5 -4.2L6.5 -4.1L5.8 16.3L5.8 16.3L5.8 16.4L5.9 16.5L5.9 16.6L5.9 16.7L6 16.7L6 16.8L6.1 16.9L6.1 16.9L6.2 17L6.3 17L9 18.4L9.1 18.5L9.1 18.5L9.2 18.5L9.3 18.5L9.4 18.5L9.5 18.5L9.5 18.5L9.6 18.5L33.5 10.2L33.6 10.2L33.7 10.1L33.7 10.1L33.8 10L33.9 10L33.9 9.9L34 9.8L34 9.8L34 9.7L34.1 9.6L34.1 9.5L34.1 9.5L34.4 -0.2L34.4 -0.2L34.4 -0.3L34.4 -0.4L34.4 -0.5L34.4 -0.5L34.3 -0.6L34.3 -0.7L34.2 -0.7L34.2 -0.8L34.1 -0.8L29.8 -4L29.7 -4.1L29.6 -4.1L29.6 -4.1L29.5 -4.2L29.4 -4.2L29.3 -4.2ZM7.3 85.2L7.2 85.2L7.2 85.2L7.1 85.2L7 85.2L6.9 85.2L6.9 85.3L6.8 85.3L6.7 85.4L6.7 85.4L6.6 85.5L6.6 85.6L6.6 85.6L6.5 85.7L6.5 85.8L6.5 85.8L6.5 85.9L5.8 106.3L5.8 106.3L5.8 106.4L5.9 106.5L5.9 106.6L5.9 106.7L6 106.7L6 106.8L6.1 106.9L6.1 106.9L6.2 107L6.3 107L9 108.4L9.1 108.5L9.1 108.5L9.2 108.5L9.3 108.5L9.4 108.5L9.5 108.5L9.5 108.5L9.6 108.5L33.5 100.2L33.6 100.2L33.7 100.1L33.7 100.1L33.8 100L33.9 100L33.9 99.9L34 99.8L34 99.8L34 99.7L34.1 99.6L34.1 99.5L34.1 99.5L34.4 89.8L34.4 89.8L34.4 89.7L34.4 89.6L34.4 89.5L34.4 89.5L34.3 89.4L34.3 89.3L34.2 89.3L34.2 89.2L34.1 89.2L29.8 86L29.7 85.9L29.6 85.9L29.6 85.9L29.5 85.8L29.4 85.8L29.3 85.8ZM82.3 66.2L82.4 66.2L82.4 66.2L82.5 66.1L82.5 66.1L82.6 66L82.6 66L82.7 65.9L82.7 65.8L82.8 65.8L82.8 65.7L82.8 65.6L82.8 65.5L82.8 65.5L82.6 53.2L82.6 53.1L82.6 53L82.6 53L82.6 52.9L82.5 52.8L82.5 52.7L82.4 52.7L82.4 52.6L82.3 52.6L82.3 52.5L82.2 52.5L82.1 52.5L82.1 52.4L63.5 46.8L63.4 46.8L63.3 46.8L63.3 46.8L63.2 46.8L63.1 46.8L63 46.8L63 46.9L62.9 46.9L62.8 47L62.7 47L62.7 47.1L62.6 47.1L62.6 47.2L62.6 47.3L62.5 47.3L62.5 47.4L59 61.5L59 61.6L58.9 61.7L58.9 61.8L59 61.8L59 61.9L59 62L59 62L59 62.1L59.1 62.2L59.1 62.2L59.2 62.3L67.9 70.8L68 70.8L68 70.9L68.1 70.9L68.2 70.9L68.3 71L68.3 71L68.4 71L68.5 71L68.6 71L68.7 71L68.7 70.9ZM6.1 16.9L6 16.9L6 16.9L5.9 16.8L5.8 16.8L5.7 16.8L5.7 16.8L5.6 16.8L5.5 16.9L-8.9 21.4L-9 21.4L-9 21.4L-9.1 21.5L-9.2 21.5L-9.2 21.6L-9.3 21.6L-9.3 21.7L-9.4 21.8L-9.4 21.8L-9.4 21.9L-9.4 22L-10.2 25.7L-10.2 25.7L-10.2 25.8L-10.2 25.9L-10.2 26L-10.2 26L-10.2 26.1L-10.1 26.2L-0.7 45.2L-0.7 45.2L-0.7 45.3L-0.6 45.4L-0.6 45.4L-0.5 45.5L-0.4 45.5L-0.4 45.6L-0.3 45.6L-0.2 45.6L-0.1 45.6L-0.1 45.6L0 45.6L11.1 45.2L11.2 45.2L11.3 45.1L11.3 45.1L11.4 45.1L11.5 45.1L11.5 45L11.6 45L11.7 44.9L11.7 44.9L11.7 44.8L17 37L17.1 36.9L17.1 36.9L17.1 36.8L17.1 36.7L17.2 36.6L17.2 36.6L17.2 36.5L17.1 36.4L17.1 36.3L17.1 36.2L9.4 18.8L9.4 18.8L9.3 18.7L9.3 18.6L9.2 18.6L9.2 18.5L9.1 18.5L9 18.5ZM96.1 16.9L96 16.9L96 16.9L95.9 16.8L95.8 16.8L95.7 16.8L95.7 16.8L95.6 16.8L95.5 16.9L81.1 21.4L81 21.4L81 21.4L80.9 21.5L80.8 21.5L80.8 21.6L80.7 21.6L80.7 21.7L80.6 21.8L80.6 21.8L80.6 21.9L80.6 22L79.8 25.7L79.8 25.7L79.8 25.8L79.8 25.9L79.8 26L79.8 26L79.8 26.1L79.9 26.2L89.3 45.2L89.3 45.2L89.3 45.3L89.4 45.4L89.4 45.4L89.5 45.5L89.6 45.5L89.6 45.6L89.7 45.6L89.8 45.6L89.9 45.6L89.9 45.6L90 45.6L101.1 45.2L101.2 45.2L101.3 45.1L101.3 45.1L101.4 45.1L101.5 45.1L101.5 45L101.6 45L101.7 44.9L101.7 44.9L101.7 44.8L107 37L107.1 36.9L107.1 36.9L107.1 36.8L107.1 36.7L107.2 36.6L107.2 36.6L107.2 36.5L107.1 36.4L107.1 36.3L107.1 36.2L99.4 18.8L99.4 18.8L99.3 18.7L99.3 18.6L99.2 18.6L99.2 18.5L99.1 18.5L99 18.5ZM-21.7 9.1L-21.7 9.2L-21.7 9.2L-21.7 9.3L-21.7 9.4L-21.6 9.5L-21.6 9.5L-21.5 9.6L-21.5 9.6L-9.7 21.2L-9.6 21.2L-9.6 21.3L-9.5 21.3L-9.4 21.4L-9.4 21.4L-9.3 21.4L-9.2 21.4L-9.1 21.4L-9 21.4L-9 21.4L-8.9 21.4L5.3 16.9L5.4 16.9L5.4 16.9L5.5 16.8L5.5 16.8L5.6 16.7L5.7 16.7L5.7 16.6L5.7 16.6L5.8 16.5L5.8 16.4L5.8 16.3L5.8 16.3L5.8 16.2L6.5 -4.5L6.5 -4.6L6.5 -4.7L6.5 -4.8L6.5 -4.9L6.4 -4.9L6.4 -5L6.3 -5.1L6.3 -5.1L3.9 -7.8L3.8 -7.8L3.8 -7.9L3.7 -7.9L3.6 -8L3.6 -8L3.5 -8L3.4 -8L3.3 -8L3.3 -8L3.2 -8L3.1 -8L3 -8L3 -8L-21.6 3L-21.6 3L-21.7 3.1L-21.8 3.1L-21.8 3.2L-21.9 3.2L-21.9 3.3L-22 3.4L-22 3.5L-22 3.5L-22 3.6L-22 3.7L-22 3.8ZM-21.7 99.1L-21.7 99.2L-21.7 99.2L-21.7 99.3L-21.7 99.4L-21.6 99.5L-21.6 99.5L-21.5 99.6L-21.5 99.6L-9.7 111.2L-9.6 111.2L-9.6 111.3L-9.5 111.3L-9.4 111.4L-9.4 111.4L-9.3 111.4L-9.2 111.4L-9.1 111.4L-9 111.4L-9 111.4L-8.9 111.4L5.3 106.9L5.4 106.9L5.4 106.9L5.5 106.8L5.5 106.8L5.6 106.7L5.7 106.7L5.7 106.6L5.7 106.6L5.8 106.5L5.8 106.4L5.8 106.3L5.8 106.3L5.8 106.2L6.5 85.5L6.5 85.4L6.5 85.3L6.5 85.2L6.5 85.1L6.4 85.1L6.4 85L6.3 84.9L6.3 84.9L3.9 82.2L3.8 82.2L3.8 82.1L3.7 82.1L3.6 82L3.6 82L3.5 82L3.4 82L3.3 82L3.3 82L3.2 82L3.1 82L3 82L3 82L-21.6 93L-21.6 93L-21.7 93.1L-21.8 93.1L-21.8 93.2L-21.9 93.2L-21.9 93.3L-22 93.4L-22 93.5L-22 93.5L-22 93.6L-22 93.7L-22 93.8ZM68.3 9.1L68.3 9.2L68.3 9.2L68.3 9.3L68.3 9.4L68.4 9.5L68.4 9.5L68.5 9.6L68.5 9.6L80.3 21.2L80.4 21.2L80.4 21.3L80.5 21.3L80.6 21.4L80.6 21.4L80.7 21.4L80.8 21.4L80.9 21.4L81 21.4L81 21.4L81.1 21.4L95.3 16.9L95.4 16.9L95.4 16.9L95.5 16.8L95.5 16.8L95.6 16.7L95.7 16.7L95.7 16.6L95.7 16.6L95.8 16.5L95.8 16.4L95.8 16.3L95.8 16.3L95.8 16.2L96.5 -4.5L96.5 -4.6L96.5 -4.7L96.5 -4.8L96.5 -4.9L96.4 -4.9L96.4 -5L96.3 -5.1L96.3 -5.1L93.9 -7.8L93.8 -7.8L93.8 -7.9L93.7 -7.9L93.6 -8L93.6 -8L93.5 -8L93.4 -8L93.3 -8L93.3 -8L93.2 -8L93.1 -8L93 -8L93 -8L68.4 3L68.4 3L68.3 3.1L68.2 3.1L68.2 3.2L68.1 3.2L68.1 3.3L68 3.4L68 3.5L68 3.5L68 3.6L68 3.7L68 3.8ZM68.3 99.1L68.3 99.2L68.3 99.2L68.3 99.3L68.3 99.4L68.4 99.5L68.4 99.5L68.5 99.6L68.5 99.6L80.3 111.2L80.4 111.2L80.4 111.3L80.5 111.3L80.6 111.4L80.6 111.4L80.7 111.4L80.8 111.4L80.9 111.4L81 111.4L81 111.4L81.1 111.4L95.3 106.9L95.4 106.9L95.4 106.9L95.5 106.8L95.5 106.8L95.6 106.7L95.7 106.7L95.7 106.6L95.7 106.6L95.8 106.5L95.8 106.4L95.8 106.3L95.8 106.3L95.8 106.2L96.5 85.5L96.5 85.4L96.5 85.3L96.5 85.2L96.5 85.1L96.4 85.1L96.4 85L96.3 84.9L96.3 84.9L93.9 82.2L93.8 82.2L93.8 82.1L93.7 82.1L93.6 82L93.6 82L93.5 82L93.4 82L93.3 82L93.3 82L93.2 82L93.1 82L93 82L93 82L68.4 93L68.4 93L68.3 93.1L68.2 93.1L68.2 93.2L68.1 93.2L68.1 93.3L68 93.4L68 93.5L68 93.5L68 93.6L68 93.7L68 93.8ZM-6.8 -23.7L-6.9 -23.7L-7 -23.8L-7 -23.8L-7.1 -23.8L-7.2 -23.8L-7.3 -23.9L-7.4 -23.9L-7.4 -23.8L-7.5 -23.8L-7.6 -23.8L-21.3 -19L-21.4 -19L-21.5 -19L-21.5 -18.9L-21.6 -18.9L-21.6 -18.8L-21.7 -18.7L-21.7 -18.7L-21.8 -18.6L-21.8 -18.5L-21.8 -18.5L-25.5 -2.3L-25.6 -2.2L-25.6 -2.1L-25.6 -2L-25.6 -1.9L-25.5 -1.8L-25.5 -1.8L-25.5 -1.7L-25.4 -1.6L-22.5 2.7L-22.4 2.7L-22.3 2.8L-22.3 2.8L-22.2 2.9L-22.2 2.9L-22.1 3L-22 3L-21.9 3L-21.9 3L-21.8 3L-21.7 3L-21.6 3L-21.5 3L-21.5 2.9L3 -8L3 -8L3.1 -8L3.2 -8.1L3.2 -8.1L3.3 -8.2L3.3 -8.3L3.3 -8.3L3.4 -8.4L3.4 -8.5L3.4 -8.6L3.4 -8.6L3.4 -8.7L3.4 -8.8L2.5 -15.7L2.5 -15.7L2.4 -15.8L2.4 -15.9L2.4 -15.9L2.3 -16L2.3 -16.1L2.3 -16.1L2.2 -16.2ZM-6.8 66.3L-6.9 66.3L-7 66.2L-7 66.2L-7.1 66.2L-7.2 66.2L-7.3 66.1L-7.4 66.1L-7.4 66.2L-7.5 66.2L-7.6 66.2L-21.3 71L-21.4 71L-21.5 71L-21.5 71.1L-21.6 71.1L-21.6 71.2L-21.7 71.3L-21.7 71.3L-21.8 71.4L-21.8 71.5L-21.8 71.5L-25.5 87.7L-25.6 87.8L-25.6 87.9L-25.6 88L-25.6 88.1L-25.5 88.2L-25.5 88.2L-25.5 88.3L-25.4 88.4L-22.5 92.7L-22.4 92.7L-22.3 92.8L-22.3 92.8L-22.2 92.9L-22.2 92.9L-22.1 93L-22 93L-21.9 93L-21.9 93L-21.8 93L-21.7 93L-21.6 93L-21.5 93L-21.5 92.9L3 82L3 82L3.1 82L3.2 81.9L3.2 81.9L3.3 81.8L3.3 81.7L3.3 81.7L3.4 81.6L3.4 81.5L3.4 81.4L3.4 81.4L3.4 81.3L3.4 81.2L2.5 74.3L2.5 74.3L2.4 74.2L2.4 74.1L2.4 74.1L2.3 74L2.3 73.9L2.3 73.9L2.2 73.8ZM83.2 -23.7L83.1 -23.7L83 -23.8L83 -23.8L82.9 -23.8L82.8 -23.8L82.7 -23.9L82.6 -23.9L82.6 -23.8L82.5 -23.8L82.4 -23.8L68.7 -19L68.6 -19L68.5 -19L68.5 -18.9L68.4 -18.9L68.4 -18.8L68.3 -18.7L68.3 -18.7L68.2 -18.6L68.2 -18.5L68.2 -18.5L64.5 -2.3L64.4 -2.2L64.4 -2.1L64.4 -2L64.4 -1.9L64.5 -1.8L64.5 -1.8L64.5 -1.7L64.6 -1.6L67.5 2.7L67.6 2.7L67.7 2.8L67.7 2.8L67.8 2.9L67.8 2.9L67.9 3L68 3L68.1 3L68.1 3L68.2 3L68.3 3L68.4 3L68.5 3L68.5 2.9L93 -8L93 -8L93.1 -8L93.2 -8.1L93.2 -8.1L93.3 -8.2L93.3 -8.3L93.3 -8.3L93.4 -8.4L93.4 -8.5L93.4 -8.6L93.4 -8.6L93.4 -8.7L93.4 -8.8L92.5 -15.7L92.5 -15.7L92.4 -15.8L92.4 -15.9L92.4 -15.9L92.3 -16L92.3 -16.1L92.3 -16.1L92.2 -16.2ZM83.2 66.3L83.1 66.3L83 66.2L83 66.2L82.9 66.2L82.8 66.2L82.7 66.1L82.6 66.1L82.6 66.2L82.5 66.2L82.4 66.2L68.7 71L68.6 71L68.5 71L68.5 71.1L68.4 71.1L68.4 71.2L68.3 71.3L68.3 71.3L68.2 71.4L68.2 71.5L68.2 71.5L64.5 87.7L64.4 87.8L64.4 87.9L64.4 88L64.4 88.1L64.5 88.2L64.5 88.2L64.5 88.3L64.6 88.4L67.5 92.7L67.6 92.7L67.7 92.8L67.7 92.8L67.8 92.9L67.8 92.9L67.9 93L68 93L68.1 93L68.1 93L68.2 93L68.3 93L68.4 93L68.5 93L68.5 92.9L93 82L93 82L93.1 82L93.2 81.9L93.2 81.9L93.3 81.8L93.3 81.7L93.3 81.7L93.4 81.6L93.4 81.5L93.4 81.4L93.4 81.4L93.4 81.3L93.4 81.2L92.5 74.3L92.5 74.3L92.4 74.2L92.4 74.1L92.4 74.1L92.3 74L92.3 73.9L92.3 73.9L92.2 73.8ZM-7.2 65.7L-7.2 65.7L-7.2 65.8L-7.1 65.9L-7.1 66L-7.1 66L-7 66.1L-7 66.2L-6.9 66.2L-6.9 66.3L1.9 73.6L2 73.7L2.1 73.7L2.1 73.7L2.2 73.8L2.3 73.8L2.4 73.8L2.4 73.8L2.5 73.8L2.6 73.8L2.7 73.8L2.7 73.7L2.8 73.7L2.9 73.7L2.9 73.6L18.6 60.7L18.7 60.7L18.7 60.6L18.8 60.5L18.8 60.5L18.8 60.4L18.9 60.3L18.9 60.3L18.9 60.2L18.9 60.1L18.9 60L18.9 59.9L18.9 59.9L18.8 59.8L18.8 59.7L11.8 45.6L11.7 45.5L11.7 45.5L11.6 45.4L11.6 45.4L11.5 45.3L11.4 45.3L11.4 45.2L11.3 45.2L11.2 45.2L11.2 45.2L11.1 45.2L11 45.2L-0.2 45.6L-0.3 45.6L-0.3 45.7L-0.4 45.7L-0.5 45.7L-0.5 45.7L-0.6 45.8L-0.7 45.8L-0.7 45.9L-7.1 52.4L-7.2 52.4L-7.2 52.5L-7.3 52.6L-7.3 52.6L-7.3 52.7L-7.4 52.8L-7.4 52.9L-7.4 52.9ZM82.8 65.7L82.8 65.7L82.8 65.8L82.9 65.9L82.9 66L82.9 66L83 66.1L83 66.2L83.1 66.2L83.1 66.3L91.9 73.6L92 73.7L92.1 73.7L92.1 73.7L92.2 73.8L92.3 73.8L92.4 73.8L92.4 73.8L92.5 73.8L92.6 73.8L92.7 73.8L92.7 73.7L92.8 73.7L92.9 73.7L92.9 73.6L108.6 60.7L108.7 60.7L108.7 60.6L108.8 60.5L108.8 60.5L108.8 60.4L108.9 60.3L108.9 60.3L108.9 60.2L108.9 60.1L108.9 60L108.9 59.9L108.9 59.9L108.8 59.8L108.8 59.7L101.8 45.6L101.7 45.5L101.7 45.5L101.6 45.4L101.6 45.4L101.5 45.3L101.4 45.3L101.4 45.2L101.3 45.2L101.2 45.2L101.2 45.2L101.1 45.2L101 45.2L89.8 45.6L89.7 45.6L89.7 45.7L89.6 45.7L89.5 45.7L89.5 45.7L89.4 45.8L89.3 45.8L89.3 45.9L82.9 52.4L82.8 52.4L82.8 52.5L82.7 52.6L82.7 52.6L82.7 52.7L82.6 52.8L82.6 52.9L82.6 52.9ZM58.4 62.1L58.5 62.1L58.6 62L58.7 62L58.7 62L58.8 61.9L58.8 61.8L58.9 61.8L58.9 61.7L58.9 61.6L59 61.5L62.6 46.9L62.6 46.8L62.7 46.7L62.7 46.6L62.6 46.6L62.6 46.5L62.6 46.4L62.6 46.3L60.5 42L60.4 41.9L60.4 41.9L60.3 41.8L60.3 41.8L60.2 41.7L60.1 41.7L53.8 38.2L53.8 38.2L53.7 38.2L53.6 38.2L53.5 38.2L53.5 38.1L53.4 38.2L53.3 38.2L41.1 40.8L41.1 40.8L41 40.9L40.9 40.9L40.8 40.9L40.8 41L40.7 41L40.7 41.1L40.6 41.2L40.6 41.2L40.6 41.3L40.5 41.4L36.5 56.8L36.5 56.9L36.5 56.9L36.5 57L36.5 57.1L36.5 57.2L36.5 57.2L36.6 57.3L36.6 57.4L36.6 57.4L36.7 57.5L36.7 57.6L36.8 57.6L46.6 65.6L46.7 65.7L46.7 65.7L46.8 65.7L46.9 65.8L47 65.8L47.1 65.8L47.1 65.8L47.2 65.8L47.3 65.8L47.4 65.7ZM35.7 11.5L35.6 11.5L35.5 11.5L35.5 11.5L35.4 11.5L35.3 11.5L35.2 11.5L35.2 11.5L35.1 11.5L35 11.6L34.9 11.6L34.9 11.7L34.8 11.7L34.8 11.8L34.7 11.8L34.7 11.9L34.6 12L34.6 12.1L34.6 12.1L34.6 12.2L32.4 34.2L32.4 34.2L32.4 34.3L32.4 34.4L32.5 34.5L32.5 34.6L32.5 34.6L32.6 34.7L32.6 34.8L32.7 34.8L32.7 34.9L40.4 40.7L40.4 40.7L40.5 40.8L40.6 40.8L40.6 40.8L40.7 40.8L40.8 40.8L40.9 40.8L40.9 40.8L41 40.8L53 38.2L53.1 38.2L53.1 38.2L53.2 38.1L53.3 38.1L53.3 38.1L53.4 38L53.4 37.9L53.5 37.9L53.5 37.8L53.6 37.7L53.6 37.6L53.6 37.6L53.6 37.5L54.3 19.9L54.3 19.9L54.3 19.8L54.3 19.7L54.3 19.6L54.2 19.6L54.2 19.5L54.1 19.4L54.1 19.4L54 19.3L54 19.3L53.9 19.2L53.8 19.2ZM44 83.8L44.1 83.8L44.1 83.7L44.2 83.7L44.2 83.6L44.3 83.6L44.3 83.5L44.4 83.4L44.4 83.3L44.4 83.3L46.9 66.3L46.9 66.3L46.9 66.2L46.9 66.1L46.9 66L46.9 66L46.8 65.9L46.8 65.8L46.8 65.8L46.7 65.7L46.7 65.6L46.6 65.6L36.8 57.6L36.7 57.5L36.6 57.5L36.6 57.5L36.5 57.4L36.4 57.4L36.3 57.4L36.3 57.4L36.2 57.4L36.1 57.4L36 57.4L36 57.5L25 61.7L25 61.8L24.9 61.8L24.8 61.9L24.8 61.9L24.7 62L24.7 62L24.6 62.1L24.6 62.2L24.6 62.3L24.5 62.3L24.5 62.4L24.5 62.5L24.5 62.6L24.6 62.7L29.5 85.5L29.5 85.6L29.6 85.7L29.6 85.8L29.6 85.8L29.7 85.9L29.7 86L29.8 86L34 89.1L34.1 89.2L34.2 89.2L34.2 89.2L34.3 89.2L34.4 89.3L34.5 89.3L34.5 89.3L34.6 89.3L34.7 89.2L34.8 89.2L34.8 89.2L34.9 89.2ZM68.8 9.9L68.7 9.8L68.6 9.8L68.6 9.7L68.5 9.7L68.4 9.7L68.4 9.7L68.3 9.7L68.2 9.7L68.1 9.7L68 9.7L68 9.7L67.9 9.7L67.8 9.8L67.7 9.8L54.6 19.2L54.6 19.2L54.5 19.3L54.5 19.3L54.4 19.4L54.4 19.5L54.4 19.5L54.3 19.6L54.3 19.7L54.3 19.8L53.6 37.6L53.6 37.7L53.6 37.8L53.6 37.8L53.7 37.9L53.7 38L53.7 38.1L53.8 38.1L53.8 38.2L53.9 38.3L54 38.3L54 38.3L59.9 41.5L59.9 41.6L60 41.6L60.1 41.6L60.2 41.6L60.3 41.6L60.3 41.6L60.4 41.6L60.5 41.6L60.6 41.6L60.6 41.5L60.7 41.5L60.8 41.4L79.5 26.1L79.6 26.1L79.6 26L79.7 25.9L79.7 25.9L79.8 25.8L79.8 25.7L79.8 25.7L80.6 21.9L80.6 21.9L80.6 21.8L80.6 21.7L80.6 21.6L80.5 21.6L80.5 21.5L80.5 21.4L80.4 21.3L80.4 21.3L80.3 21.2ZM2.8 73.8L2.7 73.8L2.7 73.9L2.6 73.9L2.6 74L2.5 74.1L2.5 74.2L2.5 74.2L2.5 74.3L2.5 74.4L2.5 74.5L3.5 81.5L3.5 81.6L3.5 81.7L3.5 81.8L3.6 81.8L3.6 81.9L3.7 82L6.3 84.9L6.3 84.9L6.4 85L6.5 85L6.5 85.1L6.6 85.1L6.7 85.1L6.8 85.1L6.9 85.1L28.5 85.8L28.6 85.8L28.7 85.8L28.8 85.8L28.9 85.7L28.9 85.7L29 85.7L29.1 85.6L29.1 85.6L29.2 85.5L29.2 85.5L29.3 85.4L29.3 85.3L29.3 85.2L29.4 85.2L29.4 85.1L29.4 85L29.4 84.9L29.3 84.8L24.5 62.4L24.5 62.4L24.5 62.3L24.4 62.2L24.4 62.2L24.3 62.1L24.3 62L24.2 62L24.2 61.9L24.1 61.9L24 61.9L24 61.8L19.5 60.4L19.4 60.4L19.4 60.4L19.3 60.4L19.2 60.4L19.1 60.4L19 60.4L19 60.5L18.9 60.5L18.8 60.5L18.8 60.6ZM67.9 9.7L68 9.6L68.1 9.6L68.1 9.5L68.2 9.4L68.2 9.4L68.2 9.3L68.2 9.2L68.3 9.1L68.3 9.1L68.3 9L67.9 3.4L67.9 3.4L67.9 3.3L67.9 3.2L67.9 3.2L67.8 3.1L67.8 3L64.6 -1.7L64.5 -1.7L64.5 -1.8L64.4 -1.8L64.3 -1.9L64.3 -1.9L64.2 -1.9L64.1 -2L64.1 -2L44.6 -6.3L44.6 -6.3L44.5 -6.3L44.4 -6.3L44.4 -6.3L44.3 -6.3L44.2 -6.3L44.1 -6.2L44.1 -6.2L34.8 -0.8L34.8 -0.8L34.7 -0.7L34.7 -0.6L34.6 -0.6L34.6 -0.5L34.5 -0.5L34.5 -0.4L34.5 -0.3L34.4 -0.2L34.4 -0.1L34.1 9.8L34.1 9.9L34.1 9.9L34.1 10L34.1 10.1L34.1 10.1L34.2 10.2L34.6 10.9L34.6 11L34.6 11L34.7 11.1L34.8 11.1L34.8 11.2L34.9 11.2L34.9 11.2L53.9 19.2L54 19.2L54.1 19.3L54.2 19.3L54.2 19.3L54.3 19.3L54.4 19.3L54.5 19.2L54.6 19.2L54.6 19.2L54.7 19.1ZM67.9 99.7L68 99.6L68.1 99.6L68.1 99.5L68.2 99.4L68.2 99.4L68.2 99.3L68.2 99.2L68.3 99.1L68.3 99.1L68.3 99L67.9 93.4L67.9 93.4L67.9 93.3L67.9 93.2L67.9 93.2L67.8 93.1L67.8 93L64.6 88.3L64.5 88.3L64.5 88.2L64.4 88.2L64.3 88.1L64.3 88.1L64.2 88.1L64.1 88L64.1 88L44.6 83.7L44.6 83.7L44.5 83.7L44.4 83.7L44.4 83.7L44.3 83.7L44.2 83.7L44.1 83.8L44.1 83.8L34.8 89.2L34.8 89.2L34.7 89.3L34.7 89.4L34.6 89.4L34.6 89.5L34.5 89.5L34.5 89.6L34.5 89.7L34.4 89.8L34.4 89.9L34.1 99.8L34.1 99.9L34.1 99.9L34.1 100L34.1 100.1L34.1 100.1L34.2 100.2L34.6 100.9L34.6 101L34.6 101L34.7 101.1L34.8 101.1L34.8 101.2L34.9 101.2L34.9 101.2L53.9 109.2L54 109.2L54.1 109.3L54.2 109.3L54.2 109.3L54.3 109.3L54.4 109.3L54.5 109.2L54.6 109.2L54.6 109.2L54.7 109.1ZM34.4 10.6L34.3 10.5L34.3 10.5L34.2 10.4L34.2 10.4L34.1 10.3L34 10.3L34 10.2L33.9 10.2L33.8 10.2L33.7 10.2L33.7 10.2L33.6 10.2L33.5 10.2L33.4 10.2L10.1 18.3L10 18.3L10 18.4L9.9 18.4L9.8 18.5L9.8 18.5L9.7 18.6L9.7 18.6L9.7 18.7L9.6 18.8L9.6 18.8L9.6 18.9L9.6 19L9.6 19.1L9.6 19.2L9.6 19.2L9.6 19.3L9.6 19.4L17 36.1L17.1 36.2L17.1 36.2L17.2 36.3L17.2 36.4L17.3 36.4L17.3 36.4L17.4 36.5L17.5 36.5L17.6 36.5L17.6 36.6L17.7 36.6L17.8 36.6L17.9 36.6L31.8 34.7L31.8 34.7L31.9 34.7L32 34.6L32 34.6L32.1 34.6L32.2 34.5L32.2 34.5L32.3 34.4L32.3 34.3L32.4 34.3L32.4 34.2L32.4 34.1L32.4 34L32.5 34L34.7 11.4L34.7 11.3L34.7 11.2L34.7 11.1L34.6 11.1L34.6 11L34.6 10.9ZM59.2 62.3L59.1 62.3L59.1 62.2L59 62.2L58.9 62.1L58.9 62.1L58.8 62.1L58.7 62.1L58.6 62.1L58.6 62.1L58.5 62.1L58.4 62.1L47.4 65.7L47.4 65.8L47.3 65.8L47.2 65.8L47.1 65.9L47.1 65.9L47 66L47 66.1L47 66.1L46.9 66.2L46.9 66.3L46.9 66.4L44.5 82.9L44.4 83L44.4 83.1L44.5 83.1L44.5 83.2L44.5 83.3L44.5 83.4L44.6 83.4L44.6 83.5L44.7 83.6L44.7 83.6L44.8 83.7L44.8 83.7L44.9 83.7L45 83.8L45.1 83.8L63.6 87.9L63.7 87.9L63.8 87.9L63.8 87.9L63.9 87.9L64 87.9L64.1 87.9L64.1 87.8L64.2 87.8L64.3 87.8L64.3 87.7L64.4 87.7L64.4 87.6L64.5 87.5L64.5 87.5L64.5 87.4L64.6 87.3L68.2 71.6L68.2 71.5L68.2 71.4L68.2 71.3L68.2 71.2L68.2 71.1L68.1 71.1L68.1 71L68.1 70.9L68 70.9L68 70.8ZM82.2 52.5L82.2 52.5L82.3 52.5L82.4 52.5L82.5 52.5L82.6 52.5L82.6 52.5L82.7 52.4L82.8 52.4L82.8 52.4L82.9 52.3L83 52.3L89.1 46.1L89.1 46L89.2 45.9L89.2 45.9L89.3 45.8L89.3 45.7L89.3 45.7L89.3 45.6L89.3 45.5L89.3 45.4L89.3 45.4L89.3 45.3L89.3 45.2L89.2 45.1L80.2 26.8L80.2 26.8L80.1 26.7L80.1 26.6L80 26.6L79.9 26.5L79.9 26.5L79.8 26.5L79.7 26.4L79.6 26.4L79.6 26.4L79.5 26.4L79.4 26.4L79.3 26.4L79.2 26.4L79.2 26.5L79.1 26.5L79 26.5L79 26.6L60.8 41.4L60.8 41.4L60.7 41.5L60.7 41.6L60.6 41.6L60.6 41.7L60.6 41.8L60.6 41.8L60.5 41.9L60.5 42L60.5 42.1L60.6 42.1L60.6 42.2L60.6 42.3L60.6 42.4L62.5 46.3L62.6 46.4L62.6 46.4L62.7 46.5L62.7 46.5L62.8 46.6L62.9 46.6L63 46.7L63 46.7Z" fill="#d4d4d4" stroke="#1a1a1a" stroke-width="0.9" stroke-linejoin="round"/></pattern><pattern id="ph" width="8" height="8" patternUnits="userSpaceOnUse"><path d="M-1 9L9 -1M-5 5L5 -5M3 13L13 3" stroke="#000" stroke-width="1.15"/></pattern><linearGradient id="ng" gradientUnits="userSpaceOnUse" x1="868" y1="411" x2="950" y2="590"><stop offset="0" stop-color="#666" stop-opacity="0.6"/><stop offset="0.55" stop-color="#444" stop-opacity="0.8"/><stop offset="0.85" stop-color="#111" stop-opacity="0.95"/><stop offset="1" stop-color="#000" stop-opacity="1"/></linearGradient><linearGradient id="ng2" gradientUnits="userSpaceOnUse" x1="868" y1="411" x2="950" y2="590"><stop offset="0" stop-color="#ddd" stop-opacity="0.7"/><stop offset="0.6" stop-color="#ccc" stop-opacity="0.8"/><stop offset="1" stop-color="#999" stop-opacity="1"/></linearGradient></defs>
<path d="M689.0 65.9L690.4 66.0L691.9 66.0L693.4 66.1L694.8 66.2L696.3 66.3L697.8 66.5L699.2 66.7L700.7 66.9L702.2 67.1L703.6 67.3L705.1 67.6L706.5 67.9L708.0 68.2L709.5 68.5L710.9 68.8L712.4 69.2L713.8 69.6L715.3 70.0L716.7 70.4L718.2 70.8L719.6 71.3L721.1 71.7L722.5 72.2L724.0 72.7L725.4 73.2L726.8 73.8L728.3 74.3L729.7 74.9L731.2 75.5L732.6 76.1L734.0 76.7L735.5 77.3L736.9 77.9L738.3 78.6L739.8 79.2L741.2 79.9L742.6 80.6L744.1 81.3L745.5 82.0L746.9 82.7L748.3 83.4L749.8 84.2L751.2 84.9L752.6 85.7L754.0 86.5L755.5 87.2L756.9 88.0L758.3 88.8L759.7 89.6L761.1 90.4L762.5 91.2L764.0 92.0L765.4 92.9L766.8 93.7L768.2 94.5L769.6 95.4L771.0 96.2L772.4 97.1L773.8 98.0L775.2 98.8L776.6 99.7L778.0 100.5L779.4 101.4L780.8 102.3L782.2 103.2L783.6 104.0L785.0 104.9L786.4 105.8L787.8 106.7L789.2 107.5L790.6 108.4L792.0 109.3L793.4 110.2L794.8 111.1L796.1 111.9L797.5 112.8L798.9 113.7L800.3 114.5L801.7 115.4L803.1 116.3L804.4 117.1L805.8 118.0L807.2 118.8L808.6 119.7L810.0 120.5L811.3 121.3L812.7 122.2L814.1 123.0L815.4 123.8L816.8 124.6L818.2 125.4L819.6 126.2L820.9 127.0L822.3 127.8L823.6 128.6L825.0 129.3L826.4 130.1L827.7 130.9L829.1 131.6L830.4 132.4L831.8 133.2L833.1 133.9L834.5 134.7L835.8 135.4L837.1 136.2L838.5 136.9L839.8 137.7L841.1 138.4L842.4 139.2L843.8 140.0L845.1 140.7L846.4 141.5L847.7 142.3L849.0 143.0L850.3 143.8L851.5 144.6L852.8 145.4L854.1 146.2L855.4 147.0L856.6 147.8L857.9 148.6L859.1 149.4L860.4 150.3L861.6 151.1L862.9 152.0L864.1 152.8L865.3 153.7L866.5 154.6L867.7 155.5L868.9 156.4L870.1 157.3L871.3 158.2L872.5 159.2L873.6 160.1L874.8 161.1L875.9 162.1L877.1 163.1L878.2 164.1L879.3 165.1L880.5 166.1L881.6 167.2L882.7 168.2L883.8 169.3L884.9 170.3L885.9 171.4L887.0 172.5L888.1 173.6L889.1 174.7L890.2 175.8L891.2 176.9L892.3 178.1L893.3 179.2L894.3 180.4L895.3 181.5L896.3 182.7L897.3 183.9L898.3 185.1L899.3 186.3L900.2 187.5L901.2 188.7L902.2 189.9L903.1 191.2L904.0 192.4L905.0 193.7L905.9 194.9L906.8 196.2L907.7 197.5L908.6 198.7L909.5 200.0L910.4 201.3L911.2 202.6L912.1 204.0L913.0 205.3L913.8 206.6L914.6 207.9L915.5 209.3L916.3 210.6L917.1 212.0L917.9 213.3L918.7 214.7L919.5 216.1L920.3 217.5L921.0 218.8L921.8 220.2L922.6 221.6L923.3 223.0L924.0 224.5L924.8 225.9L925.5 227.3L926.2 228.7L926.9 230.1L927.6 231.6L928.3 233.0L929.0 234.5L929.6 235.9L930.3 237.4L930.9 238.8L931.6 240.3L932.2 241.8L932.8 243.2L933.5 244.7L934.1 246.2L934.7 247.7L935.2 249.2L935.8 250.6L936.4 252.1L937.0 253.6L937.5 255.1L938.1 256.6L938.6 258.2L939.1 259.7L939.6 261.2L940.1 262.7L940.6 264.2L941.1 265.7L941.6 267.2L942.1 268.8L942.5 270.3L943.0 271.8L943.4 273.4L943.9 274.9L944.3 276.4L944.7 278.0L945.1 279.5L945.5 281.0L945.9 282.6L946.3 284.1L946.7 285.7L947.0 287.2L947.4 288.7L947.7 290.3L948.0 291.8L948.4 293.4L948.7 294.9L949.0 296.5L949.3 298.0L949.6 299.6L949.8 301.1L950.1 302.6L950.4 304.2L950.6 305.7L950.9 307.3L951.1 308.8L951.3 310.4L951.5 311.9L951.7 313.5L951.9 315.0L952.1 316.5L952.3 318.1L952.5 319.6L952.6 321.2L952.8 322.7L953.0 324.3L953.1 325.8L953.2 327.3L953.4 328.9L953.5 330.4L953.6 332.0L953.7 333.5L953.8 335.0L954.0 336.6L954.0 338.1L954.1 339.7L954.2 341.2L954.3 342.7L954.4 344.3L954.5 345.8L954.5 347.4L954.6 348.9L954.7 350.4L954.7 352.0L954.8 353.5L954.8 355.1L954.9 356.6L954.9 358.1L955.0 359.7L955.0 361.2L955.1 362.8L955.1 364.3L955.1 365.8L955.2 367.4L955.2 368.9L955.2 370.4L955.2 372.0L955.3 373.5L955.3 375.1L955.3 376.6L955.3 378.1L955.4 379.7L955.4 381.2L955.4 382.7L955.4 384.3L955.4 385.8L955.5 387.4L955.5 388.9L955.5 390.4L955.5 392.0L955.6 393.5L955.6 395.0L955.6 396.6L955.6 398.1L955.7 399.7L955.7 401.2L955.7 402.7L955.8 404.3L955.8 405.8L955.9 407.3L955.9 408.9L955.9 410.4L956.0 411.9L956.1 413.5L956.1 415.0L956.2 416.6L956.2 418.1L956.3 419.6L956.4 421.2L956.5 422.7L956.6 424.2L956.7 425.8L956.8 427.3L957.0 428.8L957.1 430.3L957.3 431.8L957.6 433.3L957.8 434.8L958.1 436.3L958.5 437.8L958.9 439.3L959.3 440.7L959.8 442.2L960.4 443.6L961.0 445.0L961.7 446.4L962.4 447.8L963.2 449.1L964.1 450.5L965.0 451.8L966.1 453.1L967.2 454.4L968.4 455.7L969.6 456.9L971.0 458.2L972.4 459.4L973.9 460.6L975.4 461.8L976.8 463.0L978.2 464.2L979.4 465.5L980.6 466.7L981.6 468.0L982.4 469.4L983.0 470.8L983.4 472.2L983.5 473.7L983.3 475.3L982.9 476.9L982.3 478.4L981.6 479.8L980.7 481.1L979.8 482.2L978.8 483.1L977.8 483.8L976.8 484.3L975.8 484.5L974.8 484.5L973.8 484.3L972.7 483.9L971.7 483.3L970.6 482.6L969.6 481.8L968.5 480.8L967.4 479.7L966.3 478.5L965.2 477.2L964.1 475.8L962.9 474.3L961.8 472.8L960.6 471.2L959.5 469.6L958.3 468.0L957.1 466.4L955.9 464.8L954.7 463.2L953.5 461.6L952.2 460.1L951.0 458.7L949.7 457.3L948.5 456.0L947.2 454.8L945.9 453.7L944.6 452.7L943.2 451.9L942.0 451.3L940.7 450.9L939.6 450.7L938.6 450.7L937.7 451.1L937.0 451.8L936.4 452.7L935.9 453.9L935.5 455.2L935.2 456.6L934.9 458.0L934.6 459.4L934.3 460.8L934.0 462.2L933.8 463.6L933.5 465.0L933.3 466.5L933.1 467.9L933.0 469.4L932.8 470.9L932.6 472.3L932.5 473.8L932.4 475.3L932.3 476.8L932.2 478.3L932.1 479.8L932.0 481.3L931.9 482.9L931.9 484.4L931.8 485.9L931.8 487.5L931.7 489.0L931.7 490.6L931.7 492.1L931.7 493.7L931.7 495.3L931.7 496.8L931.7 498.4L931.7 500.0L931.7 501.6L931.7 503.1L931.7 504.7L931.8 506.3L931.8 507.9L931.8 509.5L931.8 511.1L931.8 512.7L931.9 514.3L931.9 515.9L931.9 517.5L931.9 519.1L931.9 520.7L931.9 522.3L931.9 523.9L931.9 525.5L931.9 527.1L931.9 528.7L931.8 530.3L931.8 531.9L931.8 533.5L931.7 535.1L931.6 536.7L931.6 538.2L931.5 539.8L931.4 541.4L931.3 543.0L931.2 544.6L931.1 546.1L931.0 547.7L930.8 549.3L930.7 550.9L930.5 552.4L930.4 554.0L930.2 555.6L930.0 557.1L929.9 558.7L929.7 560.3L929.5 561.8L929.2 563.4L929.0 564.9L928.8 566.5L928.6 568.0L928.3 569.6L928.1 571.1L927.8 572.7L927.5 574.2L927.2 575.7L926.9 577.3L926.7 578.8L926.3 580.3L926.0 581.9L925.7 583.4L925.4 584.9L925.0 586.5L924.7 588.0L924.3 589.5L924.0 591.0L923.6 592.5L923.2 594.1L922.8 595.6L922.5 597.1L922.0 598.6L921.6 600.1L921.2 601.6L920.8 603.1L920.4 604.6L919.9 606.1L919.5 607.6L919.0 609.1L918.6 610.6L918.1 612.1L917.6 613.6L917.1 615.1L916.6 616.6L916.1 618.1L915.6 619.5L915.1 621.0L914.6 622.5L914.0 624.0L913.5 625.4L912.9 626.9L912.4 628.4L911.8 629.8L911.2 631.3L910.7 632.8L910.1 634.2L909.5 635.7L908.9 637.1L908.3 638.5L907.7 640.0L907.0 641.4L906.4 642.9L905.8 644.3L905.1 645.7L904.4 647.1L903.8 648.5L903.1 650.0L902.4 651.4L901.7 652.8L901.0 654.2L900.3 655.6L899.6 657.0L898.9 658.3L898.2 659.7L897.5 661.1L896.7 662.5L896.0 663.9L895.2 665.2L894.5 666.6L893.7 667.9L892.9 669.3L892.1 670.6L891.3 672.0L890.5 673.3L889.7 674.6L888.9 676.0L888.1 677.3L887.3 678.6L886.4 679.9L885.6 681.2L884.7 682.5L883.9 683.8L883.0 685.1L882.1 686.4L881.2 687.7L880.3 688.9L879.4 690.2L878.5 691.5L877.6 692.7L876.7 694.0L875.8 695.2L874.8 696.4L873.9 697.7L872.9 698.9L872.0 700.1L871.0 701.3L870.0 702.5L869.1 703.7L868.1 704.9L867.1 706.1L866.1 707.3L865.1 708.5L864.0 709.6L863.0 710.8L862.0 711.9L861.0 713.1L859.9 714.2L858.9 715.3L857.8 716.5L856.7 717.6L855.6 718.7L854.6 719.8L853.5 720.9L852.4 722.0L851.3 723.0L850.2 724.1L849.0 725.2L847.9 726.2L846.8 727.3L845.6 728.3L844.5 729.3L843.3 730.3L842.2 731.4L841.0 732.4L839.8 733.4L838.6 734.4L837.4 735.3L836.2 736.3L835.0 737.3L833.8 738.2L832.6 739.2L831.3 740.1L830.1 741.0L828.9 742.0L827.6 742.9L826.3 743.8L825.1 744.7L823.8 745.5L822.5 746.4L821.2 747.3L819.9 748.1L818.6 749.0L817.3 749.8L816.0 750.7L814.7 751.5L813.4 752.3L812.0 753.1L810.7 753.9L809.3 754.6L808.0 755.4L806.6 756.2L805.2 756.9L803.8 757.7L802.5 758.4L801.1 759.1L799.7 759.8L798.3 760.5L796.9 761.2L795.4 761.9L794.0 762.6L792.6 763.3L791.2 763.9L789.7 764.6L788.3 765.2L786.8 765.8L785.4 766.4L783.9 767.0L782.5 767.6L781.0 768.2L779.5 768.8L778.0 769.4L776.6 769.9L775.1 770.5L773.6 771.0L772.1 771.5L770.6 772.0L769.1 772.6L767.6 773.0L766.1 773.5L764.5 774.0L763.0 774.5L761.5 774.9L760.0 775.4L758.4 775.8L756.9 776.2L755.4 776.7L753.8 777.1L752.3 777.5L750.7 777.9L749.2 778.2L747.6 778.6L746.1 779.0L744.5 779.3L742.9 779.6L741.4 780.0L739.8 780.3L738.3 780.6L736.7 780.9L735.1 781.2L733.5 781.4L732.0 781.7L730.4 782.0L728.8 782.2L727.2 782.4L725.6 782.7L724.1 782.9L722.5 783.1L720.9 783.3L719.3 783.5L717.7 783.6L716.1 783.8L714.5 784.0L712.9 784.1L711.3 784.2L709.7 784.4L708.2 784.5L706.6 784.6L705.0 784.7L703.4 784.7L701.8 784.8L700.2 784.9L698.6 784.9L697.0 784.9L695.4 785.0L693.8 785.0L692.2 785.0L690.6 785.0L689.0 785.0L687.4 785.0L685.9 784.9L684.3 784.9L682.7 784.8L681.1 784.7L679.5 784.7L677.9 784.6L676.3 784.5L674.8 784.4L673.2 784.3L671.6 784.1L670.0 784.0L668.5 783.8L666.9 783.7L665.3 783.5L663.7 783.3L662.2 783.1L660.6 782.9L659.1 782.7L657.5 782.5L655.9 782.2L654.4 782.0L652.8 781.7L651.3 781.4L649.7 781.2L648.2 780.9L646.7 780.6L645.1 780.3L643.6 779.9L642.1 779.6L640.6 779.2L639.0 778.9L637.5 778.5L636.0 778.1L634.5 777.8L633.0 777.4L631.5 776.9L630.0 776.5L628.5 776.1L627.0 775.6L625.5 775.2L624.1 774.7L622.6 774.2L621.1 773.8L619.6 773.3L618.2 772.8L616.7 772.2L615.3 771.7L613.8 771.2L612.4 770.6L610.9 770.1L609.5 769.5L608.0 768.9L606.6 768.4L605.2 767.8L603.8 767.2L602.4 766.5L600.9 765.9L599.5 765.3L598.1 764.6L596.7 764.0L595.3 763.3L594.0 762.6L592.6 762.0L591.2 761.3L589.8 760.6L588.4 759.9L587.1 759.1L585.7 758.4L584.4 757.7L583.0 756.9L581.7 756.2L580.3 755.4L579.0 754.6L577.7 753.9L576.3 753.1L575.0 752.3L573.7 751.5L572.4 750.6L571.1 749.8L569.8 749.0L568.5 748.1L567.2 747.3L565.9 746.4L564.7 745.6L563.4 744.7L562.1 743.8L560.9 742.9L559.6 742.0L558.3 741.1L557.1 740.2L555.9 739.3L554.6 738.3L553.4 737.4L552.2 736.4L551.0 735.5L549.8 734.5L548.5 733.5L547.3 732.6L546.2 731.6L545.0 730.6L543.8 729.6L542.6 728.6L541.4 727.6L540.3 726.5L539.1 725.5L538.0 724.5L536.8 723.4L535.7 722.4L534.5 721.3L533.4 720.2L532.3 719.2L531.2 718.1L530.1 717.0L529.0 715.9L527.9 714.8L526.8 713.7L525.7 712.6L524.6 711.5L523.5 710.3L522.5 709.2L521.4 708.1L520.4 706.9L519.3 705.8L518.3 704.6L517.2 703.4L516.2 702.3L515.2 701.1L514.2 699.9L513.2 698.7L512.2 697.5L511.2 696.3L510.2 695.1L509.2 693.9L508.2 692.6L507.3 691.4L506.3 690.2L505.4 688.9L504.4 687.7L503.5 686.5L502.5 685.2L501.6 683.9L500.7 682.7L499.8 681.4L498.9 680.1L498.0 678.8L497.1 677.6L496.2 676.3L495.4 675.0L494.5 673.7L493.6 672.3L492.8 671.0L491.9 669.7L491.1 668.4L490.3 667.1L489.4 665.7L488.6 664.4L487.8 663.0L487.0 661.7L486.2 660.3L485.4 659.0L484.7 657.6L483.9 656.3L483.1 654.9L482.4 653.5L481.6 652.1L480.9 650.8L480.2 649.4L479.4 648.0L478.7 646.6L478.0 645.2L477.3 643.8L476.6 642.4L475.9 641.0L475.3 639.5L474.6 638.1L473.9 636.7L473.3 635.3L472.7 633.8L472.0 632.4L471.4 631.0L470.8 629.5L470.2 628.1L469.6 626.6L469.0 625.2L468.4 623.7L467.8 622.3L467.2 620.8L466.7 619.3L466.1 617.9L465.6 616.4L465.1 614.9L464.5 613.5L464.0 612.0L463.5 610.5L463.0 609.0L462.5 607.5L462.0 606.0L461.6 604.5L461.1 603.0L460.6 601.5L460.2 600.0L459.7 598.5L459.3 597.0L458.9 595.5L458.5 594.0L458.1 592.5L457.7 591.0L457.3 589.5L456.9 587.9L456.6 586.4L456.2 584.9L455.9 583.4L455.5 581.8L455.2 580.3L454.9 578.8L454.5 577.2L454.2 575.7L454.0 574.2L453.7 572.6L453.4 571.1L453.1 569.5L452.9 568.0L452.6 566.5L452.4 564.9L452.2 563.4L451.9 561.8L451.7 560.3L451.5 558.7L451.4 557.1L451.2 555.6L451.0 554.0L450.8 552.5L450.7 550.9L450.6 549.4L450.4 547.8L450.3 546.2L450.2 544.7L450.1 543.1L450.0 541.6L449.9 540.0L449.9 538.4L449.8 536.9L449.7 535.3L449.7 533.7L449.7 532.2L449.7 530.6L449.6 529.0L449.6 527.5L449.7 525.9L449.7 524.3L449.7 522.8L449.8 521.2L449.8 519.6L449.9 518.1L449.9 516.5L450.0 514.9L450.1 513.4L450.2 511.8L450.3 510.2L450.4 508.7L450.5 507.1L450.6 505.6L450.7 504.0L450.8 502.4L450.9 500.9L451.0 499.3L451.0 497.7L451.1 496.1L451.2 494.6L451.2 493.0L451.3 491.4L451.3 489.9L451.3 488.3L451.3 486.7L451.3 485.2L451.3 483.6L451.2 482.0L451.2 480.5L451.1 478.9L451.0 477.3L450.8 475.8L450.7 474.2L450.5 472.6L450.3 471.0L450.0 469.5L449.8 467.9L449.4 466.3L449.1 464.8L448.7 463.2L448.3 461.7L447.8 460.4L447.2 459.1L446.5 458.0L445.7 457.2L444.8 456.6L443.7 456.3L442.7 456.2L441.6 456.3L440.5 456.6L439.4 457.2L438.4 457.9L437.4 458.8L436.5 459.8L435.6 461.0L434.6 462.4L433.7 463.8L432.9 465.3L432.0 466.9L431.1 468.6L430.2 470.4L429.3 472.1L428.4 474.0L427.5 475.8L426.6 477.6L425.6 479.4L424.7 481.2L423.7 483.0L422.7 484.6L421.7 486.3L420.7 487.8L419.7 489.3L418.7 490.7L417.6 491.9L416.6 493.1L415.5 494.1L414.5 494.9L413.4 495.6L412.4 496.1L411.3 496.4L410.2 496.5L409.1 496.4L408.0 496.0L407.0 495.5L405.9 494.8L405.0 493.9L404.2 492.9L403.5 491.9L402.9 490.8L402.6 489.7L402.4 488.6L402.3 487.5L402.3 486.3L402.5 485.1L402.8 483.8L403.2 482.6L403.7 481.3L404.3 480.0L404.9 478.6L405.7 477.3L406.5 475.9L407.3 474.5L408.2 473.1L409.2 471.7L410.2 470.3L411.2 468.8L412.2 467.3L413.2 465.9L414.3 464.4L415.3 462.9L416.3 461.4L417.3 459.9L418.3 458.4L419.2 456.9L420.0 455.4L420.8 453.9L421.6 452.4L422.3 450.8L423.0 449.3L423.6 447.8L424.1 446.3L424.6 444.8L425.1 443.3L425.5 441.7L425.8 440.2L426.2 438.7L426.5 437.2L426.7 435.6L426.9 434.1L427.1 432.6L427.3 431.1L427.4 429.5L427.5 428.0L427.5 426.5L427.5 425.0L427.5 423.4L427.5 421.9L427.5 420.4L427.4 418.8L427.3 417.3L427.2 415.8L427.1 414.2L427.0 412.7L426.8 411.2L426.7 409.6L426.5 408.1L426.3 406.6L426.1 405.0L425.9 403.5L425.8 402.0L425.6 400.4L425.4 398.9L425.2 397.3L425.0 395.8L424.8 394.3L424.6 392.7L424.4 391.2L424.3 389.6L424.1 388.1L424.0 386.6L423.9 385.0L423.7 383.5L423.7 381.9L423.6 380.4L423.5 378.8L423.5 377.3L423.5 375.8L423.5 374.2L423.5 372.7L423.5 371.1L423.6 369.6L423.6 368.0L423.7 366.5L423.8 364.9L423.9 363.4L424.0 361.8L424.2 360.3L424.3 358.7L424.5 357.2L424.6 355.6L424.8 354.1L425.0 352.5L425.2 351.0L425.4 349.4L425.6 347.8L425.8 346.3L426.0 344.7L426.3 343.2L426.5 341.6L426.7 340.0L427.0 338.5L427.2 336.9L427.5 335.4L427.7 333.8L428.0 332.2L428.2 330.7L428.5 329.1L428.7 327.5L429.0 326.0L429.3 324.4L429.6 322.8L429.8 321.3L430.1 319.7L430.4 318.1L430.7 316.6L431.0 315.0L431.3 313.4L431.7 311.9L432.0 310.3L432.3 308.8L432.6 307.2L433.0 305.7L433.3 304.1L433.7 302.6L434.1 301.0L434.4 299.5L434.8 297.9L435.2 296.4L435.6 294.9L436.0 293.3L436.4 291.8L436.8 290.3L437.2 288.8L437.6 287.3L438.1 285.7L438.5 284.2L439.0 282.7L439.5 281.2L439.9 279.7L440.4 278.3L440.9 276.8L441.4 275.3L441.9 273.8L442.5 272.3L443.0 270.9L443.5 269.4L444.1 268.0L444.6 266.5L445.2 265.1L445.8 263.7L446.4 262.2L447.0 260.8L447.6 259.4L448.3 258.0L448.9 256.6L449.6 255.2L450.2 253.8L450.9 252.4L451.6 251.1L452.3 249.7L453.0 248.3L453.7 247.0L454.5 245.7L455.2 244.3L456.0 243.0L456.8 241.7L457.5 240.4L458.3 239.1L459.1 237.8L460.0 236.5L460.8 235.2L461.6 233.9L462.5 232.6L463.3 231.3L464.2 230.1L465.0 228.8L465.9 227.5L466.8 226.3L467.7 225.0L468.6 223.8L469.5 222.5L470.4 221.3L471.3 220.0L472.2 218.8L473.2 217.6L474.1 216.3L475.0 215.1L476.0 213.9L476.9 212.7L477.9 211.4L478.8 210.2L479.8 209.0L480.8 207.8L481.7 206.5L482.7 205.3L483.7 204.1L484.6 202.9L485.6 201.6L486.6 200.4L487.6 199.2L488.5 198.0L489.5 196.7L490.5 195.5L491.5 194.3L492.4 193.0L493.4 191.8L494.4 190.6L495.4 189.3L496.4 188.1L497.4 186.9L498.4 185.7L499.4 184.4L500.3 183.2L501.3 182.0L502.3 180.8L503.3 179.5L504.3 178.3L505.4 177.1L506.4 175.9L507.4 174.7L508.4 173.5L509.4 172.3L510.4 171.1L511.4 169.9L512.5 168.7L513.5 167.5L514.5 166.4L515.6 165.2L516.6 164.0L517.6 162.9L518.7 161.7L519.7 160.6L520.8 159.4L521.9 158.3L522.9 157.2L524.0 156.0L525.1 154.9L526.1 153.8L527.2 152.7L528.3 151.6L529.4 150.6L530.5 149.5L531.6 148.4L532.7 147.4L533.8 146.3L534.9 145.3L536.0 144.3L537.2 143.3L538.3 142.3L539.4 141.3L540.6 140.3L541.7 139.3L542.9 138.3L544.0 137.4L545.2 136.4L546.4 135.4L547.5 134.5L548.7 133.6L549.9 132.6L551.1 131.7L552.3 130.8L553.5 129.8L554.7 128.9L555.9 128.0L557.1 127.1L558.4 126.2L559.6 125.3L560.8 124.4L562.1 123.5L563.3 122.6L564.5 121.7L565.8 120.8L567.1 120.0L568.3 119.1L569.6 118.2L570.9 117.3L572.2 116.4L573.4 115.5L574.7 114.7L576.0 113.8L577.3 112.9L578.6 112.0L579.9 111.1L581.3 110.2L582.6 109.3L583.9 108.5L585.3 107.6L586.6 106.7L587.9 105.8L589.3 104.9L590.6 104.0L592.0 103.1L593.4 102.3L594.7 101.4L596.1 100.5L597.5 99.6L598.8 98.8L600.2 97.9L601.6 97.1L603.0 96.2L604.4 95.4L605.8 94.5L607.2 93.7L608.6 92.8L610.0 92.0L611.4 91.2L612.8 90.4L614.3 89.6L615.7 88.8L617.1 88.0L618.5 87.2L620.0 86.4L621.4 85.7L622.8 84.9L624.3 84.2L625.7 83.4L627.2 82.7L628.6 82.0L630.1 81.3L631.5 80.6L633.0 79.9L634.4 79.2L635.9 78.6L637.3 77.9L638.8 77.3L640.3 76.7L641.7 76.1L643.2 75.5L644.7 74.9L646.1 74.4L647.6 73.8L649.1 73.3L650.5 72.8L652.0 72.3L653.5 71.8L655.0 71.3L656.4 70.9L657.9 70.4L659.4 70.0L660.9 69.6L662.4 69.2L663.8 68.9L665.3 68.5L666.8 68.2L668.3 67.9L669.8 67.6L671.2 67.4L672.7 67.1L674.2 66.9L675.7 66.7L677.1 66.5L678.6 66.4L680.1 66.2L681.6 66.1L683.1 66.0L684.5 66.0L686.0 65.9L687.5 65.9L689.0 65.9Z" fill="#fff" stroke="#000" stroke-width="9.6"/>
<path d="M689.0 65.9L690.4 66.0L691.9 66.0L693.4 66.1L694.8 66.2L696.3 66.3L697.8 66.5L699.2 66.7L700.7 66.9L702.2 67.1L703.6 67.3L705.1 67.6L706.5 67.9L708.0 68.2L709.5 68.5L710.9 68.8L712.4 69.2L713.8 69.6L715.3 70.0L716.7 70.4L718.2 70.8L719.6 71.3L721.1 71.7L722.5 72.2L724.0 72.7L725.4 73.2L726.8 73.8L728.3 74.3L729.7 74.9L731.2 75.5L732.6 76.1L734.0 76.7L735.5 77.3L736.9 77.9L738.3 78.6L739.8 79.2L741.2 79.9L742.6 80.6L744.1 81.3L745.5 82.0L746.9 82.7L748.3 83.4L749.8 84.2L751.2 84.9L752.6 85.7L754.0 86.5L755.5 87.2L756.9 88.0L758.3 88.8L759.7 89.6L761.1 90.4L762.5 91.2L764.0 92.0L765.4 92.9L766.8 93.7L768.2 94.5L769.6 95.4L771.0 96.2L772.4 97.1L773.8 98.0L775.2 98.8L776.6 99.7L778.0 100.5L779.4 101.4L780.8 102.3L782.2 103.2L783.6 104.0L785.0 104.9L786.4 105.8L787.8 106.7L789.2 107.5L790.6 108.4L792.0 109.3L793.4 110.2L794.8 111.1L796.1 111.9L797.5 112.8L798.9 113.7L800.3 114.5L801.7 115.4L803.1 116.3L804.4 117.1L805.8 118.0L807.2 118.8L808.6 119.7L810.0 120.5L811.3 121.3L812.7 122.2L814.1 123.0L815.4 123.8L816.8 124.6L818.2 125.4L819.6 126.2L820.9 127.0L822.3 127.8L823.6 128.6L825.0 129.3L826.4 130.1L827.7 130.9L829.1 131.6L830.4 132.4L831.8 133.2L833.1 133.9L834.5 134.7L835.8 135.4L837.1 136.2L838.5 136.9L839.8 137.7L841.1 138.4L842.4 139.2L843.8 140.0L845.1 140.7L846.4 141.5L847.7 142.3L849.0 143.0L850.3 143.8L851.5 144.6L852.8 145.4L854.1 146.2L855.4 147.0L856.6 147.8L857.9 148.6L859.1 149.4L860.4 150.3L861.6 151.1L862.9 152.0L864.1 152.8L865.3 153.7L866.5 154.6L867.7 155.5L868.9 156.4L870.1 157.3L871.3 158.2L872.5 159.2L873.6 160.1L874.8 161.1L875.9 162.1L877.1 163.1L878.2 164.1L879.3 165.1L880.5 166.1L881.6 167.2L882.7 168.2L883.8 169.3L884.9 170.3L885.9 171.4L887.0 172.5L888.1 173.6L889.1 174.7L890.2 175.8L891.2 176.9L892.3 178.1L893.3 179.2L894.3 180.4L895.3 181.5L896.3 182.7L897.3 183.9L898.3 185.1L899.3 186.3L900.2 187.5L901.2 188.7L902.2 189.9L903.1 191.2L904.0 192.4L905.0 193.7L905.9 194.9L906.8 196.2L907.7 197.5L908.6 198.7L909.5 200.0L910.4 201.3L911.2 202.6L912.1 204.0L913.0 205.3L913.8 206.6L914.6 207.9L915.5 209.3L916.3 210.6L917.1 212.0L917.9 213.3L918.7 214.7L919.5 216.1L920.3 217.5L921.0 218.8L921.8 220.2L922.6 221.6L923.3 223.0L924.0 224.5L924.8 225.9L925.5 227.3L926.2 228.7L926.9 230.1L927.6 231.6L928.3 233.0L929.0 234.5L929.6 235.9L930.3 237.4L930.9 238.8L931.6 240.3L932.2 241.8L932.8 243.2L933.5 244.7L934.1 246.2L934.7 247.7L935.2 249.2L935.8 250.6L936.4 252.1L937.0 253.6L937.5 255.1L938.1 256.6L938.6 258.2L939.1 259.7L939.6 261.2L940.1 262.7L940.6 264.2L941.1 265.7L941.6 267.2L942.1 268.8L942.5 270.3L943.0 271.8L943.4 273.4L943.9 274.9L944.3 276.4L944.7 278.0L945.1 279.5L945.5 281.0L945.9 282.6L946.3 284.1L946.7 285.7L947.0 287.2L947.4 288.7L947.7 290.3L948.0 291.8L948.4 293.4L948.7 294.9L949.0 296.5L949.3 298.0L949.6 299.6L949.8 301.1L950.1 302.6L950.4 304.2L950.6 305.7L950.9 307.3L951.1 308.8L951.3 310.4L951.5 311.9L951.7 313.5L951.9 315.0L952.1 316.5L952.3 318.1L952.5 319.6L952.6 321.2L952.8 322.7L953.0 324.3L953.1 325.8L953.2 327.3L953.4 328.9L953.5 330.4L953.6 332.0L953.7 333.5L953.8 335.0L954.0 336.6L954.0 338.1L954.1 339.7L954.2 341.2L954.3 342.7L954.4 344.3L954.5 345.8L954.5 347.4L954.6 348.9L954.7 350.4L954.7 352.0L954.8 353.5L954.8 355.1L954.9 356.6L954.9 358.1L955.0 359.7L955.0 361.2L955.1 362.8L955.1 364.3L955.1 365.8L955.2 367.4L955.2 368.9L955.2 370.4L955.2 372.0L955.3 373.5L955.3 375.1L955.3 376.6L955.3 378.1L955.4 379.7L955.4 381.2L955.4 382.7L955.4 384.3L955.4 385.8L955.5 387.4L955.5 388.9L955.5 390.4L955.5 392.0L955.6 393.5L955.6 395.0L955.6 396.6L955.6 398.1L955.7 399.7L955.7 401.2L955.7 402.7L955.8 404.3L955.8 405.8L955.9 407.3L955.9 408.9L955.9 410.4L956.0 411.9L956.1 413.5L956.1 415.0L956.2 416.6L956.2 418.1L956.3 419.6L956.4 421.2L956.5 422.7L956.6 424.2L956.7 425.8L956.8 427.3L957.0 428.8L957.1 430.3L957.3 431.8L957.6 433.3L957.8 434.8L958.1 436.3L958.5 437.8L958.9 439.3L959.3 440.7L959.8 442.2L960.4 443.6L961.0 445.0L961.7 446.4L962.4 447.8L963.2 449.1L964.1 450.5L965.0 451.8L966.1 453.1L967.2 454.4L968.4 455.7L969.6 456.9L971.0 458.2L972.4 459.4L973.9 460.6L975.4 461.8L976.8 463.0L978.2 464.2L979.4 465.5L980.6 466.7L981.6 468.0L982.4 469.4L983.0 470.8L983.4 472.2L983.5 473.7L983.3 475.3L982.9 476.9L982.3 478.4L981.6 479.8L980.7 481.1L979.8 482.2L978.8 483.1L977.8 483.8L976.8 484.3L975.8 484.5L974.8 484.5L973.8 484.3L972.7 483.9L971.7 483.3L970.6 482.6L969.6 481.8L968.5 480.8L967.4 479.7L966.3 478.5L965.2 477.2L964.1 475.8L962.9 474.3L961.8 472.8L960.6 471.2L959.5 469.6L958.3 468.0L957.1 466.4L955.9 464.8L954.7 463.2L953.5 461.6L952.2 460.1L951.0 458.7L949.7 457.3L948.5 456.0L947.2 454.8L945.9 453.7L944.6 452.7L943.2 451.9L942.0 451.3L940.7 450.9L939.6 450.7L938.6 450.7L937.7 451.1L937.0 451.8L936.4 452.7L935.9 453.9L935.5 455.2L935.2 456.6L934.9 458.0L934.6 459.4L934.3 460.8L934.0 462.2L933.8 463.6L933.5 465.0L933.3 466.5L933.1 467.9L933.0 469.4L932.8 470.9L932.6 472.3L932.5 473.8L932.4 475.3L932.3 476.8L932.2 478.3L932.1 479.8L932.0 481.3L931.9 482.9L931.9 484.4L931.8 485.9L931.8 487.5L931.7 489.0L931.7 490.6L931.7 492.1L931.7 493.7L931.7 495.3L931.7 496.8L931.7 498.4L931.7 500.0L931.7 501.6L931.7 503.1L931.7 504.7L931.8 506.3L931.8 507.9L931.8 509.5L931.8 511.1L931.8 512.7L931.9 514.3L931.9 515.9L931.9 517.5L931.9 519.1L931.9 520.7L931.9 522.3L931.9 523.9L931.9 525.5L931.9 527.1L931.9 528.7L931.8 530.3L931.8 531.9L931.8 533.5L931.7 535.1L931.6 536.7L931.6 538.2L931.5 539.8L931.4 541.4L931.3 543.0L931.2 544.6L931.1 546.1L931.0 547.7L930.8 549.3L930.7 550.9L930.5 552.4L930.4 554.0L930.2 555.6L930.0 557.1L929.9 558.7L929.7 560.3L929.5 561.8L929.2 563.4L929.0 564.9L928.8 566.5L928.6 568.0L928.3 569.6L928.1 571.1L927.8 572.7L927.5 574.2L927.2 575.7L926.9 577.3L926.7 578.8L926.3 580.3L926.0 581.9L925.7 583.4L925.4 584.9L925.0 586.5L924.7 588.0L924.3 589.5L924.0 591.0L923.6 592.5L923.2 594.1L922.8 595.6L922.5 597.1L922.0 598.6L921.6 600.1L921.2 601.6L920.8 603.1L920.4 604.6L919.9 606.1L919.5 607.6L919.0 609.1L918.6 610.6L918.1 612.1L917.6 613.6L917.1 615.1L916.6 616.6L916.1 618.1L915.6 619.5L915.1 621.0L914.6 622.5L914.0 624.0L913.5 625.4L912.9 626.9L912.4 628.4L911.8 629.8L911.2 631.3L910.7 632.8L910.1 634.2L909.5 635.7L908.9 637.1L908.3 638.5L907.7 640.0L907.0 641.4L906.4 642.9L905.8 644.3L905.1 645.7L904.4 647.1L903.8 648.5L903.1 650.0L902.4 651.4L901.7 652.8L901.0 654.2L900.3 655.6L899.6 657.0L898.9 658.3L898.2 659.7L897.5 661.1L896.7 662.5L896.0 663.9L895.2 665.2L894.5 666.6L893.7 667.9L892.9 669.3L892.1 670.6L891.3 672.0L890.5 673.3L889.7 674.6L888.9 676.0L888.1 677.3L887.3 678.6L886.4 679.9L885.6 681.2L884.7 682.5L883.9 683.8L883.0 685.1L882.1 686.4L881.2 687.7L880.3 688.9L879.4 690.2L878.5 691.5L877.6 692.7L876.7 694.0L875.8 695.2L874.8 696.4L873.9 697.7L872.9 698.9L872.0 700.1L871.0 701.3L870.0 702.5L869.1 703.7L868.1 704.9L867.1 706.1L866.1 707.3L865.1 708.5L864.0 709.6L863.0 710.8L862.0 711.9L861.0 713.1L859.9 714.2L858.9 715.3L857.8 716.5L856.7 717.6L855.6 718.7L854.6 719.8L853.5 720.9L852.4 722.0L851.3 723.0L850.2 724.1L849.0 725.2L847.9 726.2L846.8 727.3L845.6 728.3L844.5 729.3L843.3 730.3L842.2 731.4L841.0 732.4L839.8 733.4L838.6 734.4L837.4 735.3L836.2 736.3L835.0 737.3L833.8 738.2L832.6 739.2L831.3 740.1L830.1 741.0L828.9 742.0L827.6 742.9L826.3 743.8L825.1 744.7L823.8 745.5L822.5 746.4L821.2 747.3L819.9 748.1L818.6 749.0L817.3 749.8L816.0 750.7L814.7 751.5L813.4 752.3L812.0 753.1L810.7 753.9L809.3 754.6L808.0 755.4L806.6 756.2L805.2 756.9L803.8 757.7L802.5 758.4L801.1 759.1L799.7 759.8L798.3 760.5L796.9 761.2L795.4 761.9L794.0 762.6L792.6 763.3L791.2 763.9L789.7 764.6L788.3 765.2L786.8 765.8L785.4 766.4L783.9 767.0L782.5 767.6L781.0 768.2L779.5 768.8L778.0 769.4L776.6 769.9L775.1 770.5L773.6 771.0L772.1 771.5L770.6 772.0L769.1 772.6L767.6 773.0L766.1 773.5L764.5 774.0L763.0 774.5L761.5 774.9L760.0 775.4L758.4 775.8L756.9 776.2L755.4 776.7L753.8 777.1L752.3 777.5L750.7 777.9L749.2 778.2L747.6 778.6L746.1 779.0L744.5 779.3L742.9 779.6L741.4 780.0L739.8 780.3L738.3 780.6L736.7 780.9L735.1 781.2L733.5 781.4L732.0 781.7L730.4 782.0L728.8 782.2L727.2 782.4L725.6 782.7L724.1 782.9L722.5 783.1L720.9 783.3L719.3 783.5L717.7 783.6L716.1 783.8L714.5 784.0L712.9 784.1L711.3 784.2L709.7 784.4L708.2 784.5L706.6 784.6L705.0 784.7L703.4 784.7L701.8 784.8L700.2 784.9L698.6 784.9L697.0 784.9L695.4 785.0L693.8 785.0L692.2 785.0L690.6 785.0L689.0 785.0L687.4 785.0L685.9 784.9L684.3 784.9L682.7 784.8L681.1 784.7L679.5 784.7L677.9 784.6L676.3 784.5L674.8 784.4L673.2 784.3L671.6 784.1L670.0 784.0L668.5 783.8L666.9 783.7L665.3 783.5L663.7 783.3L662.2 783.1L660.6 782.9L659.1 782.7L657.5 782.5L655.9 782.2L654.4 782.0L652.8 781.7L651.3 781.4L649.7 781.2L648.2 780.9L646.7 780.6L645.1 780.3L643.6 779.9L642.1 779.6L640.6 779.2L639.0 778.9L637.5 778.5L636.0 778.1L634.5 777.8L633.0 777.4L631.5 776.9L630.0 776.5L628.5 776.1L627.0 775.6L625.5 775.2L624.1 774.7L622.6 774.2L621.1 773.8L619.6 773.3L618.2 772.8L616.7 772.2L615.3 771.7L613.8 771.2L612.4 770.6L610.9 770.1L609.5 769.5L608.0 768.9L606.6 768.4L605.2 767.8L603.8 767.2L602.4 766.5L600.9 765.9L599.5 765.3L598.1 764.6L596.7 764.0L595.3 763.3L594.0 762.6L592.6 762.0L591.2 761.3L589.8 760.6L588.4 759.9L587.1 759.1L585.7 758.4L584.4 757.7L583.0 756.9L581.7 756.2L580.3 755.4L579.0 754.6L577.7 753.9L576.3 753.1L575.0 752.3L573.7 751.5L572.4 750.6L571.1 749.8L569.8 749.0L568.5 748.1L567.2 747.3L565.9 746.4L564.7 745.6L563.4 744.7L562.1 743.8L560.9 742.9L559.6 742.0L558.3 741.1L557.1 740.2L555.9 739.3L554.6 738.3L553.4 737.4L552.2 736.4L551.0 735.5L549.8 734.5L548.5 733.5L547.3 732.6L546.2 731.6L545.0 730.6L543.8 729.6L542.6 728.6L541.4 727.6L540.3 726.5L539.1 725.5L538.0 724.5L536.8 723.4L535.7 722.4L534.5 721.3L533.4 720.2L532.3 719.2L531.2 718.1L530.1 717.0L529.0 715.9L527.9 714.8L526.8 713.7L525.7 712.6L524.6 711.5L523.5 710.3L522.5 709.2L521.4 708.1L520.4 706.9L519.3 705.8L518.3 704.6L517.2 703.4L516.2 702.3L515.2 701.1L514.2 699.9L513.2 698.7L512.2 697.5L511.2 696.3L510.2 695.1L509.2 693.9L508.2 692.6L507.3 691.4L506.3 690.2L505.4 688.9L504.4 687.7L503.5 686.5L502.5 685.2L501.6 683.9L500.7 682.7L499.8 681.4L498.9 680.1L498.0 678.8L497.1 677.6L496.2 676.3L495.4 675.0L494.5 673.7L493.6 672.3L492.8 671.0L491.9 669.7L491.1 668.4L490.3 667.1L489.4 665.7L488.6 664.4L487.8 663.0L487.0 661.7L486.2 660.3L485.4 659.0L484.7 657.6L483.9 656.3L483.1 654.9L482.4 653.5L481.6 652.1L480.9 650.8L480.2 649.4L479.4 648.0L478.7 646.6L478.0 645.2L477.3 643.8L476.6 642.4L475.9 641.0L475.3 639.5L474.6 638.1L473.9 636.7L473.3 635.3L472.7 633.8L472.0 632.4L471.4 631.0L470.8 629.5L470.2 628.1L469.6 626.6L469.0 625.2L468.4 623.7L467.8 622.3L467.2 620.8L466.7 619.3L466.1 617.9L465.6 616.4L465.1 614.9L464.5 613.5L464.0 612.0L463.5 610.5L463.0 609.0L462.5 607.5L462.0 606.0L461.6 604.5L461.1 603.0L460.6 601.5L460.2 600.0L459.7 598.5L459.3 597.0L458.9 595.5L458.5 594.0L458.1 592.5L457.7 591.0L457.3 589.5L456.9 587.9L456.6 586.4L456.2 584.9L455.9 583.4L455.5 581.8L455.2 580.3L454.9 578.8L454.5 577.2L454.2 575.7L454.0 574.2L453.7 572.6L453.4 571.1L453.1 569.5L452.9 568.0L452.6 566.5L452.4 564.9L452.2 563.4L451.9 561.8L451.7 560.3L451.5 558.7L451.4 557.1L451.2 555.6L451.0 554.0L450.8 552.5L450.7 550.9L450.6 549.4L450.4 547.8L450.3 546.2L450.2 544.7L450.1 543.1L450.0 541.6L449.9 540.0L449.9 538.4L449.8 536.9L449.7 535.3L449.7 533.7L449.7 532.2L449.7 530.6L449.6 529.0L449.6 527.5L449.7 525.9L449.7 524.3L449.7 522.8L449.8 521.2L449.8 519.6L449.9 518.1L449.9 516.5L450.0 514.9L450.1 513.4L450.2 511.8L450.3 510.2L450.4 508.7L450.5 507.1L450.6 505.6L450.7 504.0L450.8 502.4L450.9 500.9L451.0 499.3L451.0 497.7L451.1 496.1L451.2 494.6L451.2 493.0L451.3 491.4L451.3 489.9L451.3 488.3L451.3 486.7L451.3 485.2L451.3 483.6L451.2 482.0L451.2 480.5L451.1 478.9L451.0 477.3L450.8 475.8L450.7 474.2L450.5 472.6L450.3 471.0L450.0 469.5L449.8 467.9L449.4 466.3L449.1 464.8L448.7 463.2L448.3 461.7L447.8 460.4L447.2 459.1L446.5 458.0L445.7 457.2L444.8 456.6L443.7 456.3L442.7 456.2L441.6 456.3L440.5 456.6L439.4 457.2L438.4 457.9L437.4 458.8L436.5 459.8L435.6 461.0L434.6 462.4L433.7 463.8L432.9 465.3L432.0 466.9L431.1 468.6L430.2 470.4L429.3 472.1L428.4 474.0L427.5 475.8L426.6 477.6L425.6 479.4L424.7 481.2L423.7 483.0L422.7 484.6L421.7 486.3L420.7 487.8L419.7 489.3L418.7 490.7L417.6 491.9L416.6 493.1L415.5 494.1L414.5 494.9L413.4 495.6L412.4 496.1L411.3 496.4L410.2 496.5L409.1 496.4L408.0 496.0L407.0 495.5L405.9 494.8L405.0 493.9L404.2 492.9L403.5 491.9L402.9 490.8L402.6 489.7L402.4 488.6L402.3 487.5L402.3 486.3L402.5 485.1L402.8 483.8L403.2 482.6L403.7 481.3L404.3 480.0L404.9 478.6L405.7 477.3L406.5 475.9L407.3 474.5L408.2 473.1L409.2 471.7L410.2 470.3L411.2 468.8L412.2 467.3L413.2 465.9L414.3 464.4L415.3 462.9L416.3 461.4L417.3 459.9L418.3 458.4L419.2 456.9L420.0 455.4L420.8 453.9L421.6 452.4L422.3 450.8L423.0 449.3L423.6 447.8L424.1 446.3L424.6 444.8L425.1 443.3L425.5 441.7L425.8 440.2L426.2 438.7L426.5 437.2L426.7 435.6L426.9 434.1L427.1 432.6L427.3 431.1L427.4 429.5L427.5 428.0L427.5 426.5L427.5 425.0L427.5 423.4L427.5 421.9L427.5 420.4L427.4 418.8L427.3 417.3L427.2 415.8L427.1 414.2L427.0 412.7L426.8 411.2L426.7 409.6L426.5 408.1L426.3 406.6L426.1 405.0L425.9 403.5L425.8 402.0L425.6 400.4L425.4 398.9L425.2 397.3L425.0 395.8L424.8 394.3L424.6 392.7L424.4 391.2L424.3 389.6L424.1 388.1L424.0 386.6L423.9 385.0L423.7 383.5L423.7 381.9L423.6 380.4L423.5 378.8L423.5 377.3L423.5 375.8L423.5 374.2L423.5 372.7L423.5 371.1L423.6 369.6L423.6 368.0L423.7 366.5L423.8 364.9L423.9 363.4L424.0 361.8L424.2 360.3L424.3 358.7L424.5 357.2L424.6 355.6L424.8 354.1L425.0 352.5L425.2 351.0L425.4 349.4L425.6 347.8L425.8 346.3L426.0 344.7L426.3 343.2L426.5 341.6L426.7 340.0L427.0 338.5L427.2 336.9L427.5 335.4L427.7 333.8L428.0 332.2L428.2 330.7L428.5 329.1L428.7 327.5L429.0 326.0L429.3 324.4L429.6 322.8L429.8 321.3L430.1 319.7L430.4 318.1L430.7 316.6L431.0 315.0L431.3 313.4L431.7 311.9L432.0 310.3L432.3 308.8L432.6 307.2L433.0 305.7L433.3 304.1L433.7 302.6L434.1 301.0L434.4 299.5L434.8 297.9L435.2 296.4L435.6 294.9L436.0 293.3L436.4 291.8L436.8 290.3L437.2 288.8L437.6 287.3L438.1 285.7L438.5 284.2L439.0 282.7L439.5 281.2L439.9 279.7L440.4 278.3L440.9 276.8L441.4 275.3L441.9 273.8L442.5 272.3L443.0 270.9L443.5 269.4L444.1 268.0L444.6 266.5L445.2 265.1L445.8 263.7L446.4 262.2L447.0 260.8L447.6 259.4L448.3 258.0L448.9 256.6L449.6 255.2L450.2 253.8L450.9 252.4L451.6 251.1L452.3 249.7L453.0 248.3L453.7 247.0L454.5 245.7L455.2 244.3L456.0 243.0L456.8 241.7L457.5 240.4L458.3 239.1L459.1 237.8L460.0 236.5L460.8 235.2L461.6 233.9L462.5 232.6L463.3 231.3L464.2 230.1L465.0 228.8L465.9 227.5L466.8 226.3L467.7 225.0L468.6 223.8L469.5 222.5L470.4 221.3L471.3 220.0L472.2 218.8L473.2 217.6L474.1 216.3L475.0 215.1L476.0 213.9L476.9 212.7L477.9 211.4L478.8 210.2L479.8 209.0L480.8 207.8L481.7 206.5L482.7 205.3L483.7 204.1L484.6 202.9L485.6 201.6L486.6 200.4L487.6 199.2L488.5 198.0L489.5 196.7L490.5 195.5L491.5 194.3L492.4 193.0L493.4 191.8L494.4 190.6L495.4 189.3L496.4 188.1L497.4 186.9L498.4 185.7L499.4 184.4L500.3 183.2L501.3 182.0L502.3 180.8L503.3 179.5L504.3 178.3L505.4 177.1L506.4 175.9L507.4 174.7L508.4 173.5L509.4 172.3L510.4 171.1L511.4 169.9L512.5 168.7L513.5 167.5L514.5 166.4L515.6 165.2L516.6 164.0L517.6 162.9L518.7 161.7L519.7 160.6L520.8 159.4L521.9 158.3L522.9 157.2L524.0 156.0L525.1 154.9L526.1 153.8L527.2 152.7L528.3 151.6L529.4 150.6L530.5 149.5L531.6 148.4L532.7 147.4L533.8 146.3L534.9 145.3L536.0 144.3L537.2 143.3L538.3 142.3L539.4 141.3L540.6 140.3L541.7 139.3L542.9 138.3L544.0 137.4L545.2 136.4L546.4 135.4L547.5 134.5L548.7 133.6L549.9 132.6L551.1 131.7L552.3 130.8L553.5 129.8L554.7 128.9L555.9 128.0L557.1 127.1L558.4 126.2L559.6 125.3L560.8 124.4L562.1 123.5L563.3 122.6L564.5 121.7L565.8 120.8L567.1 120.0L568.3 119.1L569.6 118.2L570.9 117.3L572.2 116.4L573.4 115.5L574.7 114.7L576.0 113.8L577.3 112.9L578.6 112.0L579.9 111.1L581.3 110.2L582.6 109.3L583.9 108.5L585.3 107.6L586.6 106.7L587.9 105.8L589.3 104.9L590.6 104.0L592.0 103.1L593.4 102.3L594.7 101.4L596.1 100.5L597.5 99.6L598.8 98.8L600.2 97.9L601.6 97.1L603.0 96.2L604.4 95.4L605.8 94.5L607.2 93.7L608.6 92.8L610.0 92.0L611.4 91.2L612.8 90.4L614.3 89.6L615.7 88.8L617.1 88.0L618.5 87.2L620.0 86.4L621.4 85.7L622.8 84.9L624.3 84.2L625.7 83.4L627.2 82.7L628.6 82.0L630.1 81.3L631.5 80.6L633.0 79.9L634.4 79.2L635.9 78.6L637.3 77.9L638.8 77.3L640.3 76.7L641.7 76.1L643.2 75.5L644.7 74.9L646.1 74.4L647.6 73.8L649.1 73.3L650.5 72.8L652.0 72.3L653.5 71.8L655.0 71.3L656.4 70.9L657.9 70.4L659.4 70.0L660.9 69.6L662.4 69.2L663.8 68.9L665.3 68.5L666.8 68.2L668.3 67.9L669.8 67.6L671.2 67.4L672.7 67.1L674.2 66.9L675.7 66.7L677.1 66.5L678.6 66.4L680.1 66.2L681.6 66.1L683.1 66.0L684.5 66.0L686.0 65.9L687.5 65.9L689.0 65.9Z" fill="none" stroke="#fff" stroke-width="4.6"/>
<path d="M551 368C554.2 360 567.3 362.7 575 362C582.7 361.3 590.8 363.7 597 364C603.2 364.3 607 361 612 364C617 367 624.3 374.3 627 382C629.7 389.7 628.8 402.8 628 410C627.2 417.2 625.8 420.8 622 425C618.2 429.2 611.2 432.5 605 435C598.8 437.5 591.2 440.5 585 440C578.8 439.5 572.8 437 568 432C563.2 427 558.8 420.7 556 410C553.2 399.3 547.8 376 551 368Z" fill="#a9a9a9" stroke="#000" stroke-width="0" stroke-linejoin="round" />
<path d="M447 372C447.5 367.2 452.5 365.5 455 366C457.5 366.5 459.5 371 462 375C464.5 379 466.7 385.5 470 390C473.3 394.5 478.3 399 482 402C485.7 405 486.5 407 492 408C497.5 409 507 409.7 515 408C523 406.3 532.3 398.8 540 398C547.7 397.2 555.5 400.3 561 403C566.5 405.7 571.3 409.8 573 414C574.7 418.2 574 423.7 571 428C568 432.3 561.7 436.5 555 440C548.3 443.5 540.2 446 531 449C521.8 452 508.5 454.7 500 458C491.5 461.3 485.7 467.7 480 469C474.3 470.3 469.5 468.8 466 466C462.5 463.2 460.7 458.8 459 452C457.3 445.2 457.2 434.5 456 425C454.8 415.5 453.5 403.8 452 395C450.5 386.2 446.5 376.8 447 372Z" fill="url(#plg)" stroke="#000" stroke-width="2.4" stroke-linejoin="round" />
<path d="M505 338C511 329.7 520.5 331.3 530 330C539.5 328.7 556 327.5 562 330C568 332.5 565.3 338.7 566 345C566.7 351.3 566.8 361.5 566 368C565.2 374.5 563.7 379.7 561 384C558.3 388.3 554.3 391.5 550 394C545.7 396.5 540.3 397.2 535 399C529.7 400.8 524.2 403.2 518 405C511.8 406.8 502 414.2 498 410C494 405.8 492.8 392 494 380C495.2 368 499 346.3 505 338Z" fill="#606060" stroke="#000" stroke-width="2.4" stroke-linejoin="round" />
<path d="M519.5 230C522.3 230.7 526.1 234.8 527 239C527.9 243.2 525.7 250.3 525 255C524.3 259.7 524.1 263.2 523 267C521.9 270.8 520.4 272.5 518.6 278C516.8 283.5 514.6 291.3 512 300C509.4 308.7 505.8 320 503 330C500.2 340 497 350 495 360C493 370 491.5 382 491 390C490.5 398 494.2 406.7 492 408C489.8 409.3 482.5 402.5 478 398C473.5 393.5 468.2 386.5 465 381C461.8 375.5 460.2 371.7 459 365C457.8 358.3 457.5 349.7 458 341C458.5 332.3 459.9 321.4 461.8 313C463.7 304.6 466.7 298.2 469.2 290.8C471.7 283.4 473 275.5 476.7 268.4C480.4 261.3 486.1 253.6 491.6 248C497.2 242.4 505.4 238 510 235C514.6 232 516.7 229.3 519.5 230Z" fill="url(#pd)" stroke="#000" stroke-width="2.4" stroke-linejoin="round" />
<path d="M530 300C534 296.7 537.7 295 542 295C546.3 295 552.5 297 556 300C559.5 303 561.7 308 563 313C564.3 318 564.5 325 564 330C563.5 335 563.2 339.7 560 343C556.8 346.3 550 348 545 350C540 352 535.2 353 530 355C524.8 357 517.2 364.5 514 362C510.8 359.5 510.3 347.8 511 340C511.7 332.2 514.8 321.7 518 315C521.2 308.3 526 303.3 530 300Z" fill="url(#pd)" stroke="#000" stroke-width="2.4" stroke-linejoin="round" />
<path d="M560 302C562.8 298.2 567 297.3 572 297C577 296.7 584.5 300.7 590 300C595.5 299.3 600.6 293 605 292.7C609.4 292.4 613.7 294.5 616.4 298.2C619.1 301.9 620.4 309.4 621 315C621.6 320.6 620.7 325.6 620 331.8C619.3 338 619.2 345.8 617 352C614.8 358.2 611.5 365.2 607 369C602.5 372.8 595.2 374.3 590 375C584.8 375.7 580.5 375.2 576 373C571.5 370.8 566.5 366.7 563 362C559.5 357.3 556.3 352 555 345C553.7 338 554.2 327.2 555 320C555.8 312.8 557.2 305.8 560 302Z" fill="url(#pd)" stroke="#000" stroke-width="2.4" stroke-linejoin="round" />
<path d="M592 302C590.5 304.7 586 312.5 583 318C580 323.5 576.8 329.3 574 335C571.2 340.7 567.3 349.2 566 352" fill="none" stroke="#000" stroke-width="2.2"/>
<path d="M494.1 361.5L490.3 376.1L487.1 390.8L486 397L486.5 399.7L488.1 401.9L490.3 403.5L493 404L495 403.7L496.9 402.8L498.4 401.4L499.5 399.7L507.5 369.2L515.8 342.1L523 320.7L533.1 295.5L533.5 293.8L533.5 292.2L533.1 290.5L532.5 289L531 287L529.7 285.9L528.3 285.1L526.7 284.7L525 284.5L523.3 284.7L521.7 285.1L520.3 285.9L519 287L517.9 288.3L517.1 289.7L508.8 315.8L500.9 339.4Z" fill="#7a7a7a" stroke="#000" stroke-width="2.6" stroke-linejoin="round" />
<g fill="#fff" stroke="#000" stroke-width="1.5"></g>
<g fill="#000"><circle cx="506.5" cy="342.6" r="1.6"/><circle cx="519.3" cy="299.8" r="1.6"/><circle cx="499" cy="377.9" r="1.6"/><circle cx="514.6" cy="328.5" r="1.6"/><circle cx="519.4" cy="294.6" r="1.6"/><circle cx="501.5" cy="367.1" r="1.6"/><circle cx="502.3" cy="352" r="1.6"/><circle cx="500.2" cy="362" r="1.6"/><circle cx="507.6" cy="350" r="1.6"/><circle cx="495.1" cy="393" r="1.6"/><circle cx="491.3" cy="398.7" r="1.6"/><circle cx="514.5" cy="323" r="1.6"/><circle cx="522.8" cy="309.2" r="1.6"/></g>
<path d="M493.1 212.9L484.6 225.1L481.5 230.1L479.7 233.5L474.3 244.9L470 255.5L469.5 257.1L469.8 257.8L470.3 258.3L471.6 258.4L472.8 257.2L483.7 240.6L492.6 228.2L499.2 219.7L506.4 211.4L517.9 200L531.3 188.4L540.6 180.9L554.1 171L572.5 155.8L574 154.1L574.5 152.4L574.3 150.7L573.5 149.1L572.1 148L570 147.5L568.3 147.8L566.1 148.9L556.6 154.3L546.4 160.6L535.7 168.9L523.7 179L514.6 187.9L503.1 200.4Z" fill="url(#pc)" stroke="#000" stroke-width="2.6" stroke-linejoin="round" />
<path d="M586.4 134.4L585 136L577 148.8L574.4 153.3L573.6 155.3L573.5 156.2L573.9 157.4L574.8 158.2L575.8 158.5L576.7 158.4L579.8 156.8L585.3 153.1L596.1 145.1L597 144L607 126.9L608.5 123.5L608.2 121.8L607.6 121.1L606.5 120.5L605.3 120.6L604.1 121.2L599.5 124.3Z" fill="url(#pc)" stroke="#000" stroke-width="2.6" stroke-linejoin="round" />
<path d="M658.2 88.4L636.8 93.5L632.7 94.9L628.6 96.7L625.3 98.6L620 104.1L612.7 113.1L607.7 120.3L607.5 121.1L607.8 122L608.4 122.4L609.1 122.5L610.6 121.8L622.7 112.3L627 109.1L633.3 105.4L637.6 103.4L650.6 99.6L658.7 97.5L665.9 96.2L673.8 95.4L683.1 95.1L692.3 95.6L701.8 96.8L714.9 99.2L723.7 101.3L736.1 104.8L746 108.3L756.8 112.8L757.4 112.7L757.8 112.2L757.6 111.4L755.5 109.8L747.1 104.1L740.1 100.3L733.3 97.2L724.7 94L716.8 91.5L710.2 89.9L700.7 88L693.2 86.9L687.2 86.4L680.3 86.4L672.9 86.7L665 87.4Z" fill="url(#pc)" stroke="#000" stroke-width="2.6" stroke-linejoin="round" />
<path d="M601 165C602.5 164.2 598.5 168.2 597 172C595.5 175.8 593.4 182.2 591.7 188C590 193.8 588.4 200.4 587 206.6C585.6 212.8 584.1 218.6 583.3 225C582.5 231.4 582.6 238.3 582.4 245C582.2 251.7 582.7 259.5 582 265C581.3 270.5 580 275.3 578 278C576 280.7 572.5 281.7 570 281C567.5 280.3 564.5 278.3 563 274C561.5 269.7 561 261.5 560.8 255C560.6 248.5 561.2 241 561.9 235C562.6 229 563.8 223.7 565 219C566.2 214.3 567.3 211 569.3 206.6C571.3 202.2 573.7 197.5 576.8 192.6C579.9 187.7 584 181.6 588 177C592 172.4 599.5 165.8 601 165Z" fill="url(#pc)" stroke="#000" stroke-width="2.6" stroke-linejoin="round" />
<path d="M628 292.3C626.4 288.8 625.7 289.6 624.2 287.2C622.7 284.8 620.1 281.8 619 278.2C617.9 274.6 618.4 270.7 617.8 265.4C617.2 260.1 615.9 252.6 615.2 246.2C614.6 239.8 613.3 232.3 613.9 227C614.5 221.7 616 219.5 619 214.2C622 208.9 628.9 199.9 631.8 195C634.7 190.1 635.4 188.6 636.6 184.7C637.8 180.8 637.5 175.2 639.2 171.8C640.9 168.4 644.2 165 646.8 164.2C649.3 163.3 652.1 164.8 654.5 166.7C656.9 168.6 658.8 176.1 660.9 175.7C663 175.3 664.7 165.9 667.3 164.2C669.9 162.5 673.9 162.2 676.3 165.4C678.6 168.6 679.1 182.5 681.4 183.4C683.7 184.3 686.4 174.4 690 170.6C693.6 166.8 698.5 161.8 702.8 160.3C707.1 158.8 711.3 159.7 715.6 161.6C719.9 163.5 724.5 168 728.4 171.8C732.2 175.7 735.9 180.4 738.7 184.7C741.5 189 743.7 192.6 745.1 197.5C746.5 202.4 746.4 207.1 747.4 214.2C748.4 221.2 749.9 231.3 751.2 239.8C752.5 248.3 753.8 257.5 755.1 265.4C756.4 273.3 758.6 281.4 758.9 287.2C759.2 293 759.3 294.9 757 300C754.7 305.1 750.3 313 745 318C739.7 323 732 327.2 725 330C718 332.8 710.5 333.8 703 334.5C695.5 335.2 686.8 334.4 680 334C673.2 333.6 667.8 334 662 332C656.2 330 649.7 326 645 322C640.3 318 636.8 312.9 634 308C631.2 303.1 629.6 295.8 628 292.3Z" fill="#fff" stroke="#000" stroke-width="1.0" stroke-linejoin="round" />
<g fill="#000"><circle cx="677.8" cy="285.2" r="1"/><circle cx="653.9" cy="247.1" r="1.9"/><circle cx="711.5" cy="298.9" r="1"/><circle cx="669.7" cy="173.3" r="1"/><circle cx="656.7" cy="316.9" r="1.9"/><circle cx="646.2" cy="239" r="1.9"/><circle cx="700.5" cy="323.8" r="1"/><circle cx="648.6" cy="255.4" r="1.9"/><circle cx="689.7" cy="289.8" r="1"/><circle cx="710.1" cy="241.7" r="1"/><circle cx="668.5" cy="243.3" r="1"/><circle cx="667.6" cy="304.7" r="1"/><circle cx="724.1" cy="215.5" r="1.9"/><circle cx="696.6" cy="209" r="1"/><circle cx="679.8" cy="222.1" r="1"/><circle cx="708.5" cy="225.1" r="1"/><circle cx="674.2" cy="316.3" r="1"/><circle cx="641.6" cy="288.2" r="1"/><circle cx="675.5" cy="234.6" r="1"/><circle cx="705.3" cy="251.1" r="1"/><circle cx="629.2" cy="282.8" r="1"/><circle cx="689.8" cy="280.5" r="1"/><circle cx="750.3" cy="278.3" r="1"/><circle cx="623.7" cy="214.6" r="1"/><circle cx="699.4" cy="202.1" r="1"/><circle cx="735.3" cy="242.4" r="1"/><circle cx="734.3" cy="184.4" r="1"/><circle cx="659.6" cy="240.9" r="1.9"/><circle cx="720.3" cy="244.7" r="1"/><circle cx="635.4" cy="220.5" r="1.9"/><circle cx="661.8" cy="213.2" r="1"/><circle cx="639.5" cy="232.7" r="1"/><circle cx="679.1" cy="293.9" r="1"/><circle cx="728" cy="251" r="1.9"/><circle cx="740.7" cy="276.9" r="1.9"/><circle cx="728.6" cy="321.9" r="1"/><circle cx="728" cy="284.1" r="1"/><circle cx="636.9" cy="274.2" r="1"/><circle cx="625.9" cy="222.8" r="1"/><circle cx="730.3" cy="234.8" r="1"/><circle cx="700.4" cy="286" r="1"/><circle cx="731.5" cy="291.5" r="1"/><circle cx="617.2" cy="233.6" r="1"/><circle cx="692.2" cy="265.5" r="1"/><circle cx="634.2" cy="201.3" r="1"/><circle cx="708.7" cy="184.6" r="1"/><circle cx="691" cy="297.7" r="1"/><circle cx="640" cy="311.3" r="1"/><circle cx="693.4" cy="190.1" r="1"/><circle cx="617.4" cy="223.6" r="1"/><circle cx="619.5" cy="251.4" r="1"/><circle cx="714" cy="234.7" r="1"/><circle cx="746.3" cy="240.1" r="1.9"/><circle cx="724.5" cy="309.5" r="1"/><circle cx="701.8" cy="310.6" r="1"/><circle cx="655.1" cy="182.6" r="1"/><circle cx="710.6" cy="174.2" r="1"/><circle cx="666.9" cy="233.2" r="1.9"/><circle cx="641.7" cy="250.7" r="1"/><circle cx="691.3" cy="216" r="1"/><circle cx="719.7" cy="189.3" r="1"/><circle cx="643.2" cy="222.4" r="1"/><circle cx="669.3" cy="197.2" r="1.9"/><circle cx="745.2" cy="303" r="1"/><circle cx="745.7" cy="227.2" r="1"/><circle cx="707.5" cy="263.4" r="1"/><circle cx="721.8" cy="172.5" r="1"/><circle cx="720.8" cy="323.1" r="1.9"/><circle cx="710.6" cy="283.2" r="1.9"/><circle cx="675.8" cy="263.1" r="1"/><circle cx="731.1" cy="270.4" r="1"/><circle cx="659.4" cy="204" r="1.9"/><circle cx="699.9" cy="177.7" r="1"/><circle cx="732.3" cy="260.9" r="1"/><circle cx="659.8" cy="290.4" r="1"/><circle cx="692.4" cy="239.9" r="1"/><circle cx="695.1" cy="314.2" r="1"/><circle cx="700.2" cy="219.4" r="1"/><circle cx="668.3" cy="223.6" r="1.9"/><circle cx="739.2" cy="217.8" r="1.9"/><circle cx="673.1" cy="189.3" r="1"/><circle cx="687.6" cy="182.2" r="1"/><circle cx="738.2" cy="310.5" r="1"/><circle cx="716.9" cy="178.7" r="1"/><circle cx="649.6" cy="275.2" r="1"/><circle cx="668.7" cy="294" r="1"/><circle cx="741.5" cy="251.3" r="1.9"/><circle cx="733.1" cy="202.5" r="1"/><circle cx="691.9" cy="230" r="1"/><circle cx="682.4" cy="209" r="1.9"/><circle cx="706.7" cy="209.9" r="1"/><circle cx="682.3" cy="327.1" r="1.9"/><circle cx="664.3" cy="283.3" r="1"/><circle cx="734.1" cy="223.4" r="1.9"/><circle cx="655.7" cy="194.8" r="1"/><circle cx="684.7" cy="257" r="1"/><circle cx="706.9" cy="318.9" r="1"/><circle cx="654.3" cy="216.6" r="1"/><circle cx="651.1" cy="225.4" r="1"/><circle cx="674.2" cy="272" r="1"/><circle cx="670.5" cy="204.9" r="1"/><circle cx="754.5" cy="295.6" r="1"/><circle cx="687" cy="224.5" r="1"/><circle cx="644.9" cy="205.2" r="1"/><circle cx="751.1" cy="259.1" r="1.9"/><circle cx="654.4" cy="261.4" r="1"/><circle cx="683.4" cy="315.7" r="1"/><circle cx="684.8" cy="243.2" r="1"/><circle cx="666.3" cy="324.8" r="1"/><circle cx="669" cy="182" r="1"/><circle cx="703" cy="275.9" r="1"/><circle cx="648.4" cy="167.2" r="1"/><circle cx="655.1" cy="308.9" r="1"/><circle cx="714.8" cy="273.3" r="1"/><circle cx="676.7" cy="249.2" r="1"/><circle cx="686" cy="197.5" r="1"/><circle cx="634.7" cy="296.5" r="1"/><circle cx="714.4" cy="307.9" r="1"/><circle cx="625.7" cy="236.2" r="1"/><circle cx="628" cy="255.3" r="1.9"/><circle cx="622.3" cy="278.2" r="1"/><circle cx="739.1" cy="232.4" r="1"/><circle cx="679.2" cy="307.7" r="1"/><circle cx="714.4" cy="317.4" r="1.9"/><circle cx="658.5" cy="269.3" r="1.9"/><circle cx="649.9" cy="286.8" r="1"/><circle cx="708.6" cy="197.7" r="1"/><circle cx="662.2" cy="255.8" r="1"/><circle cx="723.5" cy="270.4" r="1"/><circle cx="642.6" cy="268.1" r="1"/><circle cx="741.6" cy="264.1" r="1"/><circle cx="649.6" cy="299.1" r="1"/><circle cx="646.2" cy="214.9" r="1"/><circle cx="666" cy="263.8" r="1"/><circle cx="699.4" cy="256.1" r="1.9"/><circle cx="638.8" cy="243" r="1"/><circle cx="717.6" cy="196.8" r="1"/><circle cx="711.8" cy="164.3" r="1"/><circle cx="727.2" cy="190" r="1"/><circle cx="621.5" cy="263.4" r="1"/><circle cx="629" cy="268.8" r="1.9"/><circle cx="723.8" cy="290.8" r="1"/><circle cx="643.4" cy="187.1" r="1"/><circle cx="658.7" cy="224.4" r="1"/><circle cx="656.5" cy="280.1" r="1"/><circle cx="623.1" cy="244.9" r="1"/><circle cx="642.5" cy="176.7" r="1"/><circle cx="716.3" cy="263.6" r="1"/><circle cx="633.7" cy="211.1" r="1"/><circle cx="747.1" cy="293.9" r="1.9"/><circle cx="690.3" cy="308.5" r="1.9"/><circle cx="640.8" cy="302.2" r="1"/><circle cx="669.5" cy="212.8" r="1"/><circle cx="691.1" cy="321.4" r="1"/><circle cx="710.7" cy="331" r="1"/><circle cx="637.4" cy="281.7" r="1"/><circle cx="726.6" cy="198.3" r="1"/><circle cx="648.9" cy="314.7" r="1"/><circle cx="748.8" cy="267.3" r="1"/><circle cx="733.5" cy="210.1" r="1"/><circle cx="739" cy="291.9" r="1"/><circle cx="715.7" cy="213.6" r="1"/><circle cx="702.1" cy="239.1" r="1"/><circle cx="745.2" cy="284.3" r="1.9"/><circle cx="631.2" cy="247.1" r="1"/><circle cx="723.8" cy="299" r="1"/><circle cx="683.9" cy="275.6" r="1"/><circle cx="701.4" cy="190.9" r="1.9"/><circle cx="718" cy="228.4" r="1"/><circle cx="694.8" cy="331" r="1"/><circle cx="643.6" cy="194.6" r="1"/><circle cx="705.2" cy="232" r="1"/><circle cx="689.7" cy="251.3" r="1"/><circle cx="738.8" cy="318.6" r="1"/><circle cx="742.2" cy="202.1" r="1"/><circle cx="705.3" cy="292.7" r="1"/><circle cx="689" cy="204.8" r="1"/><circle cx="755.4" cy="284.1" r="1"/><circle cx="717" cy="253.6" r="1"/><circle cx="664.8" cy="313.4" r="1"/><circle cx="663.2" cy="190.4" r="1"/><circle cx="749.4" cy="247.5" r="1"/><circle cx="654.5" cy="324.3" r="1"/><circle cx="724.2" cy="259.5" r="1"/><circle cx="733.5" cy="194.1" r="1"/><circle cx="726.5" cy="179.7" r="1"/><circle cx="732.9" cy="300.7" r="1"/><circle cx="714.3" cy="205.1" r="1.9"/><circle cx="658.1" cy="298.8" r="1"/><circle cx="638.6" cy="257.8" r="1"/><circle cx="684.6" cy="189.2" r="1"/><circle cx="701.2" cy="168" r="1"/><circle cx="655.9" cy="232.4" r="1"/><circle cx="661.8" cy="178.8" r="1"/><circle cx="678.6" cy="202.1" r="1"/><circle cx="731" cy="314.5" r="1"/><circle cx="683.9" cy="234.9" r="1"/><circle cx="722.7" cy="236.5" r="1"/><circle cx="720.5" cy="283.1" r="1"/><circle cx="702.9" cy="301.5" r="1.9"/><circle cx="653" cy="174.8" r="1"/><circle cx="714.6" cy="290.5" r="1"/><circle cx="736.2" cy="284.4" r="1"/><circle cx="697.3" cy="245.7" r="1"/><circle cx="668.2" cy="250.9" r="1"/><circle cx="684" cy="301.7" r="1"/><circle cx="674.1" cy="328.3" r="1.9"/><circle cx="671.3" cy="280.4" r="1.9"/><circle cx="695.5" cy="275.6" r="1"/><circle cx="692" cy="176" r="1"/><circle cx="744.3" cy="210.4" r="1"/><circle cx="724.4" cy="206.6" r="1"/><circle cx="627.3" cy="206.3" r="1"/><circle cx="635.8" cy="193.1" r="1"/><circle cx="745.5" cy="312.2" r="1"/><circle cx="631.9" cy="228.4" r="1"/><circle cx="699.9" cy="264.1" r="1"/><circle cx="727.6" cy="227.3" r="1.9"/><circle cx="671.6" cy="165.7" r="1"/><circle cx="683.4" cy="267.4" r="1"/><circle cx="664.3" cy="274.6" r="1"/><circle cx="653.7" cy="209" r="1.9"/><circle cx="647.9" cy="306.5" r="1"/><circle cx="708.6" cy="217.1" r="1"/><circle cx="676.6" cy="180.8" r="1"/><circle cx="650.3" cy="200.2" r="1"/><circle cx="697" cy="293.4" r="1"/><circle cx="675.9" cy="300.6" r="1.9"/><circle cx="732.6" cy="277.8" r="1.9"/><circle cx="630.3" cy="290.6" r="1"/><circle cx="650.7" cy="188.6" r="1"/><circle cx="676.5" cy="215.5" r="1"/><circle cx="719" cy="220.9" r="1"/><circle cx="650.7" cy="267.8" r="1"/><circle cx="703.2" cy="331" r="1.9"/><circle cx="631.9" cy="261.7" r="1.9"/><circle cx="633.4" cy="237.6" r="1.9"/><circle cx="678.9" cy="194.4" r="1"/><circle cx="741.4" cy="194.6" r="1.9"/></g>
<path d="M593.4 301.3C590.7 301.9 589.5 300 588.3 297.5C587.1 295 586.5 290.5 585.7 284.7C584.9 278.9 583.7 265.7 583.2 259C582.7 252.3 582.4 245.1 582.4 240C582.4 234.9 582.6 230 583.3 225C584 220 585.7 212.2 587 206.6C588.3 201 590.2 193.2 591.7 188C593.2 182.8 595.5 176.3 597.3 172C599.1 167.7 601.4 163.8 604 159C606.6 154.2 611.3 144.2 614.8 140C618.3 135.8 622.8 133.6 627.6 130.9C632.4 128.2 642 124.4 646.8 121.9C651.6 119.4 655.3 116.5 659.7 114.2C664.1 111.9 671.9 107.3 676.3 106.5C680.7 105.7 685.1 108 689.1 109.1C693.1 110.2 698.8 113 702.8 113.6C706.8 114.2 711.8 112.2 715.6 112.9C719.4 113.6 724.6 116.1 728.4 118C732.2 119.9 737.7 122.8 741.2 125.7C744.7 128.6 748.4 133.4 751.5 137.3C754.6 141.2 759 147.6 761.7 151.4C764.4 155.2 767.1 159.6 769.4 162.9C771.7 166.2 775 168.3 777.1 173.1C779.2 177.9 781.3 188.8 783.2 195C785.1 201.2 788.2 208.4 789.7 214.2C791.2 220 792.7 227.6 793.5 233.4C794.3 239.2 795.2 247.6 794.8 252.6C794.4 257.6 792.8 262.9 790.9 266.7C789 270.5 784.9 275.3 782 278.2C779.1 281.1 774.6 284 771.7 285.9C768.8 287.8 764.7 290.8 762.8 291C760.9 291.2 760.1 291 758.9 287.2C757.7 283.4 756.3 272.5 755.1 265.4C753.9 258.3 752.4 247.5 751.2 239.8C750 232.1 748.3 220.5 747.4 214.2C746.5 207.9 746.4 201.9 745.1 197.5C743.8 193.1 741.2 188.6 738.7 184.7C736.2 180.8 731.9 175.3 728.4 171.8C724.9 168.3 719.4 163.3 715.6 161.6C711.8 159.9 706.6 159 702.8 160.3C699 161.7 693.2 167.1 690 170.6C686.8 174.1 683.5 184.2 681.4 183.4C679.3 182.6 678.4 168.3 676.3 165.4C674.2 162.5 669.6 162.7 667.3 164.2C665 165.7 662.8 175.3 660.9 175.7C659 176.1 656.6 168.4 654.5 166.7C652.4 165 649.1 163.4 646.8 164.2C644.5 165 640.7 168.7 639.2 171.8C637.7 174.9 637.7 181.2 636.6 184.7C635.5 188.2 634.4 190.6 631.8 195C629.2 199.4 621.7 209.4 619 214.2C616.3 219 614.5 222.2 613.9 227C613.3 231.8 614.6 240.4 615.2 246.2C615.8 252 617.2 260.6 617.8 265.4C618.4 270.2 618 274.9 619 278.2C620 281.5 622.9 285.1 624.2 287.2C625.6 289.3 629.4 291.9 628 292.3C626.6 292.7 618.5 289.6 615.2 289.8C611.9 290 609.5 291.9 606.2 293.6C602.9 295.3 596.1 300.7 593.4 301.3Z" fill="#fff" stroke="#000" stroke-width="2.7" stroke-linejoin="round" />
<ellipse cx="680.1" cy="133.4" rx="10" ry="8.5" transform="rotate(10 680.1 133.4)" fill="#fff" stroke="#000" stroke-width="1.7"/>
<ellipse cx="639.8" cy="145.6" rx="9" ry="5.5" transform="rotate(25 639.8 145.6)" fill="#fff" stroke="#000" stroke-width="1.7"/>
<ellipse cx="618.7" cy="179.5" rx="6.5" ry="11" transform="rotate(10 618.7 179.5)" fill="#fff" stroke="#000" stroke-width="1.7"/>
<ellipse cx="748.3" cy="168.7" rx="9" ry="12" transform="rotate(-25 748.3 168.7)" fill="#fff" stroke="#000" stroke-width="1.7"/>
<ellipse cx="724.6" cy="137.3" rx="5.5" ry="7.5" transform="rotate(-15 724.6 137.3)" fill="#fff" stroke="#000" stroke-width="1.7"/>
<ellipse cx="775.6" cy="237.3" rx="8.5" ry="8.5" transform="rotate(0 775.6 237.3)" fill="#fff" stroke="#000" stroke-width="1.7"/>
<ellipse cx="596" cy="250" rx="5.5" ry="6.5" transform="rotate(0 596 250)" fill="#fff" stroke="#000" stroke-width="1.7"/>
<g fill="#fff" stroke="#000" stroke-width="1.6"><ellipse cx="705.8" cy="123.2" rx="2.7" ry="2.8" transform="rotate(59 705.8 123.2)"/><ellipse cx="612.8" cy="208.5" rx="2.1" ry="2.1" transform="rotate(167 612.8 208.5)"/><ellipse cx="661.2" cy="131.8" rx="2.4" ry="2.2" transform="rotate(7 661.2 131.8)"/><ellipse cx="758.6" cy="189.9" rx="2.8" ry="2.6" transform="rotate(117 758.6 189.9)"/><ellipse cx="783.3" cy="262.4" rx="2.5" ry="3.4" transform="rotate(3 783.3 262.4)"/><ellipse cx="758.5" cy="200.9" rx="2.5" ry="2.8" transform="rotate(49 758.5 200.9)"/><ellipse cx="608.2" cy="262.9" rx="3.5" ry="3.2" transform="rotate(21 608.2 262.9)"/><ellipse cx="595.1" cy="268.3" rx="2.7" ry="2.6" transform="rotate(92 595.1 268.3)"/><ellipse cx="591.5" cy="221.2" rx="2.9" ry="3" transform="rotate(11 591.5 221.2)"/><ellipse cx="660.7" cy="155.7" rx="2.9" ry="3.1" transform="rotate(10 660.7 155.7)"/><ellipse cx="611.6" cy="278.3" rx="1.9" ry="1.8" transform="rotate(9 611.6 278.3)"/><ellipse cx="765.8" cy="208.9" rx="2.1" ry="2.4" transform="rotate(172 765.8 208.9)"/><ellipse cx="676.4" cy="113" rx="2.5" ry="2.1" transform="rotate(27 676.4 113)"/><ellipse cx="772.6" cy="217.7" rx="2.8" ry="3" transform="rotate(37 772.6 217.7)"/><ellipse cx="777.3" cy="266.6" rx="2.2" ry="2" transform="rotate(175 777.3 266.6)"/><ellipse cx="626.9" cy="158.4" rx="2" ry="2.4" transform="rotate(127 626.9 158.4)"/><ellipse cx="614.5" cy="155.2" rx="2.3" ry="2" transform="rotate(140 614.5 155.2)"/><ellipse cx="706.1" cy="152.3" rx="1.9" ry="2.4" transform="rotate(83 706.1 152.3)"/><ellipse cx="597" cy="277.5" rx="2.2" ry="1.9" transform="rotate(17 597 277.5)"/><ellipse cx="608.2" cy="216.4" rx="2.2" ry="2.5" transform="rotate(15 608.2 216.4)"/><ellipse cx="771.8" cy="270.3" rx="2.6" ry="2.1" transform="rotate(131 771.8 270.3)"/><ellipse cx="774.9" cy="259.3" rx="2.6" ry="3.1" transform="rotate(146 774.9 259.3)"/><ellipse cx="604" cy="231.5" rx="3.7" ry="3" transform="rotate(142 604 231.5)"/><ellipse cx="661.9" cy="141.9" rx="3.9" ry="3.7" transform="rotate(152 661.9 141.9)"/><ellipse cx="744.2" cy="140.6" rx="2.1" ry="2" transform="rotate(126 744.2 140.6)"/><ellipse cx="768.4" cy="191.2" rx="2.2" ry="2.6" transform="rotate(141 768.4 191.2)"/><ellipse cx="688.1" cy="154.3" rx="3.3" ry="2.7" transform="rotate(108 688.1 154.3)"/><ellipse cx="725.7" cy="155.4" rx="2.3" ry="1.9" transform="rotate(60 725.7 155.4)"/><ellipse cx="617.8" cy="149.1" rx="3.4" ry="2.3" transform="rotate(39 617.8 149.1)"/><ellipse cx="674.5" cy="152.6" rx="3.4" ry="3.8" transform="rotate(82 674.5 152.6)"/><ellipse cx="758.5" cy="220.5" rx="1.8" ry="2.4" transform="rotate(30 758.5 220.5)"/><ellipse cx="695.5" cy="122.5" rx="2.7" ry="2.6" transform="rotate(114 695.5 122.5)"/><ellipse cx="717.9" cy="152.5" rx="1.7" ry="2.2" transform="rotate(75 717.9 152.5)"/><ellipse cx="601.2" cy="222.9" rx="2.6" ry="3.2" transform="rotate(50 601.2 222.9)"/><ellipse cx="603.1" cy="203.7" rx="3.2" ry="2.5" transform="rotate(79 603.1 203.7)"/><ellipse cx="785.5" cy="254.3" rx="2.2" ry="2.5" transform="rotate(95 785.5 254.3)"/><ellipse cx="606.1" cy="285.1" rx="2" ry="1.6" transform="rotate(128 606.1 285.1)"/><ellipse cx="754" cy="210" rx="2" ry="2.3" transform="rotate(61 754 210)"/><ellipse cx="761.4" cy="250.7" rx="1.9" ry="1.8" transform="rotate(178 761.4 250.7)"/><ellipse cx="703.2" cy="134.5" rx="2.4" ry="2.2" transform="rotate(60 703.2 134.5)"/><ellipse cx="739.2" cy="150.4" rx="1.6" ry="2.3" transform="rotate(114 739.2 150.4)"/><ellipse cx="596.4" cy="212.8" rx="2" ry="2.1" transform="rotate(92 596.4 212.8)"/><ellipse cx="768.3" cy="263.2" rx="1.6" ry="2.2" transform="rotate(162 768.3 263.2)"/><ellipse cx="771.1" cy="278.8" rx="1.9" ry="2.3" transform="rotate(19 771.1 278.8)"/><ellipse cx="668.2" cy="117.2" rx="2.4" ry="2.3" transform="rotate(142 668.2 117.2)"/><ellipse cx="591.3" cy="230.8" rx="2.3" ry="2" transform="rotate(66 591.3 230.8)"/><ellipse cx="776.6" cy="209.5" rx="1.7" ry="2.1" transform="rotate(87 776.6 209.5)"/><ellipse cx="769.3" cy="183.6" rx="2.8" ry="2.9" transform="rotate(150 769.3 183.6)"/><ellipse cx="599.9" cy="186.6" rx="2.6" ry="3" transform="rotate(97 599.9 186.6)"/><ellipse cx="660.3" cy="123.9" rx="2.5" ry="2.1" transform="rotate(1 660.3 123.9)"/><ellipse cx="634.3" cy="165" rx="3.1" ry="2.2" transform="rotate(62 634.3 165)"/><ellipse cx="766.9" cy="255.6" rx="3.7" ry="2.9" transform="rotate(13 766.9 255.6)"/><ellipse cx="712.9" cy="120" rx="2.2" ry="2" transform="rotate(169 712.9 120)"/><ellipse cx="651.5" cy="128.4" rx="3.8" ry="3.9" transform="rotate(47 651.5 128.4)"/><ellipse cx="760.7" cy="227.9" rx="2.2" ry="3.1" transform="rotate(76 760.7 227.9)"/><ellipse cx="592.9" cy="284.8" rx="3.4" ry="2.3" transform="rotate(6 592.9 284.8)"/><ellipse cx="602.5" cy="196.5" rx="2.4" ry="2.6" transform="rotate(176 602.5 196.5)"/><ellipse cx="699.7" cy="149.1" rx="3" ry="2.2" transform="rotate(85 699.7 149.1)"/><ellipse cx="732.7" cy="152.5" rx="2.2" ry="2.5" transform="rotate(178 732.7 152.5)"/><ellipse cx="612.2" cy="197.9" rx="2.5" ry="2.4" transform="rotate(94 612.2 197.9)"/></g>
<path d="M747.1 114.2L746.5 114.7L746.1 115.4L746 116.2L746.3 117.2L747.8 119.8L753.4 128.1L764.4 140.6L772.1 148.6L774.2 150.3L776.4 151L777.6 151L779.3 150.5L781.2 149.2L782.3 147.8L782.9 146.2L783 144.4L782.5 142.7L779.8 138.8L773.6 131.4L761.1 120.4L750.9 114.9L748.4 114Z" fill="url(#pc)" stroke="#000" stroke-width="2.6" stroke-linejoin="round" />
<path d="M776.7 123.8L776.1 124.4L776 125.1L777 127.5L785 138.1L785.9 139L798.2 149.8L813.2 161.8L825.8 170.3L832 174.9L848.8 189.9L870.5 208L884.6 220.1L887.5 222.4L888.2 222.5L888.8 222.1L889 221.6L888.9 221L886.7 218L872.7 200.8L855.7 182.6L841.6 166.5L836 161.1L807.8 138.2L793.6 128.6L792.5 128L781.4 124.2L778.1 123.5Z" fill="url(#pc)" stroke="#000" stroke-width="2.6" stroke-linejoin="round" />
<path d="M778 174C778.5 171.5 783 176.3 786 180C789 183.7 792.8 190.3 796 196C799.2 201.7 802.7 207.8 805 214C807.3 220.2 809.2 227.2 810 233C810.8 238.8 810.8 244.2 810 249C809.2 253.8 807.2 258.2 805 261.6C802.8 265 799.3 267.6 797 269.3C794.7 271 791.4 274.8 791 272C790.6 269.2 794.4 259 794.8 252.6C795.2 246.2 794.4 239.8 793.5 233.4C792.6 227 791.4 220.6 789.7 214.2C788 207.8 785.2 201.7 783.2 195C781.2 188.3 777.5 176.5 778 174Z" fill="url(#pc)" stroke="#000" stroke-width="2.6" stroke-linejoin="round" />
<path d="M760 290C761.7 285.2 766.7 292 770 291C773.3 290 776.3 285.3 780 284C783.7 282.7 787.8 281.2 792 283C796.2 284.8 801 291.3 805 295C809 298.7 813.8 299.2 816 305C818.2 310.8 818 322.5 818 330C818 337.5 818.2 345.8 816 350C813.8 354.2 809.3 353 805 355C800.7 357 793.7 359.5 790 362C786.3 364.5 786 370 783 370C780 370 775.2 366.2 772 362C768.8 357.8 766 352 764 345C762 338 760.7 329.2 760 320C759.3 310.8 758.3 294.8 760 290Z" fill="url(#pc)" stroke="#000" stroke-width="2.4" stroke-linejoin="round" />
<path d="M779 284C780.2 286.2 783.5 291.5 786 297C788.5 302.5 790.5 311 794 317C797.5 323 803.5 328.2 807 333C810.5 337.8 813.7 343.8 815 346" fill="none" stroke="#000" stroke-width="2.2"/>
<path d="M826.4 305.5C828.3 302.5 833.1 302.6 836.2 302.2C839.3 301.8 841.9 301.4 845 303C848.1 304.6 852.2 308.3 855 312C857.8 315.7 859.7 318.2 862 325C864.3 331.8 869 348.2 868.7 352.7C868.4 357.2 863.5 354.7 860 352C856.5 349.3 852.4 339.5 847.6 336.4C842.8 333.3 835.1 335.9 831.3 333.2C827.5 330.5 825.6 324.7 824.8 320.1C824 315.5 824.5 308.5 826.4 305.5Z" fill="url(#pc)" stroke="#000" stroke-width="2.4" stroke-linejoin="round" />
<path d="M842.8 214C843.6 211.4 845.4 209.6 848.4 209.6C851.4 209.6 855.4 210.5 861 213.8C866.6 217.1 876.2 224.5 882 229.2C887.8 233.9 892.6 238.3 895.9 241.8C899.1 245.3 899.1 243.3 901.5 250C903.9 256.7 908.3 271.3 910.5 281.9C912.7 292.4 914.6 301.1 914.6 313.3C914.6 325.5 912.6 344.7 910.5 355.1C908.4 365.6 904.4 371.8 902 376C899.6 380.2 897.9 383.2 896.4 380.4C894.9 377.6 895.4 366 893.2 359.2C891 352.4 886.7 346.2 883.4 339.7C880.1 333.2 876.6 326.6 873.6 320.1C870.6 313.6 867.4 307.1 865.5 300.6C863.6 294.1 863.3 286.7 862.2 281C861.1 275.3 860.6 272.2 859 266.4C857.4 260.5 855 252.8 852.5 245.9C850 239 845.4 230.3 843.8 225C842.2 219.7 842 216.6 842.8 214Z" fill="url(#pc)" stroke="#000" stroke-width="2.4" stroke-linejoin="round" />
<path d="M914 318C915.3 315.8 920 320 922 322C924 324 925.3 322.7 926.2 330C927.1 337.3 926.7 353.9 927.2 365.6C927.7 377.3 929.3 390.9 929.3 400C929.3 409.1 928.2 415.3 927 420C925.8 424.7 924.6 425.7 921.8 428C919 430.3 914.5 432.7 910 434C905.5 435.3 900.8 435.3 895 436C889.2 436.7 883 438 875 438C867 438 856.5 436.3 847 436C837.5 435.7 823.2 438.7 818 436C812.8 433.3 815.7 425.5 816 420C816.3 414.5 816.8 407.7 820 403C823.2 398.3 829 395 835 392C841 389 849.2 385.8 856 385C862.8 384.2 869.8 387.2 876 387C882.2 386.8 888.7 385.8 893 384C897.3 382.2 899.1 380.8 902 376C904.9 371.2 908.5 361.8 910.5 355C912.5 348.2 913.4 341.2 914 335C914.6 328.8 912.7 320.2 914 318Z" fill="url(#pcw)" stroke="#000" stroke-width="2.4" stroke-linejoin="round" />
<path d="M859 266.4C860.4 265.8 861.1 275.3 862.2 281C863.3 286.7 863.6 294.1 865.5 300.6C867.4 307.1 870.6 313.6 873.6 320.1C876.6 326.6 880.1 333.2 883.4 339.7C886.7 346.2 890.2 354.3 893.2 359.2C896.2 364.1 900.8 365.5 901.3 369C901.8 372.5 898.8 377.7 896.4 380.4C894 383.1 889.7 384.8 886.7 385.3C883.7 385.9 880.1 386.4 878.5 383.7C876.9 381 877.4 374.2 876.9 369C876.4 363.8 876.7 358.1 875.3 352.7C873.9 347.3 871.2 341.8 868.7 336.4C866.2 331 863.3 324.7 860.6 320.1C857.9 315.5 855.2 311.4 852.5 308.7C849.8 306 846.8 305.8 844.3 303.9C841.8 302 838.1 299.2 837.8 297.3C837.5 295.4 840 294.7 842.7 292.5C845.4 290.3 851.3 288.7 854 284.3C856.7 279.9 857.6 266.9 859 266.4Z" fill="#fff" stroke="#000" stroke-width="2.6" stroke-linejoin="round" />
<g fill="#fff" stroke="#000" stroke-width="1.5"><ellipse cx="885.3" cy="364.6" rx="1.7" ry="1.7" transform="rotate(130 885.3 364.6)"/><ellipse cx="858" cy="300.3" rx="1.6" ry="1.5" transform="rotate(100 858 300.3)"/><ellipse cx="877.6" cy="338.6" rx="1.7" ry="1.8" transform="rotate(9 877.6 338.6)"/></g>
<g fill="#000"><circle cx="865.3" cy="317.2" r="1.3"/><circle cx="856.2" cy="286.5" r="1.3"/><circle cx="881.1" cy="350.1" r="1.3"/><circle cx="893.9" cy="370" r="1.3"/><circle cx="849.9" cy="301.1" r="1.3"/><circle cx="893.1" cy="379.5" r="1.3"/><circle cx="862.8" cy="303.3" r="1.3"/><circle cx="860.2" cy="314.4" r="1.3"/><circle cx="885.7" cy="359.5" r="1.3"/><circle cx="883.8" cy="372.6" r="1.3"/></g>
<path d="M630 333C635.7 330 650.7 331.3 660 332C669.3 332.7 680.9 334.8 686 337C691.1 339.2 690.8 342.3 690.5 345C690.2 347.7 686.9 351 684 353C681.1 355 677 354.5 673 357C669 359.5 664.2 363.8 660 368C655.8 372.2 652 377.3 648 382C644 386.7 639.7 394.7 636 396C632.3 397.3 628 394 626 390C624 386 624 378.7 624 372C624 365.3 625 356.5 626 350C627 343.5 624.3 336 630 333Z" fill="url(#pc)" stroke="#000" stroke-width="2.4" stroke-linejoin="round" />
<path d="M700 333C704.7 331.3 717.3 330.8 725 330C732.7 329.2 741.2 326.8 746 328.5C750.8 330.2 752.3 334.8 754 340C755.7 345.2 755.7 353.8 756 360C756.3 366.2 757 372.7 756 377C755 381.3 752.7 385.8 750 386C747.3 386.2 743.7 381.8 740 378C736.3 374.2 732.8 366.8 728 363C723.2 359.2 715.8 357.5 711 355C706.2 352.5 701.3 350.5 699 348C696.7 345.5 696.8 342.5 697 340C697.2 337.5 695.3 334.7 700 333Z" fill="url(#pc)" stroke="#000" stroke-width="2.4" stroke-linejoin="round" />
<path d="M641 396.5C641.2 394.7 647.7 387 650 384C652.3 381 658.4 373.3 661 371C663.6 368.7 669.3 365.1 672 364C674.7 362.9 681.2 361.5 684 361.5C686.8 361.5 693 364.2 696 364C699 363.8 707 359.9 710 360C713 360.1 719.4 362.9 722 365C724.6 367.1 729.9 374.6 732 378C734.1 381.4 739.9 391.6 740 394C740.1 396.4 738.8 398 733 398.5C727.2 399 699.9 398.4 690 398.5C680.1 398.6 653.7 399.7 648 399.5C642.3 399.3 640.8 398.3 641 396.5Z" fill="#fff" stroke="#000" stroke-width="9.4" stroke-linejoin="round"/>
<path d="M641 396.5C641.2 394.7 647.7 387 650 384C652.3 381 658.4 373.3 661 371C663.6 368.7 669.3 365.1 672 364C674.7 362.9 681.2 361.5 684 361.5C686.8 361.5 693 364.2 696 364C699 363.8 707 359.9 710 360C713 360.1 719.4 362.9 722 365C724.6 367.1 729.9 374.6 732 378C734.1 381.4 739.9 391.6 740 394C740.1 396.4 738.8 398 733 398.5C727.2 399 699.9 398.4 690 398.5C680.1 398.6 653.7 399.7 648 399.5C642.3 399.3 640.8 398.3 641 396.5Z" fill="none" stroke="#fff" stroke-width="4.4" stroke-linejoin="round"/>
<path d="M612 432C613.7 429.2 619.5 423.7 625 420C630.5 416.3 638.3 412.5 645 410C651.7 407.5 658.8 405.8 665 405C671.2 404.2 678.3 403.8 682 405C685.7 406.2 686.2 408.5 687 412C687.8 415.5 687.8 422.8 687 426C686.2 429.2 686.5 429.8 682 431C677.5 432.2 667.8 432.2 660 433C652.2 433.8 642.5 435.3 635 436C627.5 436.7 618.8 437.7 615 437C611.2 436.3 610.3 434.8 612 432Z" fill="url(#pc)" stroke="#000" stroke-width="2.4" stroke-linejoin="round" />
<path d="M698 405C701.6 403.7 711 403.5 718 404C725 404.5 733.5 405.8 740 408C746.5 410.2 752.7 413.7 757 417C761.3 420.3 767.2 425.8 766 428C764.8 430.2 756.8 430.1 750 430.5C743.2 430.9 733 430.6 725 430.5C717 430.4 706.8 431.1 702 430C697.2 428.9 697.4 427 696.5 424C695.6 421 696.2 415.2 696.5 412C696.8 408.8 694.4 406.3 698 405Z" fill="url(#pc)" stroke="#000" stroke-width="2.4" stroke-linejoin="round" />
<path d="M589.4 452.2L584.1 462.1L580.7 470L580.5 471.3L580.9 472.6L581.8 473.7L583 474.3L584 474.5L585 474.3L585.9 473.9L586.9 473.1L598.6 459.8L608.5 444.9L609 443L608.5 441.1L607.5 439.9L606.2 439.2L604.6 439L603.1 439.5L597.1 444.6Z" fill="url(#pc)" stroke="#000" stroke-width="2.4" stroke-linejoin="round" />
<path d="M771.5 428.3L770.2 429.2L769.3 430.5L769 432L769.3 433.5L770.6 435.8L775.8 442.9L778 446.3L781.4 450L786.9 456.7L788.8 458.7L789.7 459.2L790.7 459.5L792 459.3L792.9 458.9L793.7 458.2L794.3 457L794.5 455.7L794.2 454.4L791.3 446.8L788 439.7L785.8 437.4L782.3 434.2L775.6 429L773.8 428.1L772.6 428Z" fill="url(#pc)" stroke="#000" stroke-width="2.4" stroke-linejoin="round" />
<circle cx="780.3" cy="398.2" r="4.4" fill="#fff" stroke="#000" stroke-width="2.8"/>
<circle cx="805" cy="416" r="9.8" fill="#fff" stroke="#000" stroke-width="2.4"/>
<circle cx="805" cy="416" r="7.4" fill="none" stroke="#000" stroke-width="1.4"/>
<path d="M647.7 441.3C652.3 440.9 656.9 442.3 657.7 445C658.5 447.7 656.5 451.3 652.7 457.6C648.9 463.9 640 475.1 635 482.6C630 490.1 626.8 496.8 622.6 502.7C618.4 508.6 613.8 515.7 610 517.7C606.2 519.8 603.3 518.8 600 515C596.7 511.2 591.2 501.2 590 495C588.8 488.8 590.1 483 592.6 477.6C595.1 472.2 598.8 467.6 605 462.6C611.2 457.6 622.9 451.2 630 447.6C637.1 444.1 643.1 441.7 647.7 441.3Z" fill="#fff" stroke="#000" stroke-width="2.4" stroke-linejoin="round" />
<g fill="#fff" stroke="#000" stroke-width="1.5"><ellipse cx="647.4" cy="450.9" rx="1.8" ry="1.5" transform="rotate(107 647.4 450.9)"/><ellipse cx="627.7" cy="462.7" rx="2" ry="2.2" transform="rotate(99 627.7 462.7)"/><ellipse cx="608.6" cy="492.8" rx="2.3" ry="2.5" transform="rotate(11 608.6 492.8)"/><ellipse cx="608.2" cy="481.5" rx="1.4" ry="1.4" transform="rotate(154 608.2 481.5)"/><ellipse cx="627.2" cy="480.5" rx="1.6" ry="1.8" transform="rotate(172 627.2 480.5)"/><ellipse cx="615.5" cy="474.2" rx="2.3" ry="1.7" transform="rotate(104 615.5 474.2)"/><ellipse cx="608.4" cy="472.9" rx="2.4" ry="3.1" transform="rotate(25 608.4 472.9)"/><ellipse cx="623.2" cy="468.1" rx="2.4" ry="2.2" transform="rotate(65 623.2 468.1)"/><ellipse cx="601.9" cy="499.9" rx="2.9" ry="2.7" transform="rotate(95 601.9 499.9)"/><ellipse cx="634.3" cy="456.3" rx="2.2" ry="3" transform="rotate(19 634.3 456.3)"/><ellipse cx="615.4" cy="480.7" rx="2.3" ry="2.1" transform="rotate(176 615.4 480.7)"/><ellipse cx="632.1" cy="473.5" rx="2.2" ry="2.7" transform="rotate(18 632.1 473.5)"/><ellipse cx="637.5" cy="467.3" rx="1.3" ry="1.8" transform="rotate(136 637.5 467.3)"/><ellipse cx="601.1" cy="484.3" rx="2.7" ry="2.1" transform="rotate(66 601.1 484.3)"/><ellipse cx="616.6" cy="490.7" rx="3" ry="2.4" transform="rotate(124 616.6 490.7)"/><ellipse cx="604.5" cy="507.6" rx="2.2" ry="2.6" transform="rotate(128 604.5 507.6)"/><ellipse cx="609.6" cy="499.8" rx="2" ry="1.6" transform="rotate(94 609.6 499.8)"/><ellipse cx="641.7" cy="455.7" rx="2" ry="1.6" transform="rotate(77 641.7 455.7)"/></g>
<g fill="#000"><circle cx="626.4" cy="473.8" r="1.2"/><circle cx="624.3" cy="485.4" r="1.2"/><circle cx="617.7" cy="461.7" r="1.2"/><circle cx="603.4" cy="476.8" r="1.2"/><circle cx="614.6" cy="503.8" r="1.2"/></g>
<path d="M725.3 440C727.4 436.4 734.5 434.2 740.4 436.3C746.2 438.4 753.7 447 760.4 452.6C767.1 458.2 775.6 464.6 780.4 470C785.2 475.4 788.8 479.6 789.2 485C789.6 490.4 787 498.9 783 502.7C779 506.5 770.8 508.5 765.4 507.7C760 506.9 754.6 502.7 750.4 497.7C746.2 492.7 744.2 484.3 740.4 477.6C736.6 470.9 730.3 463.9 727.8 457.6C725.3 451.3 723.2 443.6 725.3 440Z" fill="#fff" stroke="#000" stroke-width="2.4" stroke-linejoin="round" />
<g fill="#fff" stroke="#000" stroke-width="1.5"><ellipse cx="765.8" cy="468.1" rx="2.8" ry="2.7" transform="rotate(166 765.8 468.1)"/><ellipse cx="758" cy="463.3" rx="3.3" ry="4" transform="rotate(64 758 463.3)"/><ellipse cx="769.3" cy="498.1" rx="2.2" ry="2.4" transform="rotate(175 769.3 498.1)"/><ellipse cx="763.6" cy="480.4" rx="1.8" ry="2.1" transform="rotate(165 763.6 480.4)"/><ellipse cx="767.8" cy="488.9" rx="1.9" ry="2.1" transform="rotate(47 767.8 488.9)"/><ellipse cx="750.8" cy="482.1" rx="2.3" ry="2.4" transform="rotate(97 750.8 482.1)"/><ellipse cx="745.4" cy="464.7" rx="1.6" ry="2" transform="rotate(133 745.4 464.7)"/><ellipse cx="734.5" cy="452.6" rx="2.2" ry="2" transform="rotate(158 734.5 452.6)"/><ellipse cx="758.6" cy="492.3" rx="2.3" ry="2.6" transform="rotate(147 758.6 492.3)"/><ellipse cx="742.6" cy="446.8" rx="1.5" ry="1.7" transform="rotate(32 742.6 446.8)"/><ellipse cx="771.8" cy="476.2" rx="2.7" ry="2.9" transform="rotate(158 771.8 476.2)"/><ellipse cx="777.4" cy="490.5" rx="2.3" ry="2.4" transform="rotate(72 777.4 490.5)"/><ellipse cx="761.1" cy="474" rx="2" ry="1.9" transform="rotate(164 761.1 474)"/><ellipse cx="755.9" cy="486" rx="2" ry="1.9" transform="rotate(164 755.9 486)"/><ellipse cx="753.6" cy="471" rx="2.3" ry="2.8" transform="rotate(146 753.6 471)"/><ellipse cx="749.2" cy="458.5" rx="3.3" ry="2.5" transform="rotate(161 749.2 458.5)"/><ellipse cx="734" cy="444.5" rx="1.9" ry="2.5" transform="rotate(32 734 444.5)"/><ellipse cx="779.6" cy="495.8" rx="1.6" ry="1.5" transform="rotate(150 779.6 495.8)"/></g>
<g fill="#000"><circle cx="739.2" cy="461.7" r="1.2"/><circle cx="777.5" cy="484.3" r="1.2"/><circle cx="783.5" cy="487.2" r="1.2"/><circle cx="756" cy="455.8" r="1.2"/><circle cx="743.3" cy="455.2" r="1.2"/></g>
<circle cx="691.5" cy="520.2" r="45.5" fill="url(#ph)" stroke="#000" stroke-width="2.6"/>
<circle cx="691.5" cy="520.2" r="41.8" fill="none" stroke="#000" stroke-width="1.5"/>
<path d="M667.5 516 C667 500 672 492.7 682 492.7 C688 492.7 691.8 495 692.3 500.5 L692.8 502.5 L693.3 500.5 C694 495 698 492.7 704.8 492.7 C714 493 718.8 501 718.6 516 C718.5 531 713 537.7 706 537.7 C699 537.7 694.2 535 693.3 527 L692.8 524.5 L692.3 527 C691.2 535 687 537.7 680.9 537.7 C673 537.7 667.7 531 667.5 516Z" fill="#fff" stroke="#000" stroke-width="2.5" stroke-linejoin="round"/>
<path d="M673.6 511.6 Q679 509.5 680.2 499.3 Q681.5 505.5 687 506.4 Q692.8 507.6 698.5 506.4 Q704 505.5 704.5 498.7 Q705.8 509.5 711.4 511 Q705.5 513 705.4 525.7 Q703 512 697.2 510.6 Q692.8 509.3 689 510.6 Q682.5 512 680.2 526 Q679.5 513.5 673.6 511.6Z" fill="#fff" stroke="#000" stroke-width="1.4" stroke-linejoin="round"/>
<path d="M621.4 534.4L620.2 535.5L619.6 536.4L619.1 537.9L619 539.5L621 545.9L624.1 554L626.8 559.3L630.8 565.4L635.6 571.5L641 577.1L645.8 581.2L651.2 584.9L656.9 588.3L664.2 591.7L672 594.3L678.8 596L685.6 597.1L691 597.5L697.8 597.2L703.2 596.4L708.9 595.3L716.9 593.1L723.2 590.6L730.7 587L736.3 583.6L740.4 580.6L745.1 576.3L749.2 571.7L752.9 566.7L756.2 561.3L758.5 556.2L760.6 550.4L763 542.2L764.5 536L764.3 534.4L763.9 533.4L762.9 532.1L761.6 531.1L760.1 530.6L758.5 530.5L756.9 530.9L755.5 531.7L754.4 532.9L753.7 534.2L747.9 547.5L745.6 551.9L744.2 554.1L741.1 557.9L737.8 561.3L733.7 564.7L729.8 567.2L726.6 568.9L722.8 570.5L714.1 573.2L707.8 574.7L702.1 575.9L697.2 576.4L692.4 576.5L687.7 576.4L683.4 575.9L675.1 574.2L663.7 570.5L659.3 568.6L654.5 566.1L650.7 563.5L646.8 560.3L643.3 557L639.2 552.5L635.7 547.7L630.1 537.6L628.4 535.1L627.1 534.1L625 533.5L622.9 533.7Z" fill="#fff" stroke="#000" stroke-width="2.4" stroke-linejoin="round" />
<g fill="#fff" stroke="#000" stroke-width="1.3"><ellipse cx="629.6" cy="542.7" rx="2.6" ry="2"/><ellipse cx="631.7" cy="549.9" rx="1.7" ry="1.3"/><ellipse cx="634.8" cy="556.9" rx="1.7" ry="1.3"/><ellipse cx="638.9" cy="563.4" rx="2.6" ry="2"/><ellipse cx="643.9" cy="569.4" rx="1.7" ry="1.3"/><ellipse cx="649.8" cy="574.7" rx="1.7" ry="1.3"/><ellipse cx="656.3" cy="579.3" rx="2.6" ry="2"/><ellipse cx="663.5" cy="583.1" rx="1.7" ry="1.3"/><ellipse cx="671.1" cy="585.9" rx="1.7" ry="1.3"/><ellipse cx="679.1" cy="587.9" rx="2.6" ry="2"/><ellipse cx="687.4" cy="588.9" rx="1.7" ry="1.3"/><ellipse cx="695.6" cy="588.9" rx="1.7" ry="1.3"/><ellipse cx="703.9" cy="587.9" rx="2.6" ry="2"/><ellipse cx="711.9" cy="585.9" rx="1.7" ry="1.3"/><ellipse cx="719.5" cy="583.1" rx="1.7" ry="1.3"/><ellipse cx="726.7" cy="579.3" rx="2.6" ry="2"/><ellipse cx="733.2" cy="574.7" rx="1.7" ry="1.3"/><ellipse cx="739.1" cy="569.4" rx="1.7" ry="1.3"/><ellipse cx="744.1" cy="563.4" rx="2.6" ry="2"/><ellipse cx="748.2" cy="556.9" rx="1.7" ry="1.3"/><ellipse cx="751.3" cy="549.9" rx="1.7" ry="1.3"/><ellipse cx="753.4" cy="542.7" rx="2.6" ry="2"/></g>
<path d="M474.5 503.1L473.5 518L473 530L473.4 543L474.2 557L475.6 569.9L477.6 583.4L479.7 593.6L482.3 603.7L486.2 614.8L491.5 627.7L497.2 638.8L503.3 648.8L505.4 651.8L507.9 654.7L511.4 658.4L516.5 663.2L522.1 667.9L523.7 668.5L525 668.3L526.2 667.7L527.2 666.3L527.5 665L527.2 663.7L525.4 660.6L516.8 647.9L513.1 641.2L509.7 634.6L501.7 616L498.5 607.8L495.7 599.7L493.4 590.8L491.7 582.7L490.3 574.3L489 564.3L488.1 555.6L487.4 543L486.9 525.6L487 498L486.7 496.3L485.6 494.2L483.8 492.7L481.6 492L479.3 492.3L477.2 493.4L476 494.7L475.3 496.3Z" fill="url(#pc)" stroke="#000" stroke-width="2.4" stroke-linejoin="round" />
<path d="M492.5 547.3L491 548.9L490.5 551L490.5 562.8L491.1 575.1L491.6 579.3L493.3 587.8L497.2 602.2L499.1 607.9L502.2 615.9L505.3 622.8L509.2 630.6L512.7 636.9L518 645.5L528.4 660.4L539.8 674.8L545.8 681.6L550 686L555 690.6L561 695.7L575.6 706.7L589.3 714.8L602.7 721.5L612.3 724.8L621.4 727.2L627.8 728.5L628.7 728.4L629.6 727.9L630.2 727.2L630.5 726L630.2 724.8L629.6 724.1L626.7 722.1L611.4 713.1L599.5 705L592.5 699.8L579 689.1L568.7 680.5L560.6 672.6L555.7 667.2L549 659.2L538 645L529.6 633.3L523.2 623.1L516.8 611L511.6 598.9L507.6 587.9L503.8 574.7L502.4 567.5L499.9 552.2L499.2 549.3L498.2 547.8L496.3 546.7L494.6 546.5Z" fill="url(#pc)" stroke="#000" stroke-width="2.4" stroke-linejoin="round" />
<path d="M509.3 496.2L506.9 497.9L505.2 500.3L504.2 503L503.8 505.9L503.1 517.4L503 530L503.2 532.5L504.7 539.7L507.8 553.2L510.5 563.2L515.2 573.7L519.3 581.6L523.4 587.8L524.7 589L526.3 589.7L527.4 590L529.2 589.9L530.8 589.3L531.8 588.6L533.3 586.8L534 584.6L534 580.1L532.3 564.6L531.9 558.9L530.1 543.9L528.9 528.7L524.6 506L523.6 502.1L522.8 500.3L521.1 497.9L519.6 496.7L516.9 495.4L515 495L512 495.2Z" fill="url(#pc)" stroke="#000" stroke-width="2.4" stroke-linejoin="round" />
<path d="M535.4 536.3L533.5 537.9L532.3 540.1L532 541.4L531.8 547L531.7 570L532.6 587.7L533.8 599L534.8 604.3L537.2 612.6L540 620.9L543.5 630.3L544.8 632.2L546.2 633.3L547.8 633.9L549.6 634L551.8 633.3L553.6 631.8L554.7 629.7L555 627.4L550.7 604.7L548.9 591.8L545 541.4L544.5 539.5L543.9 538.4L542.6 537L541.6 536.3L540.4 535.8L538.5 535.5L536.6 535.8Z" fill="url(#pc)" stroke="#000" stroke-width="2.4" stroke-linejoin="round" />
<path d="M553 532.5L550.9 534.9L549.8 536.8L549.1 539.9L548.9 543.2L548.9 565.9L549.4 589.5L550.1 601.9L551.3 612.6L552.8 622.4L553.9 628.7L555.7 636L558.2 643.6L560 648.5L562.9 654.8L565.5 659.8L570.2 667.5L577 677.3L583 685.3L589.7 693L597.3 700.7L607.3 709.3L614.4 714.6L621.9 719.8L630.3 725.1L635.4 727.4L640 729.1L640.2 732.7L640.9 734L642.1 735L644 735.5L683.5 735.5L684.7 735.3L685.7 734.8L687 733.4L687.5 731.5L687.5 696.5L687.2 695L686.3 693.7L685.4 693L683.9 692.5L666.5 692.5L655.2 690.5L649.5 688.8L642.5 685.8L636.3 682.7L628.1 678.2L621.8 674.3L614.3 669.1L607.6 663.7L602.4 659.1L596.7 653.5L591.2 647.1L586.4 640.7L582.3 633.6L580.4 628.5L578.1 619.6L575.9 606.8L574.9 599.5L574.3 592.8L571.4 545L570.9 539.9L570.5 537.8L569.7 535.8L567.8 533.2L565.2 531.3L563.2 530.5L560 530L557.9 530.2L554.8 531.3Z" fill="url(#pc)" stroke="#000" stroke-width="2.4" stroke-linejoin="round" />
<path d="M582.7 580.8L581.1 582.1L580.2 583.1L579.3 585L579 586.3L579 594.8L579.7 603.4L580.4 607.6L583.5 617L586.5 623.9L589.5 629L593.1 633L597.4 636.7L602 639.9L608.3 643.5L613.3 644.9L620.6 646.1L626.6 646.6L628.5 646.5L629.4 646.1L630.1 645.4L630.5 644.5L630.4 643.3L629.9 642.4L627.5 640.3L618.3 634.2L612.5 629L609.5 626L607.3 623.4L603.6 617.6L601.7 613.8L599.5 608.5L596 597.5L593.1 586.3L591.8 583.1L589.9 581.2L587.4 580.1L585.3 580Z" fill="url(#pc)" stroke="#000" stroke-width="2.4" stroke-linejoin="round" />
<path d="M602.5 604C603.8 602 607.1 604.5 614 605.8C620.9 607.1 634 611.1 644 611.8C654 612.5 667.1 609.8 673.7 609.8C680.3 609.8 681.5 610.1 683.6 611.8C685.7 613.5 686 615.6 686.5 620C687 624.4 687.3 633.8 686.5 638C685.7 642.2 687.1 644.5 681.7 645.4C676.3 646.3 662 644.4 654 643.4C646 642.4 640.2 641.4 634 639.5C627.8 637.6 621.7 635.6 617 632C612.3 628.4 608.4 622.7 606 618C603.6 613.3 601.2 606 602.5 604Z" fill="url(#pc)" stroke="#000" stroke-width="2.4" stroke-linejoin="round" />
<path d="M610.4 661.2C611.2 659 615.1 657.1 620 656.5C624.9 655.9 632.5 657.6 640 657.5C647.5 657.4 657.8 656.3 665 656C672.2 655.7 679.3 654.5 683 655.5C686.7 656.5 686.4 658.4 687 662C687.6 665.6 687.4 673.5 686.6 677C685.8 680.5 686.4 682.2 682 683C677.6 683.8 667.8 682.8 660 682C652.2 681.2 642.5 680 635 678C627.5 676 619.1 672.8 615 670C610.9 667.2 609.6 663.5 610.4 661.2Z" fill="url(#pc)" stroke="#000" stroke-width="2.4" stroke-linejoin="round" />
<path d="M568.3 712.7L567.6 713.4L567.5 714.3L567.8 715L568.8 715.7L573.8 718.8L587.6 726.4L612.5 738L630.3 744.3L638.6 746.8L644 748L652.8 749L663 749.5L664.6 749.3L666.5 748.3L667.6 747.1L668.3 745.6L668.5 743.5L667.9 741.4L666.5 739.7L664.6 738.7L649.8 736.2L639.2 733.5L591.5 717.2L574.4 713.3L569.9 712.6Z" fill="url(#pc)" stroke="#000" stroke-width="2.4" stroke-linejoin="round" />
<path d="M891.7 586.5L889.1 597L885.1 609.9L877.2 629.9L876.1 633L876.1 635L876.8 636.8L878.2 638.2L880 638.9L881.5 639L882.9 638.6L884.2 637.9L885.2 636.8L892.3 624.8L897.4 615L899.5 610.7L903.3 599.4L906 590.1L908.4 579.5L910.7 563.2L912.6 542.7L913 533.7L913.5 510L913.3 483.8L913 477.6L912.5 476.1L911.8 475.2L910.9 474.5L909.8 474.1L908.2 474.1L906.8 474.7L905.7 475.8L905.2 476.8L902.4 488.7L898.6 508.5L898.2 515.9L897.7 537.2L896.4 554.7L894.6 570.8Z" fill="url(#pc)" stroke="#000" stroke-width="2.4" stroke-linejoin="round" />
<path d="M848 641.4L831.8 672.7L816 701L815.1 703.1L815 704.3L815.5 705.7L816.9 706.8L818.6 706.9L820.4 706L825 702.5L832.3 696L839.8 688.8L848.9 677.4L858.3 664.6L867.4 649.7L873.7 638.2L880.8 622.6L885.3 611.2L888.8 600.7L893.1 584.5L895.3 575.2L895.7 572.3L896.8 563L898.5 545.9L898.5 533.1L898.3 528.5L897.8 525.5L896.5 523.5L894.9 522.4L893 522L891.5 522.2L890.2 522.8L888.8 524.3L885.4 529.8L880.8 540L879.1 545.2L868.4 588.3L866.2 595.9L862.4 607.3L857.7 619.7L851.5 634Z" fill="url(#pc)" stroke="#000" stroke-width="2.4" stroke-linejoin="round" />
<path d="M863.3 467.2L860.9 468.9L859.2 471.3L858.2 474L857.9 476.8L857.5 500L858.3 515.4L858.6 531.3L861 545.7L861.8 549.1L862.7 551.3L864.3 553.7L866.2 555.1L868.4 555.8L870.8 556L872.3 555.7L874.4 554.7L876.2 553.1L877.9 550.8L879.8 547.5L882.3 542L884.1 536.8L885.2 532.6L885.5 528.4L885.4 519.4L884.4 498.7L882.7 490.6L880.2 481.2L877.9 473.8L876.3 470.4L874.3 468.3L872.7 467.2L870.9 466.4L869 466L867 466L865.1 466.4Z" fill="url(#pc)" stroke="#000" stroke-width="2.4" stroke-linejoin="round" />
<path d="M818 570L818 600L818.4 616.6L818.9 622.5L819.8 626.2L820.9 628.1L822.2 629.8L823.9 631.1L825.8 632.2L827.9 632.8L830 633L832.1 632.8L834.2 632.2L836.1 631.1L837.8 629.8L839.1 628.1L840.6 625.7L844 618.8L847.7 609.4L849.3 604.6L850.9 598L853.2 586.7L855.9 571.9L856.6 559.9L857 545L856.2 538L854.5 527.6L852.8 521.9L851.3 519.1L850.4 517.8L849.3 516.7L846.9 514.7L844.1 513.2L842.6 512.7L839.6 512.1L836.4 512.1L833.4 512.7L830.5 513.9L827.8 515.6L825.6 517.8L823.9 520.5L822.5 523.9L821.2 529.4L819.1 543.1L818.6 559.9Z" fill="url(#pc)" stroke="#000" stroke-width="2.4" stroke-linejoin="round" />
<path d="M737 689.4L723.8 690.3L718 690L713.6 690.5L700.6 690.5L699.1 691L698.2 691.7L697.3 693L697 694.5L697 728.5L697.3 730L698.2 731.3L699.5 732.2L701 732.5L741 732.5L742.2 732.3L743.2 731.8L744.3 730.7L744.9 729.3L745 727.7L754.1 726.1L761.5 724.2L774.3 719.5L787.1 713.8L792.3 711L798.7 707.1L805.1 702.8L810.9 698.4L815.2 694.7L820.3 689.9L825 684.9L828.5 680.7L832.5 675.2L836.3 669.3L840.5 662.1L842.5 657.9L845.1 651.6L847.8 644.2L850.1 636.4L852 629.1L853.8 619L854.9 610.5L854.9 607.6L853.8 605.1L852.9 604.1L851.3 602.8L849.4 602.1L848 602L846.6 602.1L844.7 602.8L842.6 604.6L840.2 609L835.4 620.5L832.9 625.9L827.8 635L823.3 641.9L816.8 650.5L810.9 657.5L805.1 663.3L799.6 667.8L793.6 671.9L786.7 675.9L781.3 678.5L773.4 681.7L764 684.7L756 686.6L746.8 688.4Z" fill="url(#pc)" stroke="#000" stroke-width="2.4" stroke-linejoin="round" />
<path d="M697 613C697.7 609.8 697.8 609.6 700.5 609C703.2 608.4 705.1 609.5 713 609.5C720.9 609.5 739 609.9 748 609C757 608.1 761.2 605.2 767 604C772.8 602.8 779.2 603.5 783 602C786.8 600.5 787.2 599.7 790 595C792.8 590.3 796 578.7 799.5 574C803 569.3 807.6 566.3 811 567C814.4 567.7 819.2 571.3 820 578C820.8 584.7 819.3 598.8 816 607C812.7 615.2 806.2 622.9 800 627.5C793.8 632.1 785.2 633.8 778.5 634.5C771.8 635.2 766.9 631.6 760 632C753.1 632.4 744.8 635 737 637C729.2 639 719 642.6 713 644C707 645.4 703.7 645.8 701 645.5C698.3 645.2 697.8 644.9 697 642C696.2 639.1 696.5 632.8 696.5 628C696.5 623.2 696.3 616.2 697 613Z" fill="url(#pc)" stroke="#000" stroke-width="2.4" stroke-linejoin="round" />
<path d="M697 658C697.7 655.8 697.8 655.1 700.5 654.5C703.2 653.9 705.1 654.5 713 654.3C720.9 654.1 738.7 653.4 748 653.2C757.3 653 764.5 652.4 769 653C773.5 653.6 776.5 655.4 775 657C773.5 658.6 768.3 659.1 760 662.5C751.7 665.9 734.7 674.4 725 677.6C715.3 680.8 706.6 681.4 702 681.5C697.4 681.6 698.4 680.2 697.5 678C696.6 675.8 696.6 671.3 696.5 668C696.4 664.7 696.3 660.2 697 658Z" fill="url(#pc)" stroke="#000" stroke-width="2.4" stroke-linejoin="round" />
<path d="M753.1 728.6L742.1 731.2L723.9 734.9L722.1 736.1L720.9 737.9L720.5 740L720.9 742.1L721.7 743.5L722.5 744.3L723.4 744.9L724.9 745.4L726.5 745.5L735.4 744.6L751.3 742.4L761.3 739.9L773.9 736.2L777.5 735L784.5 732.2L799.4 725.4L809.5 719.1L815.5 715.1L818.2 713L818.5 712.3L818.4 711.6L817.8 710.8L817 710.5L812.4 711.5Z" fill="url(#pc)" stroke="#000" stroke-width="2.4" stroke-linejoin="round" />
<path d="M490 476C491.8 472.2 493.8 468.2 498 465C502.2 461.8 510.5 457.5 515 457C519.5 456.5 523.5 458.2 525 462C526.5 465.8 525.7 474.5 524 480C522.3 485.5 518.2 490.3 515 495C511.8 499.7 508 503.8 505 508C502 512.2 499.5 517.7 497 520C494.5 522.3 491.7 524.5 490 522C488.3 519.5 487.5 510.7 487 505C486.5 499.3 486.5 492.8 487 488C487.5 483.2 488.2 479.8 490 476Z" fill="#fff" stroke="#000" stroke-width="2.4" stroke-linejoin="round" />
<g fill="#fff" stroke="#000" stroke-width="1.4"><ellipse cx="496.3" cy="499.7" rx="3" ry="2.8" transform="rotate(105 496.3 499.7)"/><ellipse cx="506.6" cy="474.5" rx="1.3" ry="1.4" transform="rotate(141 506.6 474.5)"/><ellipse cx="502.1" cy="494.7" rx="1.7" ry="1.3" transform="rotate(109 502.1 494.7)"/><ellipse cx="492.6" cy="492.5" rx="2.5" ry="2" transform="rotate(74 492.6 492.5)"/><ellipse cx="502.3" cy="488.6" rx="1.9" ry="2" transform="rotate(73 502.3 488.6)"/><ellipse cx="514.9" cy="473.3" rx="2.4" ry="2.5" transform="rotate(32 514.9 473.3)"/><ellipse cx="497.8" cy="483.1" rx="2.2" ry="2" transform="rotate(81 497.8 483.1)"/><ellipse cx="516.1" cy="480.6" rx="2.6" ry="2.5" transform="rotate(130 516.1 480.6)"/><ellipse cx="507.2" cy="480.3" rx="1.9" ry="2.4" transform="rotate(28 507.2 480.3)"/></g>
<g fill="#000"><circle cx="513.8" cy="461.4" r="1.2"/><circle cx="496.6" cy="505.9" r="1.2"/><circle cx="494.5" cy="513.1" r="1.2"/><circle cx="499.4" cy="472.6" r="1.2"/></g>
<path d="M866.8 442.6C869.6 440.9 873.6 439.1 879.6 440C885.6 440.9 897.7 444.3 902.6 447.7C907.5 451.1 908.6 455.4 909 460.5C909.4 465.6 907.1 473.3 905.2 478.4C903.3 483.5 900.1 488.8 897.5 491.2C894.9 493.6 892.4 493.8 889.8 492.5C887.2 491.2 885.5 488.4 882.1 483.5C878.7 478.6 872.5 468.6 869.3 463C866.1 457.4 863.4 453.6 863 450.2C862.6 446.8 864 444.3 866.8 442.6Z" fill="#fff" stroke="#000" stroke-width="2.4" stroke-linejoin="round" />
<g fill="#fff" stroke="#000" stroke-width="1.4"><ellipse cx="889.9" cy="450.5" rx="1.4" ry="1.9" transform="rotate(99 889.9 450.5)"/><ellipse cx="894.7" cy="486.9" rx="1.7" ry="1.5" transform="rotate(57 894.7 486.9)"/><ellipse cx="887" cy="463.4" rx="2" ry="1.6" transform="rotate(14 887 463.4)"/><ellipse cx="886.6" cy="470.8" rx="1.5" ry="1.3" transform="rotate(166 886.6 470.8)"/><ellipse cx="899.4" cy="464.2" rx="2.5" ry="2.3" transform="rotate(14 899.4 464.2)"/><ellipse cx="869.9" cy="452.4" rx="1.4" ry="1.4" transform="rotate(81 869.9 452.4)"/><ellipse cx="890.2" cy="456.1" rx="1.7" ry="1.6" transform="rotate(8 890.2 456.1)"/><ellipse cx="896.6" cy="452.5" rx="1.6" ry="1.5" transform="rotate(162 896.6 452.5)"/><ellipse cx="897.3" cy="471.4" rx="3.3" ry="3.6" transform="rotate(71 897.3 471.4)"/><ellipse cx="884" cy="447.7" rx="2.2" ry="2.2" transform="rotate(171 884 447.7)"/></g>
<g fill="#000"><circle cx="894.3" cy="478.6" r="1.2"/><circle cx="888.4" cy="479.1" r="1.2"/><circle cx="870.7" cy="444.7" r="1.2"/><circle cx="876.2" cy="462.4" r="1.2"/></g>
<path d="M583 420 L598 402 L604 404 L588 428Z" fill="#7a7a7a"/>
<circle cx="580.6" cy="420" r="9.3" fill="#fff" stroke="#000" stroke-width="2.6"/>
<circle cx="580.6" cy="420" r="6.5" fill="#6a6a6a" stroke="#000" stroke-width="1.2"/>
<circle cx="598.6" cy="401" r="4.2" fill="#888" stroke="#000" stroke-width="3.2"/>
<circle cx="544.2" cy="463" r="11" fill="none" stroke="#000" stroke-width="2.2" stroke-dasharray="5 3.5"/>
<circle cx="830.7" cy="193.5" r="2.8" fill="#fff" stroke="#000" stroke-width="1.7"/>
<path d="M787 372C788.6 367.5 793.4 360.4 798.5 356.6C803.6 352.8 811.4 350.6 817.8 349C824.2 347.4 831.5 346.5 837 347C842.5 347.5 847.5 349.2 850.6 351.8C853.7 354.4 855.4 359 855.4 362.4C855.4 365.8 853.3 368.8 850.6 372C847.9 375.2 842.2 378.5 839 381.7C835.8 384.9 834.8 389.2 831.3 391.3C827.8 393.4 823.3 394.2 817.8 394.2C812.3 394.2 803.3 393.1 798.5 391.3C793.7 389.5 790.9 386.8 789 383.6C787.1 380.4 785.4 376.5 787 372Z" fill="url(#lg)" stroke="#000" stroke-width="2.6"/>
<path d="M787 372C788.6 367.5 793.4 360.4 798.5 356.6C803.6 352.8 811.4 350.6 817.8 349C824.2 347.4 831.5 346.5 837 347C842.5 347.5 847.5 349.2 850.6 351.8C853.7 354.4 855.4 359 855.4 362.4C855.4 365.8 853.3 368.8 850.6 372C847.9 375.2 842.2 378.5 839 381.7C835.8 384.9 834.8 389.2 831.3 391.3C827.8 393.4 823.3 394.2 817.8 394.2C812.3 394.2 803.3 393.1 798.5 391.3C793.7 389.5 790.9 386.8 789 383.6C787.1 380.4 785.4 376.5 787 372Z" fill="url(#pcn)" opacity="1" style="mix-blend-mode:multiply"/>
<circle cx="802.4" cy="371.6" r="8.2" fill="#111" stroke="#fff" stroke-width="1.3"/>
<path d="M802.4 366.2L804 370L808.1 370.3L805 373L805.9 377.1L802.4 374.9L798.9 377.1L799.8 373L796.7 370.3L800.8 370Z" fill="#fff" stroke="#fff" stroke-width="1.2" stroke-linejoin="round"/>
<path d="M841 401C842.8 398.1 846.1 394.6 850.6 393.2C855.1 391.8 862.2 392.1 868 392.3C873.8 392.5 880.4 392.4 885.2 394.2C890 396 894.7 399.2 896.8 402.9C898.9 406.6 898.8 412.4 897.8 416.3C896.8 420.2 894.7 423.4 891 426C887.3 428.6 880.7 430.2 875.6 431.8C870.5 433.4 864.7 435.3 860.2 435.6C855.7 435.9 851.5 435.6 848.6 433.7C845.7 431.8 844.3 427.9 842.9 424C841.5 420.1 840.3 414.4 840 410.6C839.7 406.8 839.2 403.9 841 401Z" fill="url(#lg)" stroke="#000" stroke-width="2.6"/>
<path d="M841 401C842.8 398.1 846.1 394.6 850.6 393.2C855.1 391.8 862.2 392.1 868 392.3C873.8 392.5 880.4 392.4 885.2 394.2C890 396 894.7 399.2 896.8 402.9C898.9 406.6 898.8 412.4 897.8 416.3C896.8 420.2 894.7 423.4 891 426C887.3 428.6 880.7 430.2 875.6 431.8C870.5 433.4 864.7 435.3 860.2 435.6C855.7 435.9 851.5 435.6 848.6 433.7C845.7 431.8 844.3 427.9 842.9 424C841.5 420.1 840.3 414.4 840 410.6C839.7 406.8 839.2 403.9 841 401Z" fill="url(#pcn)" opacity="1" style="mix-blend-mode:multiply"/>
<circle cx="884.3" cy="410.2" r="8.2" fill="#111" stroke="#fff" stroke-width="1.3"/>
<path d="M884.3 404.8L885.9 408.6L890 408.9L886.9 411.6L887.8 415.7L884.3 413.5L880.8 415.7L881.7 411.6L878.6 408.9L882.7 408.6Z" fill="#fff" stroke="#fff" stroke-width="1.2" stroke-linejoin="round"/>
<path d="M819 -5V362L816.5 373L815 362Z" fill="#000" stroke="#000" stroke-width="8" stroke-linejoin="round"/>
<path d="M819 -5V360" stroke="#999" stroke-width="2.7"/>
<path d="M876 428L1045 797" stroke="url(#ng)" stroke-width="7.2"/>
<path d="M876 428L1045 797" stroke="url(#ng2)" stroke-width="1.5"/>
<path d="M866 407L873 428" stroke="#222" stroke-width="2.2" stroke-linecap="round"/>
<path d="M425 158.3H536.5V205" fill="none" stroke="#fff" stroke-width="5.6" stroke-linejoin="miter"/>
<path d="M425 158.3H536.5V205" fill="none" stroke="#000" stroke-width="2.4" stroke-linejoin="miter"/>
<circle cx="535.8" cy="208.5" r="3.2" fill="#fff" stroke="#000" stroke-width="1.8"/>
<path d="M402.5 219H511V239" fill="none" stroke="#fff" stroke-width="5.6" stroke-linejoin="miter"/>
<path d="M402.5 219H511V239" fill="none" stroke="#000" stroke-width="2.4" stroke-linejoin="miter"/>
<path d="M382 285.3H566.3V387" fill="none" stroke="#fff" stroke-width="5.6" stroke-linejoin="miter"/>
<path d="M382 285.3H566.3V387" fill="none" stroke="#000" stroke-width="2.4" stroke-linejoin="miter"/>
<path d="M364.7 351.5H453V377" fill="none" stroke="#fff" stroke-width="5.6" stroke-linejoin="miter"/>
<path d="M364.7 351.5H453V377" fill="none" stroke="#000" stroke-width="2.4" stroke-linejoin="miter"/>
<path d="M364.7 418.2H572" fill="none" stroke="#fff" stroke-width="5.6" stroke-linejoin="miter"/>
<path d="M364.7 418.2H572" fill="none" stroke="#000" stroke-width="2.4" stroke-linejoin="miter"/>
<path d="M364.7 482.4H490" fill="none" stroke="#fff" stroke-width="5.6" stroke-linejoin="miter"/>
<path d="M364.7 482.4H490" fill="none" stroke="#000" stroke-width="2.4" stroke-linejoin="miter"/>
<path d="M402.6 618.5H544.2V475" fill="none" stroke="#fff" stroke-width="5.6" stroke-linejoin="miter"/>
<path d="M402.6 618.5H544.2V475" fill="none" stroke="#000" stroke-width="2.4" stroke-linejoin="miter"/>
<path d="M423.8 730H522V672" fill="none" stroke="#fff" stroke-width="5.6" stroke-linejoin="miter"/>
<path d="M423.8 730H522V672" fill="none" stroke="#000" stroke-width="2.4" stroke-linejoin="miter"/>
<text x="231.4" y="165.6" textLength="184.1" lengthAdjust="spacingAndGlyphs">Facial artery</text>
<text x="134" y="228.5" textLength="258.6" lengthAdjust="spacingAndGlyphs">Masticator space</text>
<text x="36.9" y="293.3" textLength="334.4" lengthAdjust="spacingAndGlyphs">Parapharyngeal space</text>
<text x="150.1" y="360" textLength="207.9" lengthAdjust="spacingAndGlyphs">Parotid space</text>
<text x="147.8" y="424.6" textLength="210.2" lengthAdjust="spacingAndGlyphs">Carotid space</text>
<text x="182.5" y="490" textLength="175.5" lengthAdjust="spacingAndGlyphs">Mastoid tip</text>
<text x="62.2" y="553.9" textLength="330.3" lengthAdjust="spacingAndGlyphs">Approximate location</text>
<text x="76.5" y="591.3" textLength="317.1" lengthAdjust="spacingAndGlyphs">of facial nerve below</text>
<text x="58.4" y="629" textLength="334.1" lengthAdjust="spacingAndGlyphs">stylomastoid foramen</text>
<text x="98.9" y="699.2" textLength="315.9" lengthAdjust="spacingAndGlyphs">Sternocleidomastoid</text>
<text x="306.6" y="735.8" textLength="108.2" lengthAdjust="spacingAndGlyphs">muscle</text>
<text x="789" y="840.8" textLength="198.6" lengthAdjust="spacingAndGlyphs">Target lesion</text>
<circle cx="765.8" cy="829.3" r="13" fill="#000"/>
<path d="M765.8 820.4L768.7 826L774.9 827L770.5 831.5L771.4 837.8L765.8 834.9L760.2 837.8L761.1 831.5L756.7 827L762.9 826Z" fill="#fff" stroke="#fff" stroke-width="1.2" stroke-linejoin="round"/>
</svg></body></html>
